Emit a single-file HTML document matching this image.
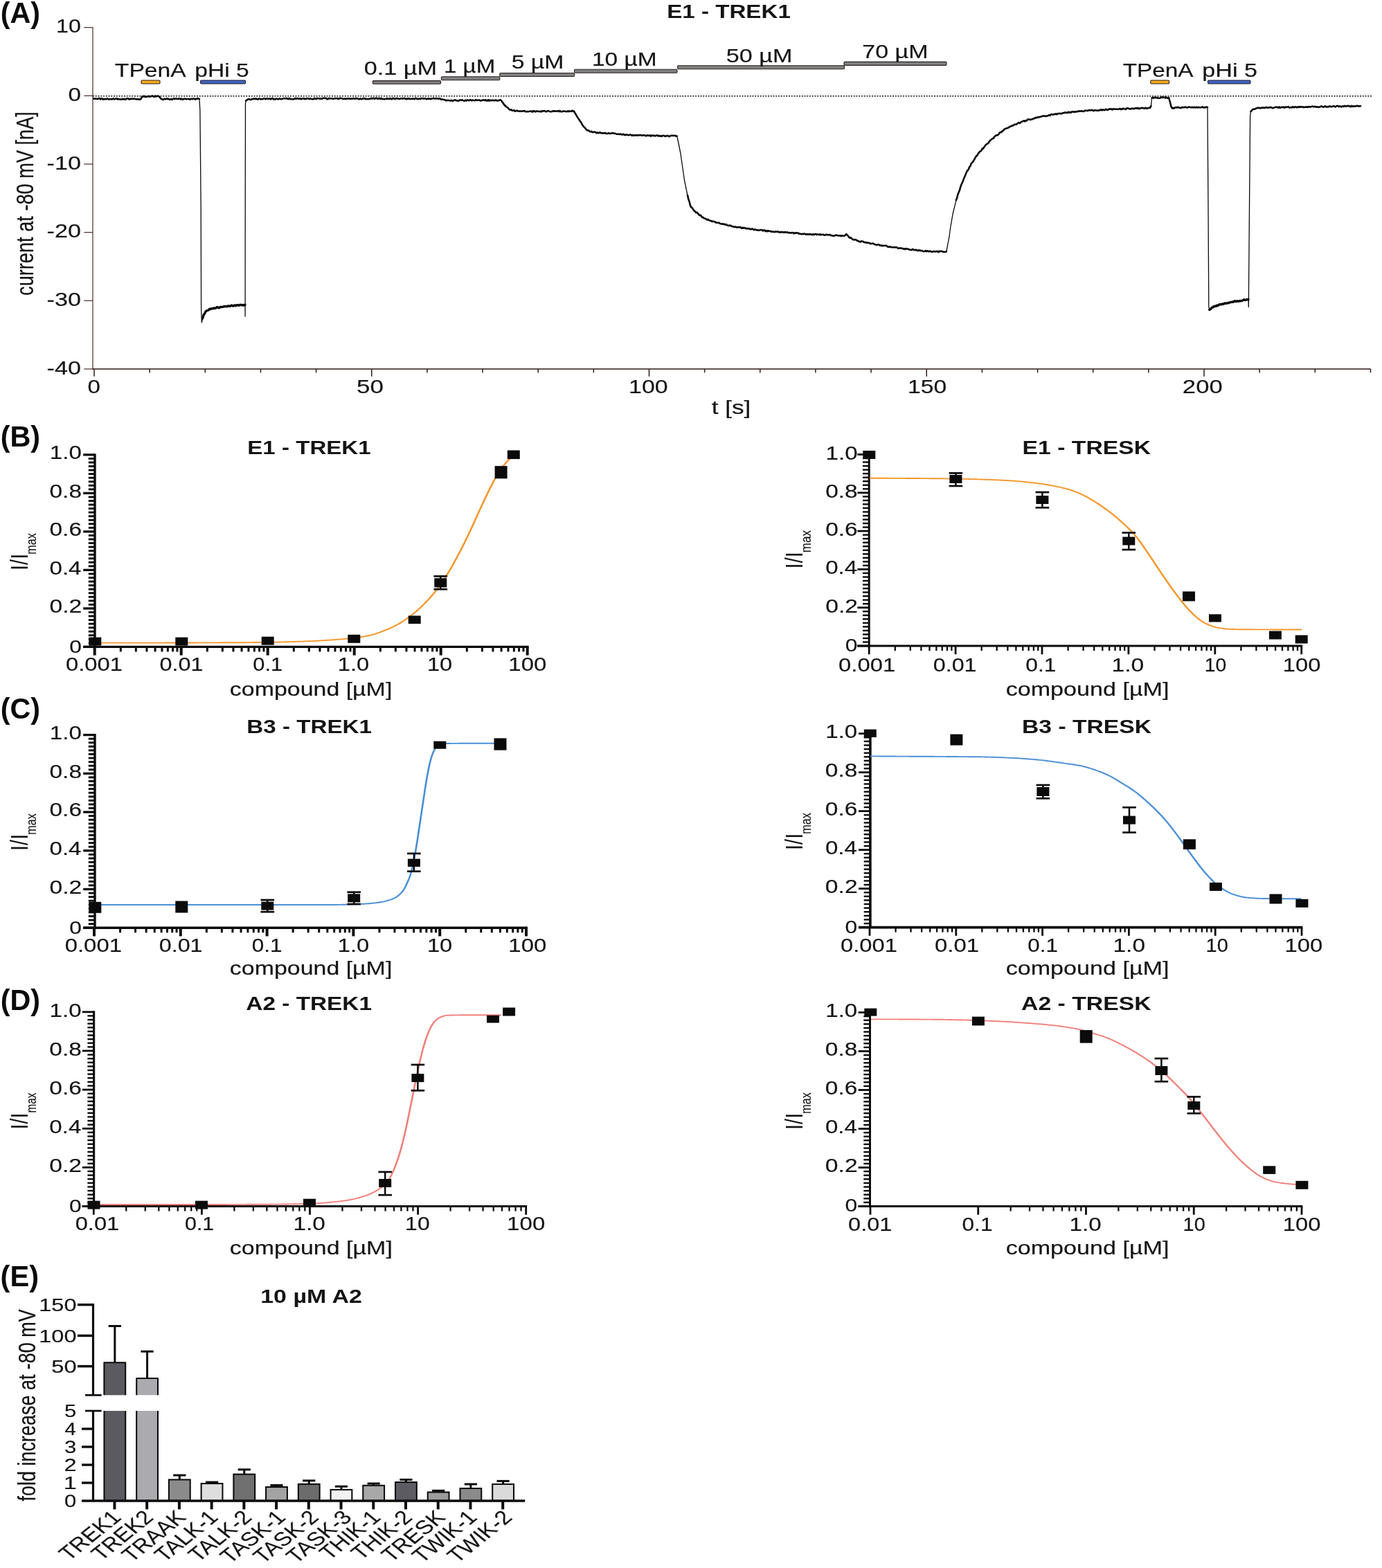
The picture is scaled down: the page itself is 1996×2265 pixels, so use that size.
<!DOCTYPE html>
<html lang="en"><head><meta charset="utf-8"><title>Figure</title>
<style>
html,body{margin:0;padding:0;background:#fff;}
body{width:1996px;height:2265px;overflow:hidden;font-family:"Liberation Sans",sans-serif;}
svg{display:block;font-family:"Liberation Sans",sans-serif;}
</style></head><body>
<svg width="1996" height="2265" viewBox="0 0 1996 2265">
<rect width="1996" height="2265" fill="#fff"/>
<line x1="134.00" y1="39.20" x2="134.00" y2="533.50" stroke="#4a2a25" stroke-width="1.2"/>
<line x1="133.50" y1="533.00" x2="1979.80" y2="533.00" stroke="#2e1a17" stroke-width="1.5"/>
<line x1="121.30" y1="39.70" x2="134.00" y2="39.70" stroke="#4a2a25" stroke-width="1.2"/>
<text transform="translate(81.08 47.30) scale(1.1689 1)" font-size="27.62" fill="#141414" stroke="#141414" stroke-width="0.18">10</text>
<line x1="121.30" y1="138.36" x2="134.00" y2="138.36" stroke="#4a2a25" stroke-width="1.2"/>
<text transform="translate(98.47 145.96) scale(1.2058 1)" font-size="27.62" fill="#141414" stroke="#141414" stroke-width="0.18">0</text>
<line x1="121.30" y1="237.02" x2="134.00" y2="237.02" stroke="#4a2a25" stroke-width="1.2"/>
<text transform="translate(67.56 244.62) scale(1.2385 1)" font-size="27.62" fill="#141414" stroke="#141414" stroke-width="0.18">-10</text>
<line x1="121.30" y1="335.68" x2="134.00" y2="335.68" stroke="#4a2a25" stroke-width="1.2"/>
<text transform="translate(67.56 343.28) scale(1.2385 1)" font-size="27.62" fill="#141414" stroke="#141414" stroke-width="0.18">-20</text>
<line x1="121.30" y1="434.34" x2="134.00" y2="434.34" stroke="#4a2a25" stroke-width="1.2"/>
<text transform="translate(67.56 441.94) scale(1.2385 1)" font-size="27.62" fill="#141414" stroke="#141414" stroke-width="0.18">-30</text>
<line x1="121.30" y1="533.00" x2="134.00" y2="533.00" stroke="#4a2a25" stroke-width="1.2"/>
<text transform="translate(67.56 540.60) scale(1.2385 1)" font-size="27.62" fill="#141414" stroke="#141414" stroke-width="0.18">-40</text>
<line x1="136.00" y1="533.00" x2="136.00" y2="543.80" stroke="#2e1a17" stroke-width="1.5"/>
<line x1="216.15" y1="533.00" x2="216.15" y2="538.40" stroke="#2e1a17" stroke-width="1.5"/>
<line x1="296.30" y1="533.00" x2="296.30" y2="538.40" stroke="#2e1a17" stroke-width="1.5"/>
<line x1="376.45" y1="533.00" x2="376.45" y2="538.40" stroke="#2e1a17" stroke-width="1.5"/>
<line x1="456.60" y1="533.00" x2="456.60" y2="538.40" stroke="#2e1a17" stroke-width="1.5"/>
<line x1="536.75" y1="533.00" x2="536.75" y2="543.80" stroke="#2e1a17" stroke-width="1.5"/>
<line x1="616.90" y1="533.00" x2="616.90" y2="538.40" stroke="#2e1a17" stroke-width="1.5"/>
<line x1="697.05" y1="533.00" x2="697.05" y2="538.40" stroke="#2e1a17" stroke-width="1.5"/>
<line x1="777.20" y1="533.00" x2="777.20" y2="538.40" stroke="#2e1a17" stroke-width="1.5"/>
<line x1="857.35" y1="533.00" x2="857.35" y2="538.40" stroke="#2e1a17" stroke-width="1.5"/>
<line x1="937.50" y1="533.00" x2="937.50" y2="543.80" stroke="#2e1a17" stroke-width="1.5"/>
<line x1="1017.65" y1="533.00" x2="1017.65" y2="538.40" stroke="#2e1a17" stroke-width="1.5"/>
<line x1="1097.80" y1="533.00" x2="1097.80" y2="538.40" stroke="#2e1a17" stroke-width="1.5"/>
<line x1="1177.95" y1="533.00" x2="1177.95" y2="538.40" stroke="#2e1a17" stroke-width="1.5"/>
<line x1="1258.10" y1="533.00" x2="1258.10" y2="538.40" stroke="#2e1a17" stroke-width="1.5"/>
<line x1="1338.25" y1="533.00" x2="1338.25" y2="543.80" stroke="#2e1a17" stroke-width="1.5"/>
<line x1="1418.40" y1="533.00" x2="1418.40" y2="538.40" stroke="#2e1a17" stroke-width="1.5"/>
<line x1="1498.55" y1="533.00" x2="1498.55" y2="538.40" stroke="#2e1a17" stroke-width="1.5"/>
<line x1="1578.70" y1="533.00" x2="1578.70" y2="538.40" stroke="#2e1a17" stroke-width="1.5"/>
<line x1="1658.85" y1="533.00" x2="1658.85" y2="538.40" stroke="#2e1a17" stroke-width="1.5"/>
<line x1="1739.00" y1="533.00" x2="1739.00" y2="543.80" stroke="#2e1a17" stroke-width="1.5"/>
<line x1="1819.15" y1="533.00" x2="1819.15" y2="538.40" stroke="#2e1a17" stroke-width="1.5"/>
<line x1="1899.30" y1="533.00" x2="1899.30" y2="538.40" stroke="#2e1a17" stroke-width="1.5"/>
<line x1="1979.45" y1="533.00" x2="1979.45" y2="538.40" stroke="#2e1a17" stroke-width="1.5"/>
<text transform="translate(126.48 568.10) scale(1.2372 1)" font-size="26.74" fill="#141414" stroke="#141414" stroke-width="0.18">0</text>
<text transform="translate(515.00 568.10) scale(1.3073 1)" font-size="26.74" fill="#141414" stroke="#141414" stroke-width="0.18">50</text>
<text transform="translate(908.05 568.10) scale(1.2696 1)" font-size="26.74" fill="#141414" stroke="#141414" stroke-width="0.18">100</text>
<text transform="translate(1311.07 568.10) scale(1.2600 1)" font-size="26.74" fill="#141414" stroke="#141414" stroke-width="0.18">150</text>
<text transform="translate(1707.87 568.10) scale(1.2969 1)" font-size="26.74" fill="#141414" stroke="#141414" stroke-width="0.18">200</text>
<text transform="translate(1027.67 597.80) scale(1.2751 1)" font-size="27.62" fill="#141414" stroke="#141414" stroke-width="0.18">t [s]</text>
<text transform="translate(47.80 426.96) rotate(-90) scale(1 1.2831)" font-size="27.19" fill="#141414" stroke="#141414" stroke-width="0.18">current at -80 mV [nA]</text>
<text transform="translate(963.16 25.90) scale(1.1641 1)" font-size="28.49" font-weight="bold" fill="#141414">E1 - TREK1</text>
<line x1="134.00" y1="138.76" x2="1982.60" y2="138.76" stroke="#1a0e0c" stroke-width="1.35" stroke-dasharray="2 1.75"/>
<rect x="204.0" y="116.0" width="27.0" height="5.0" rx="1.2" fill="#f5a81c" stroke="#2a1f1d" stroke-width="1.1"/>
<rect x="289.6" y="116.0" width="64.9" height="5.0" rx="1.2" fill="#3d63c4" stroke="#2a1f1d" stroke-width="1.1"/>
<rect x="538.3" y="116.6" width="98.3" height="4.7" rx="1.2" fill="#808080" stroke="#2a1f1d" stroke-width="1.1"/>
<rect x="637.4" y="110.8" width="84.4" height="5.0" rx="1.2" fill="#808080" stroke="#2a1f1d" stroke-width="1.1"/>
<rect x="721.8" y="105.5" width="107.7" height="5.0" rx="1.2" fill="#808080" stroke="#2a1f1d" stroke-width="1.1"/>
<rect x="829.5" y="100.2" width="148.5" height="5.0" rx="1.2" fill="#808080" stroke="#2a1f1d" stroke-width="1.1"/>
<rect x="978.6" y="94.7" width="240.9" height="5.0" rx="1.2" fill="#808080" stroke="#2a1f1d" stroke-width="1.1"/>
<rect x="1219.0" y="89.4" width="148.0" height="5.0" rx="1.2" fill="#808080" stroke="#2a1f1d" stroke-width="1.1"/>
<rect x="1661.8" y="116.0" width="26.8" height="5.0" rx="1.2" fill="#f5a81c" stroke="#2a1f1d" stroke-width="1.1"/>
<rect x="1744.5" y="116.0" width="61.5" height="5.0" rx="1.2" fill="#3d63c4" stroke="#2a1f1d" stroke-width="1.1"/>
<text transform="translate(165.84 110.50) scale(1.2256 1)" font-size="27.47" fill="#141414" stroke="#141414" stroke-width="0.18">TPenA</text>
<text transform="translate(281.21 110.50) scale(1.2240 1)" font-size="27.47" fill="#141414" stroke="#141414" stroke-width="0.18">pHi 5</text>
<text transform="translate(525.63 108.30) scale(1.2479 1)" font-size="27.47" fill="#141414" stroke="#141414" stroke-width="0.18">0.1 µM</text>
<text transform="translate(641.02 105.00) scale(1.2047 1)" font-size="27.47" fill="#141414" stroke="#141414" stroke-width="0.18">1 µM</text>
<text transform="translate(738.65 98.90) scale(1.2294 1)" font-size="27.47" fill="#141414" stroke="#141414" stroke-width="0.18">5 µM</text>
<text transform="translate(854.99 95.00) scale(1.2191 1)" font-size="27.47" fill="#141414" stroke="#141414" stroke-width="0.18">10 µM</text>
<text transform="translate(1048.63 90.20) scale(1.2454 1)" font-size="27.47" fill="#141414" stroke="#141414" stroke-width="0.18">50 µM</text>
<text transform="translate(1245.30 84.10) scale(1.2391 1)" font-size="27.47" fill="#141414" stroke="#141414" stroke-width="0.18">70 µM</text>
<text transform="translate(1621.75 110.50) scale(1.2124 1)" font-size="27.47" fill="#141414" stroke="#141414" stroke-width="0.18">TPenA</text>
<text transform="translate(1736.28 110.50) scale(1.2420 1)" font-size="27.47" fill="#141414" stroke="#141414" stroke-width="0.18">pHi 5</text>
<path d="M135.2 142.7 L136.4 142.3 L137.7 142.8 L138.9 142.5 L140.2 142.9 L141.4 143.0 L142.6 142.1 L143.9 142.0 L145.1 143.4 L146.4 142.4 L147.6 142.4 L148.8 143.7 L150.1 142.8 L151.3 143.4 L152.6 142.9 L153.8 143.1 L155.0 142.4 L156.3 143.2 L157.5 143.6 L158.8 143.0 L160.0 143.0 L161.2 143.4 L162.4 143.3 L163.6 142.3 L164.8 143.4 L166.0 143.1 L167.2 142.6 L168.5 142.2 L169.7 143.5 L170.9 142.9 L172.1 143.3 L173.3 143.5 L174.5 143.3 L175.7 143.6 L176.9 142.8 L178.1 143.4 L179.3 142.8 L180.5 143.6 L181.8 143.5 L183.0 142.3 L184.2 142.3 L185.4 142.4 L186.6 143.6 L187.8 142.8 L189.0 143.1 L190.2 142.5 L191.4 142.9 L192.6 142.7 L193.8 142.6 L195.0 143.0 L196.2 143.0 L197.5 143.5 L198.7 143.1 L199.9 143.5 L201.1 143.4 L202.3 143.6 L203.5 142.8 L205.5 139.2 L206.7 139.5 L208.0 138.6 L209.2 139.7 L210.4 139.9 L211.7 139.8 L212.9 139.2 L214.2 139.5 L215.4 138.7 L216.6 139.6 L217.9 139.2 L219.1 138.7 L220.3 138.4 L221.6 139.6 L222.8 139.8 L224.1 138.4 L225.3 139.5 L226.5 138.9 L227.8 138.5 L229.0 139.0 L230.2 139.9 L231.5 141.5 L233.1 143.0 L234.6 143.6 L235.9 144.0 L237.3 142.6 L238.7 143.3 L240.0 143.0 L241.2 142.3 L242.5 143.3 L243.7 142.7 L244.9 143.6 L246.1 143.7 L247.4 143.0 L248.6 143.8 L249.8 142.7 L251.1 142.3 L252.3 143.1 L253.5 142.2 L254.7 142.5 L256.0 142.8 L257.2 143.1 L258.4 142.4 L259.7 142.2 L260.9 143.5 L262.1 142.6 L263.3 143.6 L264.6 143.5 L265.8 142.7 L267.0 142.8 L268.2 142.9 L269.5 143.1 L270.7 143.0 L271.9 143.0 L273.2 143.1 L274.4 143.6 L275.6 142.9 L276.8 142.7 L278.1 143.2 L279.3 142.4 L280.5 142.5 L281.8 143.6 L283.0 142.9 L284.2 142.9 L285.4 142.0 L286.7 142.7 L287.9 142.8 L287.9 142.8 L288.9 160.0 L290.2 300.0 L290.6 444.4 L291.3 465.8 L292.5 460.0 L292.5 460.0 L294.3 454.5 L295.7 452.7 L297.1 449.9 L298.5 448.8 L299.9 448.4 L301.3 447.8 L302.6 446.3 L304.0 446.6 L305.4 445.8 L306.7 445.5 L307.9 445.7 L309.2 445.0 L310.5 445.3 L311.7 445.2 L313.0 443.8 L314.2 443.7 L315.5 444.5 L316.8 444.7 L318.0 443.4 L319.3 443.6 L320.6 443.4 L321.8 443.4 L323.1 442.8 L324.3 442.8 L325.6 442.5 L326.8 442.5 L328.1 442.7 L329.3 442.0 L330.6 442.0 L331.8 442.5 L333.1 441.9 L334.3 441.0 L335.6 441.8 L336.8 442.0 L338.0 441.2 L339.2 441.0 L340.5 441.8 L341.7 440.8 L342.9 440.6 L344.2 440.9 L345.4 441.3 L346.6 440.2 L347.9 440.5 L349.1 440.4 L350.3 441.1 L351.5 440.4 L352.8 441.0 L354.0 440.3 L354.0 440.3 L354.1 457.0 L354.2 300.0 L354.5 150.0 L355.2 145.3 L355.2 145.3 L357.5 143.8 L358.8 143.2 L360.1 143.3 L361.4 143.7 L362.6 144.0 L363.9 143.2 L365.2 142.7 L366.5 143.0 L367.7 142.4 L369.0 143.0 L370.2 142.5 L371.5 143.4 L372.7 143.5 L373.9 142.4 L375.2 142.5 L376.4 143.4 L377.7 143.1 L378.9 143.3 L380.1 142.6 L381.4 142.2 L382.6 142.5 L383.9 143.3 L385.1 142.4 L386.4 142.5 L387.6 142.6 L388.8 142.6 L390.1 142.6 L391.3 143.4 L392.6 142.1 L393.8 141.9 L395.0 143.4 L396.3 143.3 L397.5 143.4 L398.8 142.5 L400.0 142.6 L401.2 143.3 L402.4 143.3 L403.6 142.2 L404.8 143.0 L406.0 143.1 L407.2 142.9 L408.4 142.6 L409.6 142.3 L410.8 142.3 L412.0 142.2 L413.3 141.9 L414.5 142.7 L415.7 142.2 L416.9 143.1 L418.1 141.9 L419.3 143.2 L420.5 142.9 L421.7 143.3 L422.9 143.2 L424.1 143.2 L425.3 142.7 L426.5 141.8 L427.7 143.0 L428.9 142.0 L430.1 142.2 L431.3 142.8 L432.5 142.6 L433.7 142.4 L434.9 143.3 L436.1 142.7 L437.3 142.3 L438.6 142.2 L439.8 143.1 L441.0 142.5 L442.2 143.0 L443.4 142.3 L444.6 142.1 L445.8 142.6 L447.0 143.1 L448.2 142.0 L449.4 143.0 L450.6 143.2 L451.8 143.0 L453.0 143.1 L454.2 141.8 L455.4 142.8 L456.6 143.1 L457.8 141.8 L459.0 142.2 L460.2 142.2 L461.4 142.6 L462.7 142.4 L463.9 142.5 L465.1 143.0 L466.3 141.7 L467.5 141.8 L468.7 141.9 L469.9 141.9 L471.1 141.8 L472.3 143.3 L473.5 143.1 L474.7 141.9 L475.9 142.5 L477.1 142.2 L478.3 142.2 L479.5 142.3 L480.7 142.8 L481.9 142.7 L483.1 142.3 L484.3 142.0 L485.5 142.2 L486.7 141.9 L488.0 142.6 L489.2 142.9 L490.4 142.3 L491.6 141.8 L492.8 142.0 L494.0 142.3 L495.2 142.7 L496.4 143.0 L497.6 142.3 L498.8 143.0 L500.0 142.5 L501.2 142.7 L502.4 142.4 L503.6 142.3 L504.8 142.5 L506.0 142.8 L507.2 142.4 L508.4 142.8 L509.6 142.4 L510.8 142.1 L512.0 142.6 L513.2 142.8 L514.4 141.8 L515.6 142.4 L516.8 142.4 L518.1 143.1 L519.3 143.2 L520.5 142.3 L521.7 143.2 L522.9 143.0 L524.1 142.1 L525.3 142.5 L526.5 141.9 L527.7 143.0 L528.9 142.8 L530.1 143.1 L531.3 143.0 L532.5 142.8 L533.7 142.9 L534.9 142.6 L536.1 141.9 L537.3 142.7 L538.5 141.7 L539.7 142.0 L540.9 143.0 L542.1 141.8 L543.3 141.9 L544.5 141.9 L545.7 143.1 L546.9 142.0 L548.1 141.8 L549.3 143.1 L550.5 141.9 L551.8 143.1 L553.0 142.8 L554.2 143.1 L555.4 143.3 L556.6 142.7 L557.8 143.0 L559.0 141.8 L560.2 143.0 L561.4 142.6 L562.6 142.9 L563.8 141.9 L565.0 142.9 L566.2 143.2 L567.4 141.8 L568.6 142.3 L569.8 142.7 L571.0 143.1 L572.2 142.1 L573.4 142.0 L574.6 142.2 L575.8 142.7 L577.0 143.0 L578.2 142.4 L579.4 142.3 L580.6 142.4 L581.8 142.3 L583.0 142.4 L584.2 141.9 L585.5 142.6 L586.7 143.3 L587.9 142.4 L589.1 143.0 L590.3 142.0 L591.5 142.9 L592.7 143.0 L593.9 142.8 L595.1 142.6 L596.3 142.5 L597.5 142.8 L598.7 143.2 L599.9 142.0 L601.1 141.9 L602.3 143.0 L603.5 143.2 L604.7 142.6 L605.9 142.5 L607.1 142.9 L608.3 142.1 L609.5 142.2 L610.7 142.1 L611.9 142.7 L613.1 142.3 L614.3 142.2 L615.5 142.9 L616.7 143.3 L617.9 142.3 L619.2 142.9 L620.4 142.4 L621.6 143.2 L622.8 142.7 L624.0 142.2 L625.2 142.1 L626.4 141.8 L627.6 142.6 L628.8 142.4 L630.0 142.1 L631.2 142.4 L632.4 142.3 L633.6 143.0 L634.8 142.0 L636.0 142.6 L637.2 143.7 L638.5 143.3 L639.8 143.8 L641.0 144.0 L642.2 144.1 L643.4 144.9 L644.6 145.1 L645.8 144.9 L647.0 145.0 L648.2 145.0 L649.4 145.3 L650.6 145.6 L651.9 144.8 L653.1 145.4 L654.3 145.7 L655.5 144.9 L656.7 144.5 L657.9 144.5 L659.1 145.3 L660.4 145.2 L661.6 145.7 L662.8 145.5 L664.0 144.5 L665.2 144.5 L666.4 144.6 L667.6 144.4 L668.9 145.3 L670.1 145.5 L671.3 145.6 L672.5 144.5 L673.7 145.5 L674.9 144.6 L676.1 144.8 L677.4 145.3 L678.6 144.3 L679.8 144.3 L681.0 145.4 L682.2 144.6 L683.4 144.7 L684.6 145.0 L685.9 145.2 L687.1 144.1 L688.3 144.6 L689.5 144.8 L690.7 144.9 L691.9 144.4 L693.1 145.0 L694.4 145.6 L695.6 144.7 L696.8 144.9 L698.0 144.3 L699.2 144.5 L700.4 145.1 L701.6 144.2 L702.9 145.5 L704.1 145.5 L705.3 144.2 L706.5 145.6 L707.7 144.6 L708.9 145.3 L710.1 145.2 L711.4 144.5 L712.6 145.1 L713.8 145.1 L715.0 145.3 L716.2 144.4 L717.4 145.2 L718.6 145.6 L719.9 145.1 L721.1 144.9 L722.3 144.2 L723.5 144.8 L724.9 146.6 L726.2 148.2 L727.6 150.5 L729.0 152.0 L730.4 153.5 L731.8 154.6 L733.2 155.3 L734.6 157.3 L736.0 158.3 L737.3 158.8 L738.6 158.4 L739.9 159.8 L741.1 159.7 L742.4 159.1 L743.7 160.7 L745.0 160.3 L746.3 159.8 L747.5 160.1 L748.8 160.8 L750.1 160.6 L751.3 160.6 L752.6 160.8 L753.9 160.6 L755.1 160.4 L756.4 160.2 L757.7 160.1 L758.9 161.2 L760.2 161.3 L761.5 161.0 L762.7 161.3 L764.0 161.0 L765.2 160.8 L766.4 160.6 L767.6 160.8 L768.8 161.6 L770.0 160.2 L771.2 161.0 L772.4 160.5 L773.6 161.4 L774.8 160.7 L776.0 160.6 L777.2 160.7 L778.4 161.0 L779.6 161.3 L780.9 160.6 L782.1 161.4 L783.3 160.2 L784.5 160.5 L785.7 160.2 L786.9 160.2 L788.1 161.3 L789.3 161.2 L790.5 160.3 L791.7 160.3 L792.9 160.6 L794.1 161.2 L795.3 161.3 L796.5 161.1 L797.7 160.9 L798.9 160.2 L800.1 160.6 L801.3 160.2 L802.5 160.7 L803.7 160.8 L804.9 160.2 L806.1 160.3 L807.3 161.1 L808.5 159.9 L809.7 161.1 L810.9 161.3 L812.1 161.3 L813.4 160.4 L814.6 160.7 L815.8 160.7 L817.0 160.8 L818.2 161.3 L819.4 160.9 L820.6 160.2 L821.8 161.1 L823.0 160.5 L824.2 160.7 L825.4 160.9 L826.6 159.7 L827.8 160.9 L829.0 160.5 L830.2 162.9 L831.4 164.7 L832.6 166.8 L833.8 168.8 L835.0 171.0 L836.3 172.5 L837.7 175.0 L839.0 176.3 L840.3 179.0 L841.7 181.2 L843.0 183.0 L844.2 184.0 L845.4 185.3 L846.6 187.0 L847.8 188.0 L849.0 188.5 L850.3 188.4 L851.6 190.0 L852.9 190.2 L854.2 189.8 L855.5 191.0 L856.7 190.9 L858.0 190.7 L859.2 190.5 L860.4 191.4 L861.6 192.1 L862.9 191.2 L864.1 192.1 L865.3 191.9 L866.5 191.1 L867.8 192.3 L869.0 192.0 L870.2 192.6 L871.4 192.3 L872.6 192.4 L873.9 191.9 L875.1 192.7 L876.3 193.0 L877.5 192.9 L878.8 192.3 L880.0 192.5 L881.2 193.0 L882.4 192.7 L883.7 192.2 L884.9 192.2 L886.1 192.4 L887.3 192.7 L888.5 192.7 L889.8 193.4 L891.0 193.8 L892.2 193.7 L893.4 193.6 L894.6 194.1 L895.9 193.6 L897.1 194.0 L898.3 194.6 L899.5 194.1 L900.7 193.9 L902.0 195.1 L903.2 194.9 L904.4 194.5 L905.6 194.6 L906.8 195.0 L908.1 195.2 L909.3 194.7 L910.5 194.5 L911.7 194.9 L912.9 195.9 L914.2 195.0 L915.4 195.6 L916.6 195.8 L917.8 195.3 L919.0 195.4 L920.3 195.3 L921.5 195.7 L922.7 195.3 L923.9 195.1 L925.2 195.3 L926.4 195.4 L927.6 195.9 L928.8 195.3 L930.0 195.2 L931.3 195.9 L932.5 195.9 L933.7 196.3 L934.9 195.3 L936.2 195.9 L937.4 195.9 L938.6 195.3 L939.8 196.8 L941.0 195.7 L942.3 195.5 L943.5 196.1 L944.7 195.6 L945.9 196.4 L947.2 196.0 L948.4 195.6 L949.6 195.5 L950.8 196.6 L952.0 195.9 L953.3 196.7 L954.5 196.2 L955.7 197.0 L956.9 196.0 L958.1 195.9 L959.4 196.0 L960.6 196.9 L961.8 196.6 L963.0 196.2 L964.3 195.8 L965.5 196.7 L966.7 197.2 L967.9 196.6 L969.1 195.7 L970.4 195.8 L971.6 195.9 L972.8 196.0 L974.0 195.8 L975.3 195.9 L976.5 196.8 L977.7 196.6 L977.7 196.6 L980.0 207.0 L981.5 214.5 L983.0 222.0 L984.4 231.8 L985.8 241.5 L987.2 251.2 L988.6 261.0 L990.1 268.0 L991.5 275.0 L993.0 282.0 L993.0 282.0 L994.3 287.6 L995.7 291.5 L997.0 297.0 L998.4 299.5 L999.8 300.4 L1001.2 302.6 L1002.6 304.5 L1004.0 305.5 L1005.3 307.2 L1006.5 306.7 L1007.8 308.1 L1009.0 309.6 L1010.3 311.1 L1011.6 310.7 L1012.8 312.0 L1014.1 313.9 L1015.3 313.7 L1016.6 315.3 L1017.8 315.5 L1019.1 315.9 L1020.3 316.8 L1021.5 317.6 L1022.7 316.8 L1024.0 318.2 L1025.2 318.6 L1026.4 319.1 L1027.6 319.1 L1028.9 320.1 L1030.1 319.6 L1031.3 320.1 L1032.5 320.2 L1033.8 321.5 L1035.0 321.5 L1036.2 321.8 L1037.5 321.7 L1038.8 321.9 L1040.0 323.1 L1041.2 323.2 L1042.5 323.6 L1043.8 323.4 L1045.0 323.9 L1046.2 323.6 L1047.5 324.8 L1048.8 324.0 L1050.0 325.0 L1051.2 325.8 L1052.5 326.0 L1053.8 325.4 L1055.0 326.3 L1056.2 326.1 L1057.5 327.3 L1058.8 327.2 L1060.0 327.7 L1061.2 327.9 L1062.5 327.5 L1063.8 328.4 L1065.0 328.4 L1066.2 327.9 L1067.5 328.2 L1068.8 327.9 L1070.0 328.7 L1071.2 329.8 L1072.5 328.6 L1073.8 329.6 L1075.0 329.0 L1076.2 329.2 L1077.5 330.3 L1078.8 329.9 L1080.0 330.5 L1081.2 329.9 L1082.4 330.2 L1083.7 331.2 L1084.9 331.2 L1086.1 330.4 L1087.3 330.9 L1088.6 332.2 L1089.8 331.2 L1091.0 331.9 L1092.2 331.8 L1093.5 332.5 L1094.7 332.3 L1095.9 332.8 L1097.1 332.5 L1098.4 332.1 L1099.6 332.2 L1100.8 332.2 L1102.0 333.5 L1103.3 332.5 L1104.5 332.5 L1105.7 334.2 L1106.9 333.1 L1108.2 334.3 L1109.4 333.2 L1110.6 334.0 L1111.8 334.0 L1113.0 333.7 L1114.2 334.8 L1115.4 334.5 L1116.6 334.7 L1117.8 334.9 L1119.0 335.2 L1120.2 334.4 L1121.4 334.9 L1122.6 334.8 L1123.8 334.3 L1125.1 335.6 L1126.3 335.3 L1127.5 335.7 L1128.7 334.8 L1129.9 335.5 L1131.1 335.4 L1132.3 335.9 L1133.5 335.0 L1134.7 335.5 L1135.9 335.8 L1137.1 335.2 L1138.3 336.1 L1139.5 336.5 L1140.7 336.1 L1141.9 336.5 L1143.1 336.5 L1144.3 336.0 L1145.5 336.3 L1146.7 337.4 L1147.9 336.4 L1149.1 336.7 L1150.3 336.2 L1151.5 336.5 L1152.8 336.5 L1154.0 337.8 L1155.2 337.6 L1156.4 337.9 L1157.6 338.2 L1158.8 337.7 L1160.0 338.3 L1161.2 337.7 L1162.4 337.6 L1163.6 338.5 L1164.8 338.6 L1166.0 338.0 L1167.2 338.8 L1168.4 338.1 L1169.7 338.6 L1170.9 338.1 L1172.1 339.1 L1173.3 339.0 L1174.5 338.1 L1175.8 339.2 L1177.0 338.1 L1178.2 338.0 L1179.4 339.0 L1180.7 338.4 L1181.9 338.8 L1183.1 339.1 L1184.3 338.2 L1185.5 339.4 L1186.8 338.7 L1188.0 339.0 L1189.2 338.9 L1190.4 339.6 L1191.6 339.7 L1192.9 339.0 L1194.1 338.8 L1195.3 339.2 L1196.5 339.4 L1197.7 339.0 L1199.0 339.1 L1200.2 340.2 L1201.4 340.1 L1202.6 340.6 L1203.8 340.7 L1205.1 340.6 L1206.3 339.9 L1207.5 339.6 L1208.7 339.9 L1210.0 340.2 L1211.2 340.4 L1212.4 340.5 L1213.6 340.2 L1214.8 341.1 L1216.1 340.2 L1217.3 340.6 L1218.5 340.7 L1219.8 340.5 L1221.0 339.5 L1222.3 338.2 L1223.5 339.3 L1224.8 340.7 L1226.0 342.5 L1227.2 343.7 L1228.4 343.1 L1229.6 344.0 L1230.8 345.3 L1232.0 346.0 L1233.2 346.4 L1234.4 346.1 L1235.6 346.2 L1236.8 346.7 L1238.0 347.9 L1239.2 347.7 L1240.4 348.9 L1241.6 348.9 L1242.8 349.5 L1244.0 348.3 L1245.2 348.8 L1246.4 348.8 L1247.6 349.8 L1248.8 349.9 L1250.0 350.5 L1251.2 350.0 L1252.4 351.0 L1253.6 350.5 L1254.8 351.0 L1256.0 351.1 L1257.2 352.2 L1258.4 351.8 L1259.6 351.8 L1260.8 351.6 L1262.0 352.4 L1263.2 353.0 L1264.5 353.2 L1265.7 353.8 L1266.9 353.9 L1268.1 353.2 L1269.3 353.2 L1270.5 354.4 L1271.7 354.6 L1272.9 354.4 L1274.1 355.1 L1275.3 354.9 L1276.5 355.0 L1277.7 354.8 L1279.0 354.8 L1280.2 354.8 L1281.4 356.0 L1282.7 356.6 L1283.9 356.8 L1285.2 356.2 L1286.4 356.7 L1287.6 357.3 L1288.9 357.3 L1290.1 357.2 L1291.3 357.1 L1292.6 357.4 L1293.8 357.1 L1295.1 357.3 L1296.3 358.2 L1297.5 358.9 L1298.8 358.4 L1300.0 358.5 L1301.2 358.5 L1302.5 358.6 L1303.7 358.9 L1304.9 359.6 L1306.2 359.2 L1307.4 360.1 L1308.6 359.0 L1309.8 359.4 L1311.1 359.9 L1312.3 359.8 L1313.5 360.7 L1314.8 360.8 L1316.0 361.1 L1317.2 360.7 L1318.5 359.9 L1319.7 361.0 L1320.9 361.1 L1322.2 361.1 L1323.4 360.9 L1324.6 361.8 L1325.8 362.2 L1327.1 361.1 L1328.3 362.1 L1329.5 361.8 L1330.8 362.2 L1332.0 362.3 L1333.2 363.0 L1334.4 363.2 L1335.6 362.8 L1336.8 362.1 L1338.0 363.4 L1339.2 362.3 L1340.4 362.7 L1341.6 363.5 L1342.8 362.7 L1344.0 362.7 L1345.2 363.9 L1346.4 364.0 L1347.6 363.0 L1348.8 363.2 L1350.0 363.5 L1351.3 363.2 L1352.6 362.9 L1353.9 363.1 L1355.2 364.3 L1356.5 362.8 L1357.8 363.1 L1359.0 363.0 L1360.3 362.8 L1361.6 363.5 L1362.9 363.9 L1364.2 364.0 L1365.5 363.7 L1366.8 363.5 L1366.8 363.5 L1368.3 356.0 L1369.5 349.5 L1370.8 343.0 L1373.0 327.0 L1374.5 318.4 L1376.0 309.7 L1377.2 304.5 L1378.5 299.4 L1379.8 294.2 L1381.0 289.0 L1381.0 289.0 L1382.2 285.9 L1383.4 281.0 L1384.6 277.9 L1385.8 275.3 L1387.0 271.0 L1388.3 267.0 L1389.7 264.0 L1391.0 261.0 L1392.3 257.3 L1393.7 254.4 L1395.0 251.0 L1396.3 248.0 L1397.5 246.0 L1398.8 244.9 L1400.0 241.3 L1401.3 240.2 L1402.5 236.8 L1403.8 235.0 L1405.1 234.0 L1406.3 231.7 L1407.6 229.8 L1408.9 227.2 L1410.2 225.2 L1411.5 224.5 L1412.7 221.8 L1414.0 220.5 L1415.2 218.7 L1416.4 218.4 L1417.6 217.2 L1418.8 214.5 L1420.0 214.7 L1421.2 212.7 L1422.4 211.1 L1423.6 209.4 L1424.8 208.5 L1426.0 207.4 L1427.3 207.0 L1428.6 204.7 L1429.9 203.2 L1431.2 202.1 L1432.5 200.9 L1433.8 200.0 L1435.1 199.7 L1436.4 197.2 L1437.7 196.2 L1439.0 195.5 L1440.2 195.4 L1441.4 194.6 L1442.6 193.7 L1443.8 191.7 L1445.0 191.0 L1446.2 191.1 L1447.5 189.5 L1448.7 189.0 L1449.9 187.6 L1451.1 186.2 L1452.3 185.9 L1453.5 185.3 L1454.8 185.1 L1456.0 184.6 L1457.3 183.7 L1458.6 183.0 L1459.8 182.6 L1461.1 181.8 L1462.4 181.4 L1463.7 181.3 L1464.9 179.8 L1466.2 179.8 L1467.5 179.8 L1468.7 179.1 L1470.0 178.0 L1471.3 177.1 L1472.6 177.9 L1473.9 177.3 L1475.1 175.8 L1476.4 175.5 L1477.7 175.0 L1479.0 174.4 L1480.3 175.4 L1481.6 174.1 L1482.8 174.4 L1484.1 172.8 L1485.4 172.2 L1486.7 172.6 L1488.0 172.9 L1489.2 172.5 L1490.5 172.5 L1491.7 171.7 L1493.0 171.1 L1494.2 171.2 L1495.5 169.8 L1496.7 170.3 L1498.0 169.8 L1499.2 169.0 L1500.5 169.5 L1501.7 168.7 L1503.0 168.7 L1504.2 168.2 L1505.5 167.8 L1506.7 167.6 L1508.0 167.5 L1509.2 167.5 L1510.4 167.9 L1511.6 167.6 L1512.8 167.3 L1514.1 167.0 L1515.3 166.0 L1516.5 166.9 L1517.7 165.5 L1518.9 165.1 L1520.1 165.5 L1521.3 165.7 L1522.5 164.8 L1523.7 165.1 L1524.9 164.4 L1526.2 165.2 L1527.4 164.2 L1528.6 164.1 L1529.8 164.0 L1531.0 163.7 L1532.2 164.2 L1533.4 164.2 L1534.6 163.3 L1535.8 163.1 L1537.0 163.2 L1538.2 162.2 L1539.4 162.6 L1540.6 163.2 L1541.8 162.9 L1543.0 161.6 L1544.2 162.8 L1545.4 161.9 L1546.6 162.7 L1547.8 161.6 L1549.0 161.2 L1550.2 161.6 L1551.4 162.0 L1552.6 161.2 L1553.8 161.7 L1555.0 161.0 L1556.2 161.3 L1557.4 160.6 L1558.7 160.4 L1559.9 160.7 L1561.1 160.4 L1562.3 160.3 L1563.6 160.7 L1564.8 161.0 L1566.0 160.4 L1567.2 159.6 L1568.5 159.7 L1569.7 159.8 L1570.9 160.1 L1572.1 159.3 L1573.4 159.1 L1574.6 159.4 L1575.8 159.3 L1577.0 158.8 L1578.3 159.5 L1579.5 160.1 L1580.7 159.3 L1581.9 159.3 L1583.2 159.6 L1584.4 159.6 L1585.6 159.6 L1586.8 159.6 L1588.1 158.8 L1589.3 159.2 L1590.5 158.2 L1591.8 159.3 L1593.0 158.5 L1594.2 158.6 L1595.4 159.2 L1596.7 158.1 L1597.9 157.9 L1599.1 158.9 L1600.3 158.5 L1601.6 157.6 L1602.8 157.4 L1604.0 157.9 L1605.3 157.3 L1606.5 158.5 L1607.7 157.4 L1608.9 157.5 L1610.2 157.6 L1611.4 157.8 L1612.6 157.6 L1613.9 157.8 L1615.1 157.8 L1616.3 157.4 L1617.5 156.8 L1618.8 158.1 L1620.0 157.3 L1621.2 157.6 L1622.4 156.6 L1623.6 157.1 L1624.8 157.6 L1626.0 157.9 L1627.2 156.4 L1628.4 156.2 L1629.6 157.0 L1630.9 156.8 L1632.1 157.5 L1633.3 157.4 L1634.5 156.6 L1635.7 156.7 L1636.9 156.9 L1638.1 157.3 L1639.3 156.2 L1640.5 156.5 L1641.7 156.0 L1642.9 156.8 L1644.1 155.8 L1645.3 157.2 L1646.5 156.5 L1647.7 156.5 L1648.9 155.7 L1650.1 155.9 L1651.4 156.3 L1652.6 156.8 L1653.8 156.3 L1655.0 155.8 L1656.2 156.9 L1657.4 156.4 L1658.6 156.1 L1659.8 155.6 L1661.0 156.0 L1662.4 153.0 L1662.4 153.0 L1663.6 141.2 L1663.6 141.2 L1664.8 140.9 L1666.0 141.8 L1667.3 140.6 L1668.5 141.2 L1669.7 141.3 L1670.9 140.9 L1672.1 141.6 L1673.4 141.8 L1674.6 141.7 L1675.8 141.5 L1677.0 140.6 L1678.2 140.4 L1679.5 141.0 L1680.7 140.8 L1681.9 140.6 L1683.1 141.6 L1684.3 140.6 L1685.6 141.5 L1686.8 141.7 L1688.0 141.0 L1689.5 146.0 L1691.5 154.0 L1692.8 156.3 L1694.0 155.6 L1695.2 156.7 L1696.4 155.7 L1697.6 155.3 L1698.8 155.1 L1700.0 155.5 L1701.2 154.7 L1702.4 155.5 L1703.7 155.3 L1704.9 156.0 L1706.1 155.9 L1707.3 154.7 L1708.6 155.2 L1709.8 155.2 L1711.0 154.8 L1712.2 154.9 L1713.4 154.9 L1714.7 155.6 L1715.9 155.0 L1717.1 154.6 L1718.3 154.8 L1719.6 155.1 L1720.8 155.3 L1722.0 154.8 L1723.2 155.5 L1724.4 154.7 L1725.7 155.4 L1726.9 155.3 L1728.1 154.6 L1729.3 155.5 L1730.6 154.9 L1731.8 155.1 L1733.0 155.2 L1734.2 155.2 L1735.4 154.9 L1736.7 154.3 L1737.9 155.4 L1739.1 155.5 L1740.3 154.9 L1741.6 155.1 L1742.8 154.5 L1744.0 154.9 L1744.0 154.9 L1745.0 300.0 L1745.8 442.5 L1746.8 447.5 L1746.8 447.5 L1748.4 446.6 L1750.0 444.5 L1751.2 444.2 L1752.5 442.8 L1753.8 443.1 L1755.0 442.0 L1756.3 442.4 L1757.7 441.0 L1759.0 441.6 L1760.3 440.4 L1761.7 439.6 L1763.0 439.7 L1764.2 439.8 L1765.4 438.9 L1766.6 439.3 L1767.9 438.8 L1769.1 437.8 L1770.3 438.2 L1771.5 438.4 L1772.7 437.6 L1773.9 437.4 L1775.1 437.6 L1776.4 436.7 L1777.6 436.5 L1778.8 436.4 L1780.0 436.0 L1781.2 436.3 L1782.4 435.2 L1783.6 434.8 L1784.8 435.7 L1786.1 435.2 L1787.3 434.6 L1788.5 435.3 L1789.7 435.1 L1790.9 434.4 L1792.1 434.9 L1793.3 434.5 L1794.5 434.2 L1795.7 433.3 L1796.9 432.6 L1798.2 433.5 L1799.4 433.4 L1800.6 432.6 L1801.8 432.7 L1803.0 432.5 L1803.0 432.5 L1803.3 443.6 L1804.5 300.0 L1805.6 167.7 L1806.5 161.0 L1806.5 161.0 L1807.8 159.8 L1809.0 158.3 L1810.4 157.5 L1811.7 157.8 L1813.1 157.1 L1814.4 156.4 L1815.8 156.2 L1817.0 155.5 L1818.2 156.2 L1819.5 155.8 L1820.7 156.4 L1821.9 155.5 L1823.1 155.8 L1824.3 155.4 L1825.6 155.7 L1826.8 155.9 L1828.0 155.1 L1829.2 155.0 L1830.5 155.7 L1831.7 155.2 L1832.9 155.6 L1834.1 155.0 L1835.3 154.9 L1836.6 155.5 L1837.8 156.1 L1839.0 156.0 L1840.2 155.4 L1841.5 155.1 L1842.7 154.6 L1843.9 154.9 L1845.1 154.9 L1846.3 155.8 L1847.6 154.5 L1848.8 155.8 L1850.0 155.0 L1851.2 154.9 L1852.4 154.9 L1853.7 154.6 L1854.9 155.7 L1856.1 154.4 L1857.3 155.0 L1858.5 154.9 L1859.8 154.4 L1861.0 154.4 L1862.2 155.6 L1863.4 155.3 L1864.6 155.1 L1865.9 155.4 L1867.1 154.1 L1868.3 155.0 L1869.5 155.1 L1870.7 154.2 L1872.0 154.6 L1873.2 155.4 L1874.4 154.3 L1875.6 155.0 L1876.8 154.0 L1878.0 154.8 L1879.3 154.2 L1880.5 154.5 L1881.7 154.3 L1882.9 155.1 L1884.1 154.8 L1885.4 154.4 L1886.6 154.7 L1887.8 154.3 L1889.0 154.9 L1890.2 154.0 L1891.5 154.4 L1892.7 154.5 L1893.9 154.1 L1895.1 153.6 L1896.3 153.7 L1897.6 154.5 L1898.8 153.8 L1900.0 154.2 L1901.2 154.6 L1902.4 154.2 L1903.6 154.9 L1904.8 154.7 L1906.0 154.5 L1907.2 153.9 L1908.4 153.3 L1909.6 154.1 L1910.8 154.4 L1912.0 154.7 L1913.2 153.5 L1914.4 153.4 L1915.6 154.7 L1916.9 154.3 L1918.1 153.9 L1919.3 154.3 L1920.5 153.3 L1921.7 153.9 L1922.9 154.1 L1924.1 154.0 L1925.3 153.3 L1926.5 153.2 L1927.7 154.0 L1928.9 154.4 L1930.1 153.2 L1931.3 152.9 L1932.5 153.0 L1933.7 154.1 L1934.9 153.5 L1936.1 153.6 L1937.3 154.4 L1938.5 153.8 L1939.7 153.2 L1940.9 153.9 L1942.1 152.8 L1943.3 153.2 L1944.5 153.8 L1945.7 153.0 L1946.9 152.7 L1948.1 153.5 L1949.4 153.2 L1950.6 154.2 L1951.8 152.8 L1953.0 153.9 L1954.2 153.2 L1955.4 153.8 L1956.6 153.2 L1957.8 153.6 L1959.0 153.0 L1960.2 152.8 L1961.4 153.2 L1962.6 153.7 L1963.8 153.0 L1965.0 153.2" fill="none" stroke="#0a0a0a" stroke-width="1.3" stroke-linejoin="round"/>
<path d="M135.2 142.7 L136.4 142.3 L137.7 142.8 L138.9 142.5 L140.2 142.9 L141.4 143.0 L142.6 142.1 L143.9 142.0 L145.1 143.4 L146.4 142.4 L147.6 142.4 L148.8 143.7 L150.1 142.8 L151.3 143.4 L152.6 142.9 L153.8 143.1 L155.0 142.4 L156.3 143.2 L157.5 143.6 L158.8 143.0 L160.0 143.0 L161.2 143.4 L162.4 143.3 L163.6 142.3 L164.8 143.4 L166.0 143.1 L167.2 142.6 L168.5 142.2 L169.7 143.5 L170.9 142.9 L172.1 143.3 L173.3 143.5 L174.5 143.3 L175.7 143.6 L176.9 142.8 L178.1 143.4 L179.3 142.8 L180.5 143.6 L181.8 143.5 L183.0 142.3 L184.2 142.3 L185.4 142.4 L186.6 143.6 L187.8 142.8 L189.0 143.1 L190.2 142.5 L191.4 142.9 L192.6 142.7 L193.8 142.6 L195.0 143.0 L196.2 143.0 L197.5 143.5 L198.7 143.1 L199.9 143.5 L201.1 143.4 L202.3 143.6 L203.5 142.8 L205.5 139.2 L206.7 139.5 L208.0 138.6 L209.2 139.7 L210.4 139.9 L211.7 139.8 L212.9 139.2 L214.2 139.5 L215.4 138.7 L216.6 139.6 L217.9 139.2 L219.1 138.7 L220.3 138.4 L221.6 139.6 L222.8 139.8 L224.1 138.4 L225.3 139.5 L226.5 138.9 L227.8 138.5 L229.0 139.0 L230.2 139.9 L231.5 141.5 L233.1 143.0 L234.6 143.6 L235.9 144.0 L237.3 142.6 L238.7 143.3 L240.0 143.0 L241.2 142.3 L242.5 143.3 L243.7 142.7 L244.9 143.6 L246.1 143.7 L247.4 143.0 L248.6 143.8 L249.8 142.7 L251.1 142.3 L252.3 143.1 L253.5 142.2 L254.7 142.5 L256.0 142.8 L257.2 143.1 L258.4 142.4 L259.7 142.2 L260.9 143.5 L262.1 142.6 L263.3 143.6 L264.6 143.5 L265.8 142.7 L267.0 142.8 L268.2 142.9 L269.5 143.1 L270.7 143.0 L271.9 143.0 L273.2 143.1 L274.4 143.6 L275.6 142.9 L276.8 142.7 L278.1 143.2 L279.3 142.4 L280.5 142.5 L281.8 143.6 L283.0 142.9 L284.2 142.9 L285.4 142.0 L286.7 142.7 L287.9 142.8" fill="none" stroke="#0a0a0a" stroke-width="2.6" stroke-linejoin="round" stroke-linecap="round"/>
<path d="M292.5 460.0 L294.3 454.5 L295.7 452.7 L297.1 449.9 L298.5 448.8 L299.9 448.4 L301.3 447.8 L302.6 446.3 L304.0 446.6 L305.4 445.8 L306.7 445.5 L307.9 445.7 L309.2 445.0 L310.5 445.3 L311.7 445.2 L313.0 443.8 L314.2 443.7 L315.5 444.5 L316.8 444.7 L318.0 443.4 L319.3 443.6 L320.6 443.4 L321.8 443.4 L323.1 442.8 L324.3 442.8 L325.6 442.5 L326.8 442.5 L328.1 442.7 L329.3 442.0 L330.6 442.0 L331.8 442.5 L333.1 441.9 L334.3 441.0 L335.6 441.8 L336.8 442.0 L338.0 441.2 L339.2 441.0 L340.5 441.8 L341.7 440.8 L342.9 440.6 L344.2 440.9 L345.4 441.3 L346.6 440.2 L347.9 440.5 L349.1 440.4 L350.3 441.1 L351.5 440.4 L352.8 441.0 L354.0 440.3" fill="none" stroke="#0a0a0a" stroke-width="3.4" stroke-linejoin="round" stroke-linecap="round"/>
<path d="M355.2 145.3 L357.5 143.8 L358.8 143.2 L360.1 143.3 L361.4 143.7 L362.6 144.0 L363.9 143.2 L365.2 142.7 L366.5 143.0 L367.7 142.4 L369.0 143.0 L370.2 142.5 L371.5 143.4 L372.7 143.5 L373.9 142.4 L375.2 142.5 L376.4 143.4 L377.7 143.1 L378.9 143.3 L380.1 142.6 L381.4 142.2 L382.6 142.5 L383.9 143.3 L385.1 142.4 L386.4 142.5 L387.6 142.6 L388.8 142.6 L390.1 142.6 L391.3 143.4 L392.6 142.1 L393.8 141.9 L395.0 143.4 L396.3 143.3 L397.5 143.4 L398.8 142.5 L400.0 142.6 L401.2 143.3 L402.4 143.3 L403.6 142.2 L404.8 143.0 L406.0 143.1 L407.2 142.9 L408.4 142.6 L409.6 142.3 L410.8 142.3 L412.0 142.2 L413.3 141.9 L414.5 142.7 L415.7 142.2 L416.9 143.1 L418.1 141.9 L419.3 143.2 L420.5 142.9 L421.7 143.3 L422.9 143.2 L424.1 143.2 L425.3 142.7 L426.5 141.8 L427.7 143.0 L428.9 142.0 L430.1 142.2 L431.3 142.8 L432.5 142.6 L433.7 142.4 L434.9 143.3 L436.1 142.7 L437.3 142.3 L438.6 142.2 L439.8 143.1 L441.0 142.5 L442.2 143.0 L443.4 142.3 L444.6 142.1 L445.8 142.6 L447.0 143.1 L448.2 142.0 L449.4 143.0 L450.6 143.2 L451.8 143.0 L453.0 143.1 L454.2 141.8 L455.4 142.8 L456.6 143.1 L457.8 141.8 L459.0 142.2 L460.2 142.2 L461.4 142.6 L462.7 142.4 L463.9 142.5 L465.1 143.0 L466.3 141.7 L467.5 141.8 L468.7 141.9 L469.9 141.9 L471.1 141.8 L472.3 143.3 L473.5 143.1 L474.7 141.9 L475.9 142.5 L477.1 142.2 L478.3 142.2 L479.5 142.3 L480.7 142.8 L481.9 142.7 L483.1 142.3 L484.3 142.0 L485.5 142.2 L486.7 141.9 L488.0 142.6 L489.2 142.9 L490.4 142.3 L491.6 141.8 L492.8 142.0 L494.0 142.3 L495.2 142.7 L496.4 143.0 L497.6 142.3 L498.8 143.0 L500.0 142.5 L501.2 142.7 L502.4 142.4 L503.6 142.3 L504.8 142.5 L506.0 142.8 L507.2 142.4 L508.4 142.8 L509.6 142.4 L510.8 142.1 L512.0 142.6 L513.2 142.8 L514.4 141.8 L515.6 142.4 L516.8 142.4 L518.1 143.1 L519.3 143.2 L520.5 142.3 L521.7 143.2 L522.9 143.0 L524.1 142.1 L525.3 142.5 L526.5 141.9 L527.7 143.0 L528.9 142.8 L530.1 143.1 L531.3 143.0 L532.5 142.8 L533.7 142.9 L534.9 142.6 L536.1 141.9 L537.3 142.7 L538.5 141.7 L539.7 142.0 L540.9 143.0 L542.1 141.8 L543.3 141.9 L544.5 141.9 L545.7 143.1 L546.9 142.0 L548.1 141.8 L549.3 143.1 L550.5 141.9 L551.8 143.1 L553.0 142.8 L554.2 143.1 L555.4 143.3 L556.6 142.7 L557.8 143.0 L559.0 141.8 L560.2 143.0 L561.4 142.6 L562.6 142.9 L563.8 141.9 L565.0 142.9 L566.2 143.2 L567.4 141.8 L568.6 142.3 L569.8 142.7 L571.0 143.1 L572.2 142.1 L573.4 142.0 L574.6 142.2 L575.8 142.7 L577.0 143.0 L578.2 142.4 L579.4 142.3 L580.6 142.4 L581.8 142.3 L583.0 142.4 L584.2 141.9 L585.5 142.6 L586.7 143.3 L587.9 142.4 L589.1 143.0 L590.3 142.0 L591.5 142.9 L592.7 143.0 L593.9 142.8 L595.1 142.6 L596.3 142.5 L597.5 142.8 L598.7 143.2 L599.9 142.0 L601.1 141.9 L602.3 143.0 L603.5 143.2 L604.7 142.6 L605.9 142.5 L607.1 142.9 L608.3 142.1 L609.5 142.2 L610.7 142.1 L611.9 142.7 L613.1 142.3 L614.3 142.2 L615.5 142.9 L616.7 143.3 L617.9 142.3 L619.2 142.9 L620.4 142.4 L621.6 143.2 L622.8 142.7 L624.0 142.2 L625.2 142.1 L626.4 141.8 L627.6 142.6 L628.8 142.4 L630.0 142.1 L631.2 142.4 L632.4 142.3 L633.6 143.0 L634.8 142.0 L636.0 142.6 L637.2 143.7 L638.5 143.3 L639.8 143.8 L641.0 144.0 L642.2 144.1 L643.4 144.9 L644.6 145.1 L645.8 144.9 L647.0 145.0 L648.2 145.0 L649.4 145.3 L650.6 145.6 L651.9 144.8 L653.1 145.4 L654.3 145.7 L655.5 144.9 L656.7 144.5 L657.9 144.5 L659.1 145.3 L660.4 145.2 L661.6 145.7 L662.8 145.5 L664.0 144.5 L665.2 144.5 L666.4 144.6 L667.6 144.4 L668.9 145.3 L670.1 145.5 L671.3 145.6 L672.5 144.5 L673.7 145.5 L674.9 144.6 L676.1 144.8 L677.4 145.3 L678.6 144.3 L679.8 144.3 L681.0 145.4 L682.2 144.6 L683.4 144.7 L684.6 145.0 L685.9 145.2 L687.1 144.1 L688.3 144.6 L689.5 144.8 L690.7 144.9 L691.9 144.4 L693.1 145.0 L694.4 145.6 L695.6 144.7 L696.8 144.9 L698.0 144.3 L699.2 144.5 L700.4 145.1 L701.6 144.2 L702.9 145.5 L704.1 145.5 L705.3 144.2 L706.5 145.6 L707.7 144.6 L708.9 145.3 L710.1 145.2 L711.4 144.5 L712.6 145.1 L713.8 145.1 L715.0 145.3 L716.2 144.4 L717.4 145.2 L718.6 145.6 L719.9 145.1 L721.1 144.9 L722.3 144.2 L723.5 144.8 L724.9 146.6 L726.2 148.2 L727.6 150.5 L729.0 152.0 L730.4 153.5 L731.8 154.6 L733.2 155.3 L734.6 157.3 L736.0 158.3 L737.3 158.8 L738.6 158.4 L739.9 159.8 L741.1 159.7 L742.4 159.1 L743.7 160.7 L745.0 160.3 L746.3 159.8 L747.5 160.1 L748.8 160.8 L750.1 160.6 L751.3 160.6 L752.6 160.8 L753.9 160.6 L755.1 160.4 L756.4 160.2 L757.7 160.1 L758.9 161.2 L760.2 161.3 L761.5 161.0 L762.7 161.3 L764.0 161.0 L765.2 160.8 L766.4 160.6 L767.6 160.8 L768.8 161.6 L770.0 160.2 L771.2 161.0 L772.4 160.5 L773.6 161.4 L774.8 160.7 L776.0 160.6 L777.2 160.7 L778.4 161.0 L779.6 161.3 L780.9 160.6 L782.1 161.4 L783.3 160.2 L784.5 160.5 L785.7 160.2 L786.9 160.2 L788.1 161.3 L789.3 161.2 L790.5 160.3 L791.7 160.3 L792.9 160.6 L794.1 161.2 L795.3 161.3 L796.5 161.1 L797.7 160.9 L798.9 160.2 L800.1 160.6 L801.3 160.2 L802.5 160.7 L803.7 160.8 L804.9 160.2 L806.1 160.3 L807.3 161.1 L808.5 159.9 L809.7 161.1 L810.9 161.3 L812.1 161.3 L813.4 160.4 L814.6 160.7 L815.8 160.7 L817.0 160.8 L818.2 161.3 L819.4 160.9 L820.6 160.2 L821.8 161.1 L823.0 160.5 L824.2 160.7 L825.4 160.9 L826.6 159.7 L827.8 160.9 L829.0 160.5 L830.2 162.9 L831.4 164.7 L832.6 166.8 L833.8 168.8 L835.0 171.0 L836.3 172.5 L837.7 175.0 L839.0 176.3 L840.3 179.0 L841.7 181.2 L843.0 183.0 L844.2 184.0 L845.4 185.3 L846.6 187.0 L847.8 188.0 L849.0 188.5 L850.3 188.4 L851.6 190.0 L852.9 190.2 L854.2 189.8 L855.5 191.0 L856.7 190.9 L858.0 190.7 L859.2 190.5 L860.4 191.4 L861.6 192.1 L862.9 191.2 L864.1 192.1 L865.3 191.9 L866.5 191.1 L867.8 192.3 L869.0 192.0 L870.2 192.6 L871.4 192.3 L872.6 192.4 L873.9 191.9 L875.1 192.7 L876.3 193.0 L877.5 192.9 L878.8 192.3 L880.0 192.5 L881.2 193.0 L882.4 192.7 L883.7 192.2 L884.9 192.2 L886.1 192.4 L887.3 192.7 L888.5 192.7 L889.8 193.4 L891.0 193.8 L892.2 193.7 L893.4 193.6 L894.6 194.1 L895.9 193.6 L897.1 194.0 L898.3 194.6 L899.5 194.1 L900.7 193.9 L902.0 195.1 L903.2 194.9 L904.4 194.5 L905.6 194.6 L906.8 195.0 L908.1 195.2 L909.3 194.7 L910.5 194.5 L911.7 194.9 L912.9 195.9 L914.2 195.0 L915.4 195.6 L916.6 195.8 L917.8 195.3 L919.0 195.4 L920.3 195.3 L921.5 195.7 L922.7 195.3 L923.9 195.1 L925.2 195.3 L926.4 195.4 L927.6 195.9 L928.8 195.3 L930.0 195.2 L931.3 195.9 L932.5 195.9 L933.7 196.3 L934.9 195.3 L936.2 195.9 L937.4 195.9 L938.6 195.3 L939.8 196.8 L941.0 195.7 L942.3 195.5 L943.5 196.1 L944.7 195.6 L945.9 196.4 L947.2 196.0 L948.4 195.6 L949.6 195.5 L950.8 196.6 L952.0 195.9 L953.3 196.7 L954.5 196.2 L955.7 197.0 L956.9 196.0 L958.1 195.9 L959.4 196.0 L960.6 196.9 L961.8 196.6 L963.0 196.2 L964.3 195.8 L965.5 196.7 L966.7 197.2 L967.9 196.6 L969.1 195.7 L970.4 195.8 L971.6 195.9 L972.8 196.0 L974.0 195.8 L975.3 195.9 L976.5 196.8 L977.7 196.6" fill="none" stroke="#0a0a0a" stroke-width="2.6" stroke-linejoin="round" stroke-linecap="round"/>
<path d="M993.0 282.0 L994.3 287.6 L995.7 291.5 L997.0 297.0 L998.4 299.5 L999.8 300.4 L1001.2 302.6 L1002.6 304.5 L1004.0 305.5 L1005.3 307.2 L1006.5 306.7 L1007.8 308.1 L1009.0 309.6 L1010.3 311.1 L1011.6 310.7 L1012.8 312.0 L1014.1 313.9 L1015.3 313.7 L1016.6 315.3 L1017.8 315.5 L1019.1 315.9 L1020.3 316.8 L1021.5 317.6 L1022.7 316.8 L1024.0 318.2 L1025.2 318.6 L1026.4 319.1 L1027.6 319.1 L1028.9 320.1 L1030.1 319.6 L1031.3 320.1 L1032.5 320.2 L1033.8 321.5 L1035.0 321.5 L1036.2 321.8 L1037.5 321.7 L1038.8 321.9 L1040.0 323.1 L1041.2 323.2 L1042.5 323.6 L1043.8 323.4 L1045.0 323.9 L1046.2 323.6 L1047.5 324.8 L1048.8 324.0 L1050.0 325.0 L1051.2 325.8 L1052.5 326.0 L1053.8 325.4 L1055.0 326.3 L1056.2 326.1 L1057.5 327.3 L1058.8 327.2 L1060.0 327.7 L1061.2 327.9 L1062.5 327.5 L1063.8 328.4 L1065.0 328.4 L1066.2 327.9 L1067.5 328.2 L1068.8 327.9 L1070.0 328.7 L1071.2 329.8 L1072.5 328.6 L1073.8 329.6 L1075.0 329.0 L1076.2 329.2 L1077.5 330.3 L1078.8 329.9 L1080.0 330.5 L1081.2 329.9 L1082.4 330.2 L1083.7 331.2 L1084.9 331.2 L1086.1 330.4 L1087.3 330.9 L1088.6 332.2 L1089.8 331.2 L1091.0 331.9 L1092.2 331.8 L1093.5 332.5 L1094.7 332.3 L1095.9 332.8 L1097.1 332.5 L1098.4 332.1 L1099.6 332.2 L1100.8 332.2 L1102.0 333.5 L1103.3 332.5 L1104.5 332.5 L1105.7 334.2 L1106.9 333.1 L1108.2 334.3 L1109.4 333.2 L1110.6 334.0 L1111.8 334.0 L1113.0 333.7 L1114.2 334.8 L1115.4 334.5 L1116.6 334.7 L1117.8 334.9 L1119.0 335.2 L1120.2 334.4 L1121.4 334.9 L1122.6 334.8 L1123.8 334.3 L1125.1 335.6 L1126.3 335.3 L1127.5 335.7 L1128.7 334.8 L1129.9 335.5 L1131.1 335.4 L1132.3 335.9 L1133.5 335.0 L1134.7 335.5 L1135.9 335.8 L1137.1 335.2 L1138.3 336.1 L1139.5 336.5 L1140.7 336.1 L1141.9 336.5 L1143.1 336.5 L1144.3 336.0 L1145.5 336.3 L1146.7 337.4 L1147.9 336.4 L1149.1 336.7 L1150.3 336.2 L1151.5 336.5 L1152.8 336.5 L1154.0 337.8 L1155.2 337.6 L1156.4 337.9 L1157.6 338.2 L1158.8 337.7 L1160.0 338.3 L1161.2 337.7 L1162.4 337.6 L1163.6 338.5 L1164.8 338.6 L1166.0 338.0 L1167.2 338.8 L1168.4 338.1 L1169.7 338.6 L1170.9 338.1 L1172.1 339.1 L1173.3 339.0 L1174.5 338.1 L1175.8 339.2 L1177.0 338.1 L1178.2 338.0 L1179.4 339.0 L1180.7 338.4 L1181.9 338.8 L1183.1 339.1 L1184.3 338.2 L1185.5 339.4 L1186.8 338.7 L1188.0 339.0 L1189.2 338.9 L1190.4 339.6 L1191.6 339.7 L1192.9 339.0 L1194.1 338.8 L1195.3 339.2 L1196.5 339.4 L1197.7 339.0 L1199.0 339.1 L1200.2 340.2 L1201.4 340.1 L1202.6 340.6 L1203.8 340.7 L1205.1 340.6 L1206.3 339.9 L1207.5 339.6 L1208.7 339.9 L1210.0 340.2 L1211.2 340.4 L1212.4 340.5 L1213.6 340.2 L1214.8 341.1 L1216.1 340.2 L1217.3 340.6 L1218.5 340.7 L1219.8 340.5 L1221.0 339.5 L1222.3 338.2 L1223.5 339.3 L1224.8 340.7 L1226.0 342.5 L1227.2 343.7 L1228.4 343.1 L1229.6 344.0 L1230.8 345.3 L1232.0 346.0 L1233.2 346.4 L1234.4 346.1 L1235.6 346.2 L1236.8 346.7 L1238.0 347.9 L1239.2 347.7 L1240.4 348.9 L1241.6 348.9 L1242.8 349.5 L1244.0 348.3 L1245.2 348.8 L1246.4 348.8 L1247.6 349.8 L1248.8 349.9 L1250.0 350.5 L1251.2 350.0 L1252.4 351.0 L1253.6 350.5 L1254.8 351.0 L1256.0 351.1 L1257.2 352.2 L1258.4 351.8 L1259.6 351.8 L1260.8 351.6 L1262.0 352.4 L1263.2 353.0 L1264.5 353.2 L1265.7 353.8 L1266.9 353.9 L1268.1 353.2 L1269.3 353.2 L1270.5 354.4 L1271.7 354.6 L1272.9 354.4 L1274.1 355.1 L1275.3 354.9 L1276.5 355.0 L1277.7 354.8 L1279.0 354.8 L1280.2 354.8 L1281.4 356.0 L1282.7 356.6 L1283.9 356.8 L1285.2 356.2 L1286.4 356.7 L1287.6 357.3 L1288.9 357.3 L1290.1 357.2 L1291.3 357.1 L1292.6 357.4 L1293.8 357.1 L1295.1 357.3 L1296.3 358.2 L1297.5 358.9 L1298.8 358.4 L1300.0 358.5 L1301.2 358.5 L1302.5 358.6 L1303.7 358.9 L1304.9 359.6 L1306.2 359.2 L1307.4 360.1 L1308.6 359.0 L1309.8 359.4 L1311.1 359.9 L1312.3 359.8 L1313.5 360.7 L1314.8 360.8 L1316.0 361.1 L1317.2 360.7 L1318.5 359.9 L1319.7 361.0 L1320.9 361.1 L1322.2 361.1 L1323.4 360.9 L1324.6 361.8 L1325.8 362.2 L1327.1 361.1 L1328.3 362.1 L1329.5 361.8 L1330.8 362.2 L1332.0 362.3 L1333.2 363.0 L1334.4 363.2 L1335.6 362.8 L1336.8 362.1 L1338.0 363.4 L1339.2 362.3 L1340.4 362.7 L1341.6 363.5 L1342.8 362.7 L1344.0 362.7 L1345.2 363.9 L1346.4 364.0 L1347.6 363.0 L1348.8 363.2 L1350.0 363.5 L1351.3 363.2 L1352.6 362.9 L1353.9 363.1 L1355.2 364.3 L1356.5 362.8 L1357.8 363.1 L1359.0 363.0 L1360.3 362.8 L1361.6 363.5 L1362.9 363.9 L1364.2 364.0 L1365.5 363.7 L1366.8 363.5" fill="none" stroke="#0a0a0a" stroke-width="2.6" stroke-linejoin="round" stroke-linecap="round"/>
<path d="M1381.0 289.0 L1382.2 285.9 L1383.4 281.0 L1384.6 277.9 L1385.8 275.3 L1387.0 271.0 L1388.3 267.0 L1389.7 264.0 L1391.0 261.0 L1392.3 257.3 L1393.7 254.4 L1395.0 251.0 L1396.3 248.0 L1397.5 246.0 L1398.8 244.9 L1400.0 241.3 L1401.3 240.2 L1402.5 236.8 L1403.8 235.0 L1405.1 234.0 L1406.3 231.7 L1407.6 229.8 L1408.9 227.2 L1410.2 225.2 L1411.5 224.5 L1412.7 221.8 L1414.0 220.5 L1415.2 218.7 L1416.4 218.4 L1417.6 217.2 L1418.8 214.5 L1420.0 214.7 L1421.2 212.7 L1422.4 211.1 L1423.6 209.4 L1424.8 208.5 L1426.0 207.4 L1427.3 207.0 L1428.6 204.7 L1429.9 203.2 L1431.2 202.1 L1432.5 200.9 L1433.8 200.0 L1435.1 199.7 L1436.4 197.2 L1437.7 196.2 L1439.0 195.5 L1440.2 195.4 L1441.4 194.6 L1442.6 193.7 L1443.8 191.7 L1445.0 191.0 L1446.2 191.1 L1447.5 189.5 L1448.7 189.0 L1449.9 187.6 L1451.1 186.2 L1452.3 185.9 L1453.5 185.3 L1454.8 185.1 L1456.0 184.6 L1457.3 183.7 L1458.6 183.0 L1459.8 182.6 L1461.1 181.8 L1462.4 181.4 L1463.7 181.3 L1464.9 179.8 L1466.2 179.8 L1467.5 179.8 L1468.7 179.1 L1470.0 178.0 L1471.3 177.1 L1472.6 177.9 L1473.9 177.3 L1475.1 175.8 L1476.4 175.5 L1477.7 175.0 L1479.0 174.4 L1480.3 175.4 L1481.6 174.1 L1482.8 174.4 L1484.1 172.8 L1485.4 172.2 L1486.7 172.6 L1488.0 172.9 L1489.2 172.5 L1490.5 172.5 L1491.7 171.7 L1493.0 171.1 L1494.2 171.2 L1495.5 169.8 L1496.7 170.3 L1498.0 169.8 L1499.2 169.0 L1500.5 169.5 L1501.7 168.7 L1503.0 168.7 L1504.2 168.2 L1505.5 167.8 L1506.7 167.6 L1508.0 167.5 L1509.2 167.5 L1510.4 167.9 L1511.6 167.6 L1512.8 167.3 L1514.1 167.0 L1515.3 166.0 L1516.5 166.9 L1517.7 165.5 L1518.9 165.1 L1520.1 165.5 L1521.3 165.7 L1522.5 164.8 L1523.7 165.1 L1524.9 164.4 L1526.2 165.2 L1527.4 164.2 L1528.6 164.1 L1529.8 164.0 L1531.0 163.7 L1532.2 164.2 L1533.4 164.2 L1534.6 163.3 L1535.8 163.1 L1537.0 163.2 L1538.2 162.2 L1539.4 162.6 L1540.6 163.2 L1541.8 162.9 L1543.0 161.6 L1544.2 162.8 L1545.4 161.9 L1546.6 162.7 L1547.8 161.6 L1549.0 161.2 L1550.2 161.6 L1551.4 162.0 L1552.6 161.2 L1553.8 161.7 L1555.0 161.0 L1556.2 161.3 L1557.4 160.6 L1558.7 160.4 L1559.9 160.7 L1561.1 160.4 L1562.3 160.3 L1563.6 160.7 L1564.8 161.0 L1566.0 160.4 L1567.2 159.6 L1568.5 159.7 L1569.7 159.8 L1570.9 160.1 L1572.1 159.3 L1573.4 159.1 L1574.6 159.4 L1575.8 159.3 L1577.0 158.8 L1578.3 159.5 L1579.5 160.1 L1580.7 159.3 L1581.9 159.3 L1583.2 159.6 L1584.4 159.6 L1585.6 159.6 L1586.8 159.6 L1588.1 158.8 L1589.3 159.2 L1590.5 158.2 L1591.8 159.3 L1593.0 158.5 L1594.2 158.6 L1595.4 159.2 L1596.7 158.1 L1597.9 157.9 L1599.1 158.9 L1600.3 158.5 L1601.6 157.6 L1602.8 157.4 L1604.0 157.9 L1605.3 157.3 L1606.5 158.5 L1607.7 157.4 L1608.9 157.5 L1610.2 157.6 L1611.4 157.8 L1612.6 157.6 L1613.9 157.8 L1615.1 157.8 L1616.3 157.4 L1617.5 156.8 L1618.8 158.1 L1620.0 157.3 L1621.2 157.6 L1622.4 156.6 L1623.6 157.1 L1624.8 157.6 L1626.0 157.9 L1627.2 156.4 L1628.4 156.2 L1629.6 157.0 L1630.9 156.8 L1632.1 157.5 L1633.3 157.4 L1634.5 156.6 L1635.7 156.7 L1636.9 156.9 L1638.1 157.3 L1639.3 156.2 L1640.5 156.5 L1641.7 156.0 L1642.9 156.8 L1644.1 155.8 L1645.3 157.2 L1646.5 156.5 L1647.7 156.5 L1648.9 155.7 L1650.1 155.9 L1651.4 156.3 L1652.6 156.8 L1653.8 156.3 L1655.0 155.8 L1656.2 156.9 L1657.4 156.4 L1658.6 156.1 L1659.8 155.6 L1661.0 156.0 L1662.4 153.0" fill="none" stroke="#0a0a0a" stroke-width="2.6" stroke-linejoin="round" stroke-linecap="round"/>
<path d="M1663.6 141.2 L1664.8 140.9 L1666.0 141.8 L1667.3 140.6 L1668.5 141.2 L1669.7 141.3 L1670.9 140.9 L1672.1 141.6 L1673.4 141.8 L1674.6 141.7 L1675.8 141.5 L1677.0 140.6 L1678.2 140.4 L1679.5 141.0 L1680.7 140.8 L1681.9 140.6 L1683.1 141.6 L1684.3 140.6 L1685.6 141.5 L1686.8 141.7 L1688.0 141.0 L1689.5 146.0 L1691.5 154.0 L1692.8 156.3 L1694.0 155.6 L1695.2 156.7 L1696.4 155.7 L1697.6 155.3 L1698.8 155.1 L1700.0 155.5 L1701.2 154.7 L1702.4 155.5 L1703.7 155.3 L1704.9 156.0 L1706.1 155.9 L1707.3 154.7 L1708.6 155.2 L1709.8 155.2 L1711.0 154.8 L1712.2 154.9 L1713.4 154.9 L1714.7 155.6 L1715.9 155.0 L1717.1 154.6 L1718.3 154.8 L1719.6 155.1 L1720.8 155.3 L1722.0 154.8 L1723.2 155.5 L1724.4 154.7 L1725.7 155.4 L1726.9 155.3 L1728.1 154.6 L1729.3 155.5 L1730.6 154.9 L1731.8 155.1 L1733.0 155.2 L1734.2 155.2 L1735.4 154.9 L1736.7 154.3 L1737.9 155.4 L1739.1 155.5 L1740.3 154.9 L1741.6 155.1 L1742.8 154.5 L1744.0 154.9" fill="none" stroke="#0a0a0a" stroke-width="2.6" stroke-linejoin="round" stroke-linecap="round"/>
<path d="M1746.8 447.5 L1748.4 446.6 L1750.0 444.5 L1751.2 444.2 L1752.5 442.8 L1753.8 443.1 L1755.0 442.0 L1756.3 442.4 L1757.7 441.0 L1759.0 441.6 L1760.3 440.4 L1761.7 439.6 L1763.0 439.7 L1764.2 439.8 L1765.4 438.9 L1766.6 439.3 L1767.9 438.8 L1769.1 437.8 L1770.3 438.2 L1771.5 438.4 L1772.7 437.6 L1773.9 437.4 L1775.1 437.6 L1776.4 436.7 L1777.6 436.5 L1778.8 436.4 L1780.0 436.0 L1781.2 436.3 L1782.4 435.2 L1783.6 434.8 L1784.8 435.7 L1786.1 435.2 L1787.3 434.6 L1788.5 435.3 L1789.7 435.1 L1790.9 434.4 L1792.1 434.9 L1793.3 434.5 L1794.5 434.2 L1795.7 433.3 L1796.9 432.6 L1798.2 433.5 L1799.4 433.4 L1800.6 432.6 L1801.8 432.7 L1803.0 432.5" fill="none" stroke="#0a0a0a" stroke-width="3.4" stroke-linejoin="round" stroke-linecap="round"/>
<path d="M1806.5 161.0 L1807.8 159.8 L1809.0 158.3 L1810.4 157.5 L1811.7 157.8 L1813.1 157.1 L1814.4 156.4 L1815.8 156.2 L1817.0 155.5 L1818.2 156.2 L1819.5 155.8 L1820.7 156.4 L1821.9 155.5 L1823.1 155.8 L1824.3 155.4 L1825.6 155.7 L1826.8 155.9 L1828.0 155.1 L1829.2 155.0 L1830.5 155.7 L1831.7 155.2 L1832.9 155.6 L1834.1 155.0 L1835.3 154.9 L1836.6 155.5 L1837.8 156.1 L1839.0 156.0 L1840.2 155.4 L1841.5 155.1 L1842.7 154.6 L1843.9 154.9 L1845.1 154.9 L1846.3 155.8 L1847.6 154.5 L1848.8 155.8 L1850.0 155.0 L1851.2 154.9 L1852.4 154.9 L1853.7 154.6 L1854.9 155.7 L1856.1 154.4 L1857.3 155.0 L1858.5 154.9 L1859.8 154.4 L1861.0 154.4 L1862.2 155.6 L1863.4 155.3 L1864.6 155.1 L1865.9 155.4 L1867.1 154.1 L1868.3 155.0 L1869.5 155.1 L1870.7 154.2 L1872.0 154.6 L1873.2 155.4 L1874.4 154.3 L1875.6 155.0 L1876.8 154.0 L1878.0 154.8 L1879.3 154.2 L1880.5 154.5 L1881.7 154.3 L1882.9 155.1 L1884.1 154.8 L1885.4 154.4 L1886.6 154.7 L1887.8 154.3 L1889.0 154.9 L1890.2 154.0 L1891.5 154.4 L1892.7 154.5 L1893.9 154.1 L1895.1 153.6 L1896.3 153.7 L1897.6 154.5 L1898.8 153.8 L1900.0 154.2 L1901.2 154.6 L1902.4 154.2 L1903.6 154.9 L1904.8 154.7 L1906.0 154.5 L1907.2 153.9 L1908.4 153.3 L1909.6 154.1 L1910.8 154.4 L1912.0 154.7 L1913.2 153.5 L1914.4 153.4 L1915.6 154.7 L1916.9 154.3 L1918.1 153.9 L1919.3 154.3 L1920.5 153.3 L1921.7 153.9 L1922.9 154.1 L1924.1 154.0 L1925.3 153.3 L1926.5 153.2 L1927.7 154.0 L1928.9 154.4 L1930.1 153.2 L1931.3 152.9 L1932.5 153.0 L1933.7 154.1 L1934.9 153.5 L1936.1 153.6 L1937.3 154.4 L1938.5 153.8 L1939.7 153.2 L1940.9 153.9 L1942.1 152.8 L1943.3 153.2 L1944.5 153.8 L1945.7 153.0 L1946.9 152.7 L1948.1 153.5 L1949.4 153.2 L1950.6 154.2 L1951.8 152.8 L1953.0 153.9 L1954.2 153.2 L1955.4 153.8 L1956.6 153.2 L1957.8 153.6 L1959.0 153.0 L1960.2 152.8 L1961.4 153.2 L1962.6 153.7 L1963.8 153.0 L1965.0 153.2" fill="none" stroke="#0a0a0a" stroke-width="2.6" stroke-linejoin="round" stroke-linecap="round"/>
<line x1="137.00" y1="655.40" x2="137.00" y2="935.90" stroke="#0b0b0b" stroke-width="3.4"/>
<line x1="120.20" y1="934.40" x2="137.00" y2="934.40" stroke="#0b0b0b" stroke-width="3.3"/>
<line x1="127.80" y1="928.85" x2="137.00" y2="928.85" stroke="#0b0b0b" stroke-width="2.9"/>
<line x1="127.80" y1="923.30" x2="137.00" y2="923.30" stroke="#0b0b0b" stroke-width="2.9"/>
<line x1="127.80" y1="917.75" x2="137.00" y2="917.75" stroke="#0b0b0b" stroke-width="2.9"/>
<line x1="127.80" y1="912.20" x2="137.00" y2="912.20" stroke="#0b0b0b" stroke-width="2.9"/>
<line x1="127.80" y1="906.65" x2="137.00" y2="906.65" stroke="#0b0b0b" stroke-width="2.9"/>
<line x1="127.80" y1="901.10" x2="137.00" y2="901.10" stroke="#0b0b0b" stroke-width="2.9"/>
<line x1="127.80" y1="895.55" x2="137.00" y2="895.55" stroke="#0b0b0b" stroke-width="2.9"/>
<line x1="127.80" y1="890.00" x2="137.00" y2="890.00" stroke="#0b0b0b" stroke-width="2.9"/>
<line x1="127.80" y1="884.45" x2="137.00" y2="884.45" stroke="#0b0b0b" stroke-width="2.9"/>
<line x1="120.20" y1="878.90" x2="137.00" y2="878.90" stroke="#0b0b0b" stroke-width="3.3"/>
<line x1="127.80" y1="873.35" x2="137.00" y2="873.35" stroke="#0b0b0b" stroke-width="2.9"/>
<line x1="127.80" y1="867.80" x2="137.00" y2="867.80" stroke="#0b0b0b" stroke-width="2.9"/>
<line x1="127.80" y1="862.25" x2="137.00" y2="862.25" stroke="#0b0b0b" stroke-width="2.9"/>
<line x1="127.80" y1="856.70" x2="137.00" y2="856.70" stroke="#0b0b0b" stroke-width="2.9"/>
<line x1="127.80" y1="851.15" x2="137.00" y2="851.15" stroke="#0b0b0b" stroke-width="2.9"/>
<line x1="127.80" y1="845.60" x2="137.00" y2="845.60" stroke="#0b0b0b" stroke-width="2.9"/>
<line x1="127.80" y1="840.05" x2="137.00" y2="840.05" stroke="#0b0b0b" stroke-width="2.9"/>
<line x1="127.80" y1="834.50" x2="137.00" y2="834.50" stroke="#0b0b0b" stroke-width="2.9"/>
<line x1="127.80" y1="828.95" x2="137.00" y2="828.95" stroke="#0b0b0b" stroke-width="2.9"/>
<line x1="120.20" y1="823.40" x2="137.00" y2="823.40" stroke="#0b0b0b" stroke-width="3.3"/>
<line x1="127.80" y1="817.85" x2="137.00" y2="817.85" stroke="#0b0b0b" stroke-width="2.9"/>
<line x1="127.80" y1="812.30" x2="137.00" y2="812.30" stroke="#0b0b0b" stroke-width="2.9"/>
<line x1="127.80" y1="806.75" x2="137.00" y2="806.75" stroke="#0b0b0b" stroke-width="2.9"/>
<line x1="127.80" y1="801.20" x2="137.00" y2="801.20" stroke="#0b0b0b" stroke-width="2.9"/>
<line x1="127.80" y1="795.65" x2="137.00" y2="795.65" stroke="#0b0b0b" stroke-width="2.9"/>
<line x1="127.80" y1="790.10" x2="137.00" y2="790.10" stroke="#0b0b0b" stroke-width="2.9"/>
<line x1="127.80" y1="784.55" x2="137.00" y2="784.55" stroke="#0b0b0b" stroke-width="2.9"/>
<line x1="127.80" y1="779.00" x2="137.00" y2="779.00" stroke="#0b0b0b" stroke-width="2.9"/>
<line x1="127.80" y1="773.45" x2="137.00" y2="773.45" stroke="#0b0b0b" stroke-width="2.9"/>
<line x1="120.20" y1="767.90" x2="137.00" y2="767.90" stroke="#0b0b0b" stroke-width="3.3"/>
<line x1="127.80" y1="762.35" x2="137.00" y2="762.35" stroke="#0b0b0b" stroke-width="2.9"/>
<line x1="127.80" y1="756.80" x2="137.00" y2="756.80" stroke="#0b0b0b" stroke-width="2.9"/>
<line x1="127.80" y1="751.25" x2="137.00" y2="751.25" stroke="#0b0b0b" stroke-width="2.9"/>
<line x1="127.80" y1="745.70" x2="137.00" y2="745.70" stroke="#0b0b0b" stroke-width="2.9"/>
<line x1="127.80" y1="740.15" x2="137.00" y2="740.15" stroke="#0b0b0b" stroke-width="2.9"/>
<line x1="127.80" y1="734.60" x2="137.00" y2="734.60" stroke="#0b0b0b" stroke-width="2.9"/>
<line x1="127.80" y1="729.05" x2="137.00" y2="729.05" stroke="#0b0b0b" stroke-width="2.9"/>
<line x1="127.80" y1="723.50" x2="137.00" y2="723.50" stroke="#0b0b0b" stroke-width="2.9"/>
<line x1="127.80" y1="717.95" x2="137.00" y2="717.95" stroke="#0b0b0b" stroke-width="2.9"/>
<line x1="120.20" y1="712.40" x2="137.00" y2="712.40" stroke="#0b0b0b" stroke-width="3.3"/>
<line x1="127.80" y1="706.85" x2="137.00" y2="706.85" stroke="#0b0b0b" stroke-width="2.9"/>
<line x1="127.80" y1="701.30" x2="137.00" y2="701.30" stroke="#0b0b0b" stroke-width="2.9"/>
<line x1="127.80" y1="695.75" x2="137.00" y2="695.75" stroke="#0b0b0b" stroke-width="2.9"/>
<line x1="127.80" y1="690.20" x2="137.00" y2="690.20" stroke="#0b0b0b" stroke-width="2.9"/>
<line x1="127.80" y1="684.65" x2="137.00" y2="684.65" stroke="#0b0b0b" stroke-width="2.9"/>
<line x1="127.80" y1="679.10" x2="137.00" y2="679.10" stroke="#0b0b0b" stroke-width="2.9"/>
<line x1="127.80" y1="673.55" x2="137.00" y2="673.55" stroke="#0b0b0b" stroke-width="2.9"/>
<line x1="127.80" y1="668.00" x2="137.00" y2="668.00" stroke="#0b0b0b" stroke-width="2.9"/>
<line x1="127.80" y1="662.45" x2="137.00" y2="662.45" stroke="#0b0b0b" stroke-width="2.9"/>
<line x1="120.20" y1="656.90" x2="137.00" y2="656.90" stroke="#0b0b0b" stroke-width="3.3"/>
<line x1="120.00" y1="934.40" x2="763.70" y2="934.40" stroke="#0b0b0b" stroke-width="3.4"/>
<line x1="136.70" y1="934.40" x2="136.70" y2="946.60" stroke="#0b0b0b" stroke-width="4.0"/>
<line x1="174.33" y1="934.40" x2="174.33" y2="941.40" stroke="#0b0b0b" stroke-width="3.0"/>
<line x1="196.34" y1="934.40" x2="196.34" y2="941.40" stroke="#0b0b0b" stroke-width="3.0"/>
<line x1="211.96" y1="934.40" x2="211.96" y2="941.40" stroke="#0b0b0b" stroke-width="3.0"/>
<line x1="224.07" y1="934.40" x2="224.07" y2="941.40" stroke="#0b0b0b" stroke-width="3.0"/>
<line x1="233.97" y1="934.40" x2="233.97" y2="941.40" stroke="#0b0b0b" stroke-width="3.0"/>
<line x1="242.34" y1="934.40" x2="242.34" y2="941.40" stroke="#0b0b0b" stroke-width="3.0"/>
<line x1="249.59" y1="934.40" x2="249.59" y2="941.40" stroke="#0b0b0b" stroke-width="3.0"/>
<line x1="255.98" y1="934.40" x2="255.98" y2="941.40" stroke="#0b0b0b" stroke-width="3.0"/>
<line x1="261.70" y1="934.40" x2="261.70" y2="946.60" stroke="#0b0b0b" stroke-width="4.0"/>
<line x1="299.33" y1="934.40" x2="299.33" y2="941.40" stroke="#0b0b0b" stroke-width="3.0"/>
<line x1="321.34" y1="934.40" x2="321.34" y2="941.40" stroke="#0b0b0b" stroke-width="3.0"/>
<line x1="336.96" y1="934.40" x2="336.96" y2="941.40" stroke="#0b0b0b" stroke-width="3.0"/>
<line x1="349.07" y1="934.40" x2="349.07" y2="941.40" stroke="#0b0b0b" stroke-width="3.0"/>
<line x1="358.97" y1="934.40" x2="358.97" y2="941.40" stroke="#0b0b0b" stroke-width="3.0"/>
<line x1="367.34" y1="934.40" x2="367.34" y2="941.40" stroke="#0b0b0b" stroke-width="3.0"/>
<line x1="374.59" y1="934.40" x2="374.59" y2="941.40" stroke="#0b0b0b" stroke-width="3.0"/>
<line x1="380.98" y1="934.40" x2="380.98" y2="941.40" stroke="#0b0b0b" stroke-width="3.0"/>
<line x1="386.70" y1="934.40" x2="386.70" y2="946.60" stroke="#0b0b0b" stroke-width="4.0"/>
<line x1="424.33" y1="934.40" x2="424.33" y2="941.40" stroke="#0b0b0b" stroke-width="3.0"/>
<line x1="446.34" y1="934.40" x2="446.34" y2="941.40" stroke="#0b0b0b" stroke-width="3.0"/>
<line x1="461.96" y1="934.40" x2="461.96" y2="941.40" stroke="#0b0b0b" stroke-width="3.0"/>
<line x1="474.07" y1="934.40" x2="474.07" y2="941.40" stroke="#0b0b0b" stroke-width="3.0"/>
<line x1="483.97" y1="934.40" x2="483.97" y2="941.40" stroke="#0b0b0b" stroke-width="3.0"/>
<line x1="492.34" y1="934.40" x2="492.34" y2="941.40" stroke="#0b0b0b" stroke-width="3.0"/>
<line x1="499.59" y1="934.40" x2="499.59" y2="941.40" stroke="#0b0b0b" stroke-width="3.0"/>
<line x1="505.98" y1="934.40" x2="505.98" y2="941.40" stroke="#0b0b0b" stroke-width="3.0"/>
<line x1="511.70" y1="934.40" x2="511.70" y2="946.60" stroke="#0b0b0b" stroke-width="4.0"/>
<line x1="549.33" y1="934.40" x2="549.33" y2="941.40" stroke="#0b0b0b" stroke-width="3.0"/>
<line x1="571.34" y1="934.40" x2="571.34" y2="941.40" stroke="#0b0b0b" stroke-width="3.0"/>
<line x1="586.96" y1="934.40" x2="586.96" y2="941.40" stroke="#0b0b0b" stroke-width="3.0"/>
<line x1="599.07" y1="934.40" x2="599.07" y2="941.40" stroke="#0b0b0b" stroke-width="3.0"/>
<line x1="608.97" y1="934.40" x2="608.97" y2="941.40" stroke="#0b0b0b" stroke-width="3.0"/>
<line x1="617.34" y1="934.40" x2="617.34" y2="941.40" stroke="#0b0b0b" stroke-width="3.0"/>
<line x1="624.59" y1="934.40" x2="624.59" y2="941.40" stroke="#0b0b0b" stroke-width="3.0"/>
<line x1="630.98" y1="934.40" x2="630.98" y2="941.40" stroke="#0b0b0b" stroke-width="3.0"/>
<line x1="636.70" y1="934.40" x2="636.70" y2="946.60" stroke="#0b0b0b" stroke-width="4.0"/>
<line x1="674.33" y1="934.40" x2="674.33" y2="941.40" stroke="#0b0b0b" stroke-width="3.0"/>
<line x1="696.34" y1="934.40" x2="696.34" y2="941.40" stroke="#0b0b0b" stroke-width="3.0"/>
<line x1="711.96" y1="934.40" x2="711.96" y2="941.40" stroke="#0b0b0b" stroke-width="3.0"/>
<line x1="724.07" y1="934.40" x2="724.07" y2="941.40" stroke="#0b0b0b" stroke-width="3.0"/>
<line x1="733.97" y1="934.40" x2="733.97" y2="941.40" stroke="#0b0b0b" stroke-width="3.0"/>
<line x1="742.34" y1="934.40" x2="742.34" y2="941.40" stroke="#0b0b0b" stroke-width="3.0"/>
<line x1="749.59" y1="934.40" x2="749.59" y2="941.40" stroke="#0b0b0b" stroke-width="3.0"/>
<line x1="755.98" y1="934.40" x2="755.98" y2="941.40" stroke="#0b0b0b" stroke-width="3.0"/>
<line x1="761.70" y1="934.40" x2="761.70" y2="946.60" stroke="#0b0b0b" stroke-width="4.0"/>
<text transform="translate(100.13 943.30) scale(1.2515 1)" font-size="25.44" fill="#141414" stroke="#141414" stroke-width="0.18">0</text>
<text transform="translate(71.45 885.10) scale(1.2200 1)" font-size="27.62" fill="#141414" stroke="#141414" stroke-width="0.18">0.2</text>
<text transform="translate(71.48 829.60) scale(1.1993 1)" font-size="27.62" fill="#141414" stroke="#141414" stroke-width="0.18">0.4</text>
<text transform="translate(71.46 774.10) scale(1.2130 1)" font-size="27.62" fill="#141414" stroke="#141414" stroke-width="0.18">0.6</text>
<text transform="translate(71.46 718.60) scale(1.2130 1)" font-size="27.62" fill="#141414" stroke="#141414" stroke-width="0.18">0.8</text>
<text transform="translate(71.82 663.10) scale(1.1990 1)" font-size="27.62" fill="#141414" stroke="#141414" stroke-width="0.18">1.0</text>
<text transform="translate(94.99 969.10) scale(1.1875 1)" font-size="27.62" fill="#141414" stroke="#141414" stroke-width="0.18">0.001</text>
<text transform="translate(230.50 969.10) scale(1.1736 1)" font-size="27.62" fill="#141414" stroke="#141414" stroke-width="0.18">0.01</text>
<text transform="translate(365.27 969.10) scale(1.1176 1)" font-size="27.62" fill="#141414" stroke="#141414" stroke-width="0.18">0.1</text>
<text transform="translate(487.75 969.10) scale(1.1848 1)" font-size="27.62" fill="#141414" stroke="#141414" stroke-width="0.18">1.0</text>
<text transform="translate(616.95 969.10) scale(1.1834 1)" font-size="27.62" fill="#141414" stroke="#141414" stroke-width="0.18">10</text>
<text transform="translate(734.33 969.10) scale(1.1923 1)" font-size="27.62" fill="#141414" stroke="#141414" stroke-width="0.18">100</text>
<text transform="translate(331.86 1005.20) scale(1.2285 1)" font-size="27.62" fill="#141414" stroke="#141414" stroke-width="0.18">compound [µM]</text>
<text transform="translate(357.27 655.80) scale(1.1621 1)" font-size="28.49" font-weight="bold" fill="#141414">E1 - TREK1</text>
<text transform="translate(40.00 823.99) rotate(-90) scale(1 1.2014)" font-size="29.03" fill="#141414">I/I</text>
<text transform="translate(52.00 800.80) rotate(-90) scale(1 1.2886)" font-size="16.24" fill="#141414" stroke="#141414" stroke-width="0.1">max</text>
<path transform="scale(1.4 1)" d="M97.86 928.6 L98.93 928.6 L100.00 928.6 L101.07 928.6 L102.14 928.6 L103.21 928.6 L104.29 928.6 L105.36 928.6 L106.43 928.6 L107.50 928.6 L108.57 928.6 L109.64 928.6 L110.71 928.6 L111.79 928.6 L112.86 928.6 L113.93 928.6 L115.00 928.6 L116.07 928.6 L117.14 928.6 L118.21 928.6 L119.29 928.6 L120.36 928.6 L121.43 928.6 L122.50 928.6 L123.57 928.6 L124.64 928.6 L125.71 928.6 L126.79 928.6 L127.86 928.6 L128.93 928.6 L130.00 928.6 L131.07 928.6 L132.14 928.6 L133.21 928.6 L134.29 928.6 L135.36 928.6 L136.43 928.6 L137.50 928.6 L138.57 928.6 L139.64 928.6 L140.71 928.6 L141.79 928.6 L142.86 928.6 L143.93 928.6 L145.00 928.6 L146.07 928.6 L147.14 928.6 L148.21 928.6 L149.29 928.6 L150.36 928.6 L151.43 928.6 L152.50 928.6 L153.57 928.6 L154.64 928.6 L155.71 928.6 L156.79 928.6 L157.86 928.6 L158.93 928.6 L160.00 928.6 L161.07 928.6 L162.14 928.6 L163.21 928.6 L164.29 928.6 L165.36 928.6 L166.43 928.6 L167.50 928.6 L168.57 928.6 L169.64 928.6 L170.71 928.5 L171.79 928.5 L172.86 928.5 L173.93 928.5 L175.00 928.5 L176.07 928.5 L177.14 928.5 L178.21 928.5 L179.29 928.5 L180.36 928.5 L181.43 928.5 L182.50 928.5 L183.57 928.5 L184.64 928.5 L185.71 928.5 L186.79 928.5 L187.86 928.5 L188.93 928.5 L190.00 928.5 L191.07 928.5 L192.14 928.5 L193.21 928.5 L194.29 928.5 L195.36 928.5 L196.43 928.5 L197.50 928.5 L198.57 928.5 L199.64 928.5 L200.71 928.5 L201.79 928.5 L202.86 928.4 L203.93 928.4 L205.00 928.4 L206.07 928.4 L207.14 928.4 L208.21 928.4 L209.29 928.4 L210.36 928.4 L211.43 928.4 L212.50 928.4 L213.57 928.4 L214.64 928.4 L215.71 928.4 L216.79 928.4 L217.86 928.4 L218.93 928.4 L220.00 928.4 L221.07 928.4 L222.14 928.4 L223.21 928.4 L224.29 928.4 L225.36 928.4 L226.43 928.4 L227.50 928.3 L228.57 928.3 L229.64 928.3 L230.71 928.3 L231.79 928.3 L232.86 928.3 L233.93 928.3 L235.00 928.3 L236.07 928.3 L237.14 928.3 L238.21 928.3 L239.29 928.3 L240.36 928.3 L241.43 928.3 L242.50 928.2 L243.57 928.2 L244.64 928.2 L245.71 928.2 L246.79 928.2 L247.86 928.2 L248.93 928.2 L250.00 928.2 L251.07 928.2 L252.14 928.2 L253.21 928.1 L254.29 928.1 L255.36 928.1 L256.43 928.1 L257.50 928.1 L258.57 928.1 L259.64 928.1 L260.71 928.0 L261.79 928.0 L262.86 928.0 L263.93 928.0 L265.00 928.0 L266.07 928.0 L267.14 927.9 L268.21 927.9 L269.29 927.9 L270.36 927.9 L271.43 927.9 L272.50 927.9 L273.57 927.8 L274.64 927.8 L275.71 927.8 L276.79 927.8 L277.86 927.8 L278.93 927.7 L280.00 927.7 L281.07 927.7 L282.14 927.7 L283.21 927.6 L284.29 927.6 L285.36 927.6 L286.43 927.6 L287.50 927.5 L288.57 927.5 L289.64 927.5 L290.71 927.4 L291.79 927.4 L292.86 927.4 L293.93 927.3 L295.00 927.3 L296.07 927.3 L297.14 927.2 L298.21 927.2 L299.29 927.1 L300.36 927.1 L301.43 927.1 L302.50 927.0 L303.57 927.0 L304.64 926.9 L305.71 926.9 L306.79 926.8 L307.86 926.8 L308.93 926.7 L310.00 926.7 L311.07 926.6 L312.14 926.6 L313.21 926.5 L314.29 926.5 L315.36 926.4 L316.43 926.4 L317.50 926.3 L318.57 926.3 L319.64 926.2 L320.71 926.1 L321.79 926.1 L322.86 926.0 L323.93 925.9 L325.00 925.8 L326.07 925.8 L327.14 925.7 L328.21 925.6 L329.29 925.5 L330.36 925.4 L331.43 925.3 L332.50 925.2 L333.57 925.1 L334.64 925.1 L335.71 925.0 L336.79 924.9 L337.86 924.8 L338.93 924.7 L340.00 924.6 L341.07 924.5 L342.14 924.4 L343.21 924.3 L344.29 924.2 L345.36 924.1 L346.43 923.9 L347.50 923.8 L348.57 923.7 L349.64 923.6 L350.71 923.5 L351.79 923.4 L352.86 923.3 L353.93 923.1 L355.00 923.0 L356.07 922.9 L357.14 922.7 L358.21 922.6 L359.29 922.4 L360.36 922.3 L361.43 922.1 L362.50 922.0 L363.57 921.8 L364.64 921.6 L365.71 921.5 L366.79 921.3 L367.86 921.1 L368.93 920.9 L370.00 920.7 L371.07 920.5 L372.14 920.2 L373.21 920.0 L374.29 919.7 L375.36 919.5 L376.43 919.2 L377.50 918.9 L378.57 918.6 L379.64 918.3 L380.71 918.0 L381.79 917.7 L382.86 917.3 L383.93 917.0 L385.00 916.5 L386.07 916.1 L387.14 915.7 L388.21 915.2 L389.29 914.7 L390.36 914.2 L391.43 913.6 L392.50 913.1 L393.57 912.5 L394.64 911.9 L395.71 911.3 L396.79 910.7 L397.86 910.1 L398.93 909.5 L400.00 908.9 L401.07 908.3 L402.14 907.6 L403.21 906.9 L404.29 906.3 L405.36 905.6 L406.43 904.8 L407.50 904.1 L408.57 903.3 L409.64 902.5 L410.71 901.7 L411.79 900.8 L412.86 899.9 L413.93 899.0 L415.00 898.1 L416.07 897.1 L417.14 896.1 L418.21 895.1 L419.29 894.0 L420.36 892.9 L421.43 891.9 L422.50 890.8 L423.57 889.6 L424.64 888.5 L425.71 887.3 L426.79 886.1 L427.86 884.9 L428.93 883.6 L430.00 882.3 L431.07 881.0 L432.14 879.7 L433.21 878.3 L434.29 876.9 L435.36 875.4 L436.43 874.0 L437.50 872.5 L438.57 870.9 L439.64 869.4 L440.71 867.8 L441.79 866.2 L442.86 864.5 L443.93 862.9 L445.00 861.2 L446.07 859.4 L447.14 857.7 L448.21 855.9 L449.29 854.0 L450.36 852.1 L451.43 850.2 L452.50 848.2 L453.57 846.1 L454.64 844.1 L455.71 841.9 L456.79 839.7 L457.86 837.4 L458.93 835.1 L460.00 832.8 L461.07 830.4 L462.14 828.0 L463.21 825.5 L464.29 823.0 L465.36 820.4 L466.43 817.8 L467.50 815.1 L468.57 812.4 L469.64 809.6 L470.71 806.8 L471.79 804.0 L472.86 801.2 L473.93 798.3 L475.00 795.5 L476.07 792.6 L477.14 789.6 L478.21 786.7 L479.29 783.7 L480.36 780.6 L481.43 777.6 L482.50 774.5 L483.57 771.4 L484.64 768.2 L485.71 765.0 L486.79 761.7 L487.86 758.4 L488.93 755.1 L490.00 751.8 L491.07 748.4 L492.14 745.1 L493.21 741.8 L494.29 738.5 L495.36 735.3 L496.43 732.1 L497.50 728.8 L498.57 725.6 L499.64 722.4 L500.71 719.3 L501.79 716.1 L502.86 713.0 L503.93 710.0 L505.00 706.9 L506.07 703.9 L507.14 701.0 L508.21 698.1 L509.29 695.2 L510.36 692.5 L511.43 689.9 L512.50 687.3 L513.57 684.9 L514.64 682.5 L515.71 680.2 L516.79 678.0 L517.86 675.8 L518.93 673.8 L520.00 671.8 L521.07 670.0 L522.14 668.2 L523.21 666.5 L524.29 664.9 L525.36 663.4 L526.43 662.0 L527.50 660.7 L528.57 659.5 L529.64 658.6" fill="none" stroke="#f5962a" stroke-width="1.9" stroke-linejoin="round"/>
<rect x="128.30" y="920.60" width="18.00" height="12.00" fill="#0b0b0b"/>
<rect x="253.30" y="920.60" width="18.00" height="12.00" fill="#0b0b0b"/>
<rect x="377.70" y="919.70" width="18.00" height="12.00" fill="#0b0b0b"/>
<rect x="502.30" y="916.80" width="18.00" height="12.00" fill="#0b0b0b"/>
<rect x="589.70" y="889.40" width="18.00" height="11.60" fill="#0b0b0b"/>
<line x1="636.30" y1="832.40" x2="636.30" y2="851.20" stroke="#0b0b0b" stroke-width="2.5"/>
<line x1="626.50" y1="832.40" x2="646.10" y2="832.40" stroke="#0b0b0b" stroke-width="2.7"/>
<line x1="626.50" y1="851.20" x2="646.10" y2="851.20" stroke="#0b0b0b" stroke-width="2.7"/>
<rect x="627.30" y="835.20" width="18.00" height="13.20" fill="#0b0b0b"/>
<rect x="714.60" y="673.10" width="18.00" height="18.20" fill="#0b0b0b"/>
<rect x="732.80" y="650.50" width="18.00" height="12.60" fill="#0b0b0b"/>
<line x1="1255.20" y1="655.00" x2="1255.20" y2="934.50" stroke="#0b0b0b" stroke-width="3.0"/>
<line x1="1238.40" y1="933.00" x2="1255.20" y2="933.00" stroke="#0b0b0b" stroke-width="2.8"/>
<line x1="1246.00" y1="927.47" x2="1255.20" y2="927.47" stroke="#0b0b0b" stroke-width="2.4"/>
<line x1="1246.00" y1="921.94" x2="1255.20" y2="921.94" stroke="#0b0b0b" stroke-width="2.4"/>
<line x1="1246.00" y1="916.41" x2="1255.20" y2="916.41" stroke="#0b0b0b" stroke-width="2.4"/>
<line x1="1246.00" y1="910.88" x2="1255.20" y2="910.88" stroke="#0b0b0b" stroke-width="2.4"/>
<line x1="1246.00" y1="905.35" x2="1255.20" y2="905.35" stroke="#0b0b0b" stroke-width="2.4"/>
<line x1="1246.00" y1="899.82" x2="1255.20" y2="899.82" stroke="#0b0b0b" stroke-width="2.4"/>
<line x1="1246.00" y1="894.29" x2="1255.20" y2="894.29" stroke="#0b0b0b" stroke-width="2.4"/>
<line x1="1246.00" y1="888.76" x2="1255.20" y2="888.76" stroke="#0b0b0b" stroke-width="2.4"/>
<line x1="1246.00" y1="883.23" x2="1255.20" y2="883.23" stroke="#0b0b0b" stroke-width="2.4"/>
<line x1="1238.40" y1="877.70" x2="1255.20" y2="877.70" stroke="#0b0b0b" stroke-width="2.8"/>
<line x1="1246.00" y1="872.17" x2="1255.20" y2="872.17" stroke="#0b0b0b" stroke-width="2.4"/>
<line x1="1246.00" y1="866.64" x2="1255.20" y2="866.64" stroke="#0b0b0b" stroke-width="2.4"/>
<line x1="1246.00" y1="861.11" x2="1255.20" y2="861.11" stroke="#0b0b0b" stroke-width="2.4"/>
<line x1="1246.00" y1="855.58" x2="1255.20" y2="855.58" stroke="#0b0b0b" stroke-width="2.4"/>
<line x1="1246.00" y1="850.05" x2="1255.20" y2="850.05" stroke="#0b0b0b" stroke-width="2.4"/>
<line x1="1246.00" y1="844.52" x2="1255.20" y2="844.52" stroke="#0b0b0b" stroke-width="2.4"/>
<line x1="1246.00" y1="838.99" x2="1255.20" y2="838.99" stroke="#0b0b0b" stroke-width="2.4"/>
<line x1="1246.00" y1="833.46" x2="1255.20" y2="833.46" stroke="#0b0b0b" stroke-width="2.4"/>
<line x1="1246.00" y1="827.93" x2="1255.20" y2="827.93" stroke="#0b0b0b" stroke-width="2.4"/>
<line x1="1238.40" y1="822.40" x2="1255.20" y2="822.40" stroke="#0b0b0b" stroke-width="2.8"/>
<line x1="1246.00" y1="816.87" x2="1255.20" y2="816.87" stroke="#0b0b0b" stroke-width="2.4"/>
<line x1="1246.00" y1="811.34" x2="1255.20" y2="811.34" stroke="#0b0b0b" stroke-width="2.4"/>
<line x1="1246.00" y1="805.81" x2="1255.20" y2="805.81" stroke="#0b0b0b" stroke-width="2.4"/>
<line x1="1246.00" y1="800.28" x2="1255.20" y2="800.28" stroke="#0b0b0b" stroke-width="2.4"/>
<line x1="1246.00" y1="794.75" x2="1255.20" y2="794.75" stroke="#0b0b0b" stroke-width="2.4"/>
<line x1="1246.00" y1="789.22" x2="1255.20" y2="789.22" stroke="#0b0b0b" stroke-width="2.4"/>
<line x1="1246.00" y1="783.69" x2="1255.20" y2="783.69" stroke="#0b0b0b" stroke-width="2.4"/>
<line x1="1246.00" y1="778.16" x2="1255.20" y2="778.16" stroke="#0b0b0b" stroke-width="2.4"/>
<line x1="1246.00" y1="772.63" x2="1255.20" y2="772.63" stroke="#0b0b0b" stroke-width="2.4"/>
<line x1="1238.40" y1="767.10" x2="1255.20" y2="767.10" stroke="#0b0b0b" stroke-width="2.8"/>
<line x1="1246.00" y1="761.57" x2="1255.20" y2="761.57" stroke="#0b0b0b" stroke-width="2.4"/>
<line x1="1246.00" y1="756.04" x2="1255.20" y2="756.04" stroke="#0b0b0b" stroke-width="2.4"/>
<line x1="1246.00" y1="750.51" x2="1255.20" y2="750.51" stroke="#0b0b0b" stroke-width="2.4"/>
<line x1="1246.00" y1="744.98" x2="1255.20" y2="744.98" stroke="#0b0b0b" stroke-width="2.4"/>
<line x1="1246.00" y1="739.45" x2="1255.20" y2="739.45" stroke="#0b0b0b" stroke-width="2.4"/>
<line x1="1246.00" y1="733.92" x2="1255.20" y2="733.92" stroke="#0b0b0b" stroke-width="2.4"/>
<line x1="1246.00" y1="728.39" x2="1255.20" y2="728.39" stroke="#0b0b0b" stroke-width="2.4"/>
<line x1="1246.00" y1="722.86" x2="1255.20" y2="722.86" stroke="#0b0b0b" stroke-width="2.4"/>
<line x1="1246.00" y1="717.33" x2="1255.20" y2="717.33" stroke="#0b0b0b" stroke-width="2.4"/>
<line x1="1238.40" y1="711.80" x2="1255.20" y2="711.80" stroke="#0b0b0b" stroke-width="2.8"/>
<line x1="1246.00" y1="706.27" x2="1255.20" y2="706.27" stroke="#0b0b0b" stroke-width="2.4"/>
<line x1="1246.00" y1="700.74" x2="1255.20" y2="700.74" stroke="#0b0b0b" stroke-width="2.4"/>
<line x1="1246.00" y1="695.21" x2="1255.20" y2="695.21" stroke="#0b0b0b" stroke-width="2.4"/>
<line x1="1246.00" y1="689.68" x2="1255.20" y2="689.68" stroke="#0b0b0b" stroke-width="2.4"/>
<line x1="1246.00" y1="684.15" x2="1255.20" y2="684.15" stroke="#0b0b0b" stroke-width="2.4"/>
<line x1="1246.00" y1="678.62" x2="1255.20" y2="678.62" stroke="#0b0b0b" stroke-width="2.4"/>
<line x1="1246.00" y1="673.09" x2="1255.20" y2="673.09" stroke="#0b0b0b" stroke-width="2.4"/>
<line x1="1246.00" y1="667.56" x2="1255.20" y2="667.56" stroke="#0b0b0b" stroke-width="2.4"/>
<line x1="1246.00" y1="662.03" x2="1255.20" y2="662.03" stroke="#0b0b0b" stroke-width="2.4"/>
<line x1="1238.40" y1="656.50" x2="1255.20" y2="656.50" stroke="#0b0b0b" stroke-width="2.8"/>
<line x1="1238.20" y1="933.00" x2="1881.10" y2="933.00" stroke="#0b0b0b" stroke-width="3.0"/>
<line x1="1255.20" y1="933.00" x2="1255.20" y2="945.20" stroke="#0b0b0b" stroke-width="2.8"/>
<line x1="1292.80" y1="933.00" x2="1292.80" y2="940.00" stroke="#0b0b0b" stroke-width="2.3"/>
<line x1="1314.79" y1="933.00" x2="1314.79" y2="940.00" stroke="#0b0b0b" stroke-width="2.3"/>
<line x1="1330.40" y1="933.00" x2="1330.40" y2="940.00" stroke="#0b0b0b" stroke-width="2.3"/>
<line x1="1342.50" y1="933.00" x2="1342.50" y2="940.00" stroke="#0b0b0b" stroke-width="2.3"/>
<line x1="1352.39" y1="933.00" x2="1352.39" y2="940.00" stroke="#0b0b0b" stroke-width="2.3"/>
<line x1="1360.75" y1="933.00" x2="1360.75" y2="940.00" stroke="#0b0b0b" stroke-width="2.3"/>
<line x1="1368.00" y1="933.00" x2="1368.00" y2="940.00" stroke="#0b0b0b" stroke-width="2.3"/>
<line x1="1374.38" y1="933.00" x2="1374.38" y2="940.00" stroke="#0b0b0b" stroke-width="2.3"/>
<line x1="1380.10" y1="933.00" x2="1380.10" y2="945.20" stroke="#0b0b0b" stroke-width="2.8"/>
<line x1="1417.70" y1="933.00" x2="1417.70" y2="940.00" stroke="#0b0b0b" stroke-width="2.3"/>
<line x1="1439.69" y1="933.00" x2="1439.69" y2="940.00" stroke="#0b0b0b" stroke-width="2.3"/>
<line x1="1455.30" y1="933.00" x2="1455.30" y2="940.00" stroke="#0b0b0b" stroke-width="2.3"/>
<line x1="1467.40" y1="933.00" x2="1467.40" y2="940.00" stroke="#0b0b0b" stroke-width="2.3"/>
<line x1="1477.29" y1="933.00" x2="1477.29" y2="940.00" stroke="#0b0b0b" stroke-width="2.3"/>
<line x1="1485.65" y1="933.00" x2="1485.65" y2="940.00" stroke="#0b0b0b" stroke-width="2.3"/>
<line x1="1492.90" y1="933.00" x2="1492.90" y2="940.00" stroke="#0b0b0b" stroke-width="2.3"/>
<line x1="1499.28" y1="933.00" x2="1499.28" y2="940.00" stroke="#0b0b0b" stroke-width="2.3"/>
<line x1="1505.00" y1="933.00" x2="1505.00" y2="945.20" stroke="#0b0b0b" stroke-width="2.8"/>
<line x1="1542.60" y1="933.00" x2="1542.60" y2="940.00" stroke="#0b0b0b" stroke-width="2.3"/>
<line x1="1564.59" y1="933.00" x2="1564.59" y2="940.00" stroke="#0b0b0b" stroke-width="2.3"/>
<line x1="1580.20" y1="933.00" x2="1580.20" y2="940.00" stroke="#0b0b0b" stroke-width="2.3"/>
<line x1="1592.30" y1="933.00" x2="1592.30" y2="940.00" stroke="#0b0b0b" stroke-width="2.3"/>
<line x1="1602.19" y1="933.00" x2="1602.19" y2="940.00" stroke="#0b0b0b" stroke-width="2.3"/>
<line x1="1610.55" y1="933.00" x2="1610.55" y2="940.00" stroke="#0b0b0b" stroke-width="2.3"/>
<line x1="1617.80" y1="933.00" x2="1617.80" y2="940.00" stroke="#0b0b0b" stroke-width="2.3"/>
<line x1="1624.18" y1="933.00" x2="1624.18" y2="940.00" stroke="#0b0b0b" stroke-width="2.3"/>
<line x1="1629.90" y1="933.00" x2="1629.90" y2="945.20" stroke="#0b0b0b" stroke-width="2.8"/>
<line x1="1667.50" y1="933.00" x2="1667.50" y2="940.00" stroke="#0b0b0b" stroke-width="2.3"/>
<line x1="1689.49" y1="933.00" x2="1689.49" y2="940.00" stroke="#0b0b0b" stroke-width="2.3"/>
<line x1="1705.10" y1="933.00" x2="1705.10" y2="940.00" stroke="#0b0b0b" stroke-width="2.3"/>
<line x1="1717.20" y1="933.00" x2="1717.20" y2="940.00" stroke="#0b0b0b" stroke-width="2.3"/>
<line x1="1727.09" y1="933.00" x2="1727.09" y2="940.00" stroke="#0b0b0b" stroke-width="2.3"/>
<line x1="1735.45" y1="933.00" x2="1735.45" y2="940.00" stroke="#0b0b0b" stroke-width="2.3"/>
<line x1="1742.70" y1="933.00" x2="1742.70" y2="940.00" stroke="#0b0b0b" stroke-width="2.3"/>
<line x1="1749.08" y1="933.00" x2="1749.08" y2="940.00" stroke="#0b0b0b" stroke-width="2.3"/>
<line x1="1754.80" y1="933.00" x2="1754.80" y2="945.20" stroke="#0b0b0b" stroke-width="2.8"/>
<line x1="1792.40" y1="933.00" x2="1792.40" y2="940.00" stroke="#0b0b0b" stroke-width="2.3"/>
<line x1="1814.39" y1="933.00" x2="1814.39" y2="940.00" stroke="#0b0b0b" stroke-width="2.3"/>
<line x1="1830.00" y1="933.00" x2="1830.00" y2="940.00" stroke="#0b0b0b" stroke-width="2.3"/>
<line x1="1842.10" y1="933.00" x2="1842.10" y2="940.00" stroke="#0b0b0b" stroke-width="2.3"/>
<line x1="1851.99" y1="933.00" x2="1851.99" y2="940.00" stroke="#0b0b0b" stroke-width="2.3"/>
<line x1="1860.35" y1="933.00" x2="1860.35" y2="940.00" stroke="#0b0b0b" stroke-width="2.3"/>
<line x1="1867.60" y1="933.00" x2="1867.60" y2="940.00" stroke="#0b0b0b" stroke-width="2.3"/>
<line x1="1873.98" y1="933.00" x2="1873.98" y2="940.00" stroke="#0b0b0b" stroke-width="2.3"/>
<line x1="1879.70" y1="933.00" x2="1879.70" y2="945.20" stroke="#0b0b0b" stroke-width="2.8"/>
<text transform="translate(1220.83 940.90) scale(1.2515 1)" font-size="25.44" fill="#141414" stroke="#141414" stroke-width="0.18">0</text>
<text transform="translate(1192.15 884.70) scale(1.2200 1)" font-size="27.62" fill="#141414" stroke="#141414" stroke-width="0.18">0.2</text>
<text transform="translate(1192.18 829.40) scale(1.1993 1)" font-size="27.62" fill="#141414" stroke="#141414" stroke-width="0.18">0.4</text>
<text transform="translate(1192.16 774.10) scale(1.2130 1)" font-size="27.62" fill="#141414" stroke="#141414" stroke-width="0.18">0.6</text>
<text transform="translate(1192.16 718.80) scale(1.2130 1)" font-size="27.62" fill="#141414" stroke="#141414" stroke-width="0.18">0.8</text>
<text transform="translate(1192.52 663.50) scale(1.1990 1)" font-size="27.62" fill="#141414" stroke="#141414" stroke-width="0.18">1.0</text>
<text transform="translate(1211.09 969.70) scale(1.1875 1)" font-size="27.62" fill="#141414" stroke="#141414" stroke-width="0.18">0.001</text>
<text transform="translate(1347.71 969.70) scale(1.1697 1)" font-size="27.62" fill="#141414" stroke="#141414" stroke-width="0.18">0.01</text>
<text transform="translate(1481.33 969.70) scale(1.1510 1)" font-size="27.62" fill="#141414" stroke="#141414" stroke-width="0.18">0.1</text>
<text transform="translate(1605.48 969.70) scale(1.2188 1)" font-size="27.62" fill="#141414" stroke="#141414" stroke-width="0.18">1.0</text>
<text transform="translate(1739.68 969.70) scale(1.0237 1)" font-size="27.62" fill="#141414" stroke="#141414" stroke-width="0.18">10</text>
<text transform="translate(1852.85 969.70) scale(1.1853 1)" font-size="27.62" fill="#141414" stroke="#141414" stroke-width="0.18">100</text>
<text transform="translate(1452.65 1005.20) scale(1.2354 1)" font-size="27.62" fill="#141414" stroke="#141414" stroke-width="0.18">compound [µM]</text>
<text transform="translate(1476.62 655.80) scale(1.1834 1)" font-size="28.49" font-weight="bold" fill="#141414">E1 - TRESK</text>
<text transform="translate(1158.80 821.39) rotate(-90) scale(1 1.2014)" font-size="29.03" fill="#141414">I/I</text>
<text transform="translate(1170.80 798.25) rotate(-90) scale(1 1.2260)" font-size="17.07" fill="#141414" stroke="#141414" stroke-width="0.1">max</text>
<path transform="scale(1.4 1)" d="M897.14 690.8 L898.21 690.8 L899.29 690.8 L900.36 690.8 L901.43 690.8 L902.50 690.8 L903.57 690.8 L904.64 690.8 L905.71 690.8 L906.79 690.8 L907.86 690.8 L908.93 690.8 L910.00 690.8 L911.07 690.8 L912.14 690.8 L913.21 690.8 L914.29 690.8 L915.36 690.8 L916.43 690.8 L917.50 690.9 L918.57 690.9 L919.64 690.9 L920.71 690.9 L921.79 690.9 L922.86 690.9 L923.93 690.9 L925.00 690.9 L926.07 690.9 L927.14 690.9 L928.21 690.9 L929.29 690.9 L930.36 690.9 L931.43 690.9 L932.50 690.9 L933.57 690.9 L934.64 690.9 L935.71 691.0 L936.79 691.0 L937.86 691.0 L938.93 691.0 L940.00 691.0 L941.07 691.0 L942.14 691.0 L943.21 691.0 L944.29 691.0 L945.36 691.0 L946.43 691.0 L947.50 691.0 L948.57 691.0 L949.64 691.1 L950.71 691.1 L951.79 691.1 L952.86 691.1 L953.93 691.1 L955.00 691.1 L956.07 691.1 L957.14 691.1 L958.21 691.1 L959.29 691.2 L960.36 691.2 L961.43 691.2 L962.50 691.2 L963.57 691.2 L964.64 691.2 L965.71 691.2 L966.79 691.3 L967.86 691.3 L968.93 691.3 L970.00 691.3 L971.07 691.3 L972.14 691.3 L973.21 691.4 L974.29 691.4 L975.36 691.4 L976.43 691.4 L977.50 691.4 L978.57 691.5 L979.64 691.5 L980.71 691.5 L981.79 691.5 L982.86 691.5 L983.93 691.6 L985.00 691.6 L986.07 691.6 L987.14 691.6 L988.21 691.7 L989.29 691.7 L990.36 691.7 L991.43 691.7 L992.50 691.8 L993.57 691.8 L994.64 691.8 L995.71 691.9 L996.79 691.9 L997.86 691.9 L998.93 692.0 L1000.00 692.0 L1001.07 692.1 L1002.14 692.1 L1003.21 692.1 L1004.29 692.2 L1005.36 692.2 L1006.43 692.3 L1007.50 692.3 L1008.57 692.4 L1009.64 692.4 L1010.71 692.4 L1011.79 692.5 L1012.86 692.5 L1013.93 692.6 L1015.00 692.6 L1016.07 692.7 L1017.14 692.7 L1018.21 692.8 L1019.29 692.8 L1020.36 692.9 L1021.43 692.9 L1022.50 693.0 L1023.57 693.1 L1024.64 693.1 L1025.71 693.2 L1026.79 693.2 L1027.86 693.3 L1028.93 693.4 L1030.00 693.4 L1031.07 693.5 L1032.14 693.6 L1033.21 693.7 L1034.29 693.7 L1035.36 693.8 L1036.43 693.9 L1037.50 694.0 L1038.57 694.0 L1039.64 694.1 L1040.71 694.2 L1041.79 694.3 L1042.86 694.4 L1043.93 694.5 L1045.00 694.6 L1046.07 694.7 L1047.14 694.8 L1048.21 694.9 L1049.29 695.1 L1050.36 695.2 L1051.43 695.3 L1052.50 695.4 L1053.57 695.6 L1054.64 695.7 L1055.71 695.9 L1056.79 696.0 L1057.86 696.2 L1058.93 696.3 L1060.00 696.5 L1061.07 696.6 L1062.14 696.8 L1063.21 697.0 L1064.29 697.2 L1065.36 697.3 L1066.43 697.5 L1067.50 697.7 L1068.57 697.9 L1069.64 698.1 L1070.71 698.3 L1071.79 698.5 L1072.86 698.7 L1073.93 698.9 L1075.00 699.1 L1076.07 699.3 L1077.14 699.5 L1078.21 699.8 L1079.29 700.0 L1080.36 700.3 L1081.43 700.5 L1082.50 700.8 L1083.57 701.0 L1084.64 701.3 L1085.71 701.6 L1086.79 701.9 L1087.86 702.2 L1088.93 702.5 L1090.00 702.8 L1091.07 703.1 L1092.14 703.4 L1093.21 703.7 L1094.29 704.1 L1095.36 704.4 L1096.43 704.8 L1097.50 705.1 L1098.57 705.5 L1099.64 705.9 L1100.71 706.3 L1101.79 706.7 L1102.86 707.1 L1103.93 707.6 L1105.00 708.1 L1106.07 708.6 L1107.14 709.1 L1108.21 709.6 L1109.29 710.2 L1110.36 710.8 L1111.43 711.4 L1112.50 712.0 L1113.57 712.6 L1114.64 713.3 L1115.71 713.9 L1116.79 714.7 L1117.86 715.4 L1118.93 716.2 L1120.00 717.0 L1121.07 717.8 L1122.14 718.6 L1123.21 719.5 L1124.29 720.4 L1125.36 721.3 L1126.43 722.2 L1127.50 723.1 L1128.57 724.0 L1129.64 724.9 L1130.71 725.9 L1131.79 726.8 L1132.86 727.8 L1133.93 728.8 L1135.00 729.8 L1136.07 730.8 L1137.14 731.8 L1138.21 732.8 L1139.29 733.9 L1140.36 735.0 L1141.43 736.0 L1142.50 737.2 L1143.57 738.3 L1144.64 739.4 L1145.71 740.6 L1146.79 741.7 L1147.86 742.9 L1148.93 744.1 L1150.00 745.4 L1151.07 746.6 L1152.14 747.9 L1153.21 749.2 L1154.29 750.5 L1155.36 751.8 L1156.43 753.1 L1157.50 754.5 L1158.57 755.8 L1159.64 757.2 L1160.71 758.6 L1161.79 760.0 L1162.86 761.4 L1163.93 762.9 L1165.00 764.4 L1166.07 765.9 L1167.14 767.4 L1168.21 769.0 L1169.29 770.7 L1170.36 772.4 L1171.43 774.1 L1172.50 775.9 L1173.57 777.8 L1174.64 779.7 L1175.71 781.7 L1176.79 783.8 L1177.86 785.9 L1178.93 788.1 L1180.00 790.2 L1181.07 792.4 L1182.14 794.6 L1183.21 796.9 L1184.29 799.1 L1185.36 801.3 L1186.43 803.5 L1187.50 805.7 L1188.57 807.9 L1189.64 810.2 L1190.71 812.4 L1191.79 814.7 L1192.86 817.0 L1193.93 819.3 L1195.00 821.6 L1196.07 823.8 L1197.14 826.1 L1198.21 828.3 L1199.29 830.5 L1200.36 832.7 L1201.43 834.9 L1202.50 837.1 L1203.57 839.2 L1204.64 841.4 L1205.71 843.5 L1206.79 845.7 L1207.86 847.8 L1208.93 849.9 L1210.00 851.9 L1211.07 854.0 L1212.14 856.0 L1213.21 858.0 L1214.29 860.0 L1215.36 861.9 L1216.43 863.9 L1217.50 865.8 L1218.57 867.7 L1219.64 869.7 L1220.71 871.5 L1221.79 873.4 L1222.86 875.2 L1223.93 877.0 L1225.00 878.7 L1226.07 880.3 L1227.14 881.9 L1228.21 883.4 L1229.29 884.9 L1230.36 886.4 L1231.43 887.8 L1232.50 889.2 L1233.57 890.5 L1234.64 891.8 L1235.71 893.1 L1236.79 894.3 L1237.86 895.5 L1238.93 896.6 L1240.00 897.6 L1241.07 898.5 L1242.14 899.4 L1243.21 900.2 L1244.29 900.9 L1245.36 901.6 L1246.43 902.3 L1247.50 902.9 L1248.57 903.5 L1249.64 904.1 L1250.71 904.6 L1251.79 905.1 L1252.86 905.6 L1253.93 906.0 L1255.00 906.4 L1256.07 906.7 L1257.14 907.0 L1258.21 907.2 L1259.29 907.4 L1260.36 907.6 L1261.43 907.8 L1262.50 908.0 L1263.57 908.2 L1264.64 908.4 L1265.71 908.5 L1266.79 908.6 L1267.86 908.8 L1268.93 908.8 L1270.00 908.9 L1271.07 909.0 L1272.14 909.0 L1273.21 909.0 L1274.29 909.1 L1275.36 909.1 L1276.43 909.1 L1277.50 909.1 L1278.57 909.2 L1279.64 909.2 L1280.71 909.2 L1281.79 909.2 L1282.86 909.2 L1283.93 909.3 L1285.00 909.3 L1286.07 909.3 L1287.14 909.3 L1288.21 909.3 L1289.29 909.3 L1290.36 909.3 L1291.43 909.3 L1292.50 909.4 L1293.57 909.4 L1294.64 909.4 L1295.71 909.4 L1296.79 909.4 L1297.86 909.4 L1298.93 909.4 L1300.00 909.4 L1301.07 909.4 L1302.14 909.4 L1303.21 909.4 L1304.29 909.4 L1305.36 909.4 L1306.43 909.4 L1307.50 909.4 L1308.57 909.4 L1309.64 909.4 L1310.71 909.4 L1311.79 909.4 L1312.86 909.4 L1313.93 909.5 L1315.00 909.5 L1316.07 909.5 L1317.14 909.5 L1318.21 909.5 L1319.29 909.5 L1320.36 909.5 L1321.43 909.5 L1322.50 909.5 L1323.57 909.5 L1324.64 909.5 L1325.71 909.5 L1326.79 909.5 L1327.86 909.5 L1328.93 909.5 L1330.00 909.5 L1331.07 909.5 L1332.14 909.5 L1333.21 909.5 L1334.29 909.5 L1335.36 909.5 L1336.43 909.5 L1337.50 909.5 L1338.57 909.5 L1339.64 909.5 L1340.71 909.5 L1341.79 909.5 L1342.86 909.5" fill="none" stroke="#f5962a" stroke-width="1.9" stroke-linejoin="round"/>
<rect x="1246.30" y="651.00" width="18.00" height="12.00" fill="#0b0b0b"/>
<line x1="1380.40" y1="683.40" x2="1380.40" y2="702.00" stroke="#0b0b0b" stroke-width="2.5"/>
<line x1="1370.60" y1="683.40" x2="1390.20" y2="683.40" stroke="#0b0b0b" stroke-width="2.7"/>
<line x1="1370.60" y1="702.00" x2="1390.20" y2="702.00" stroke="#0b0b0b" stroke-width="2.7"/>
<rect x="1371.40" y="686.00" width="18.00" height="12.00" fill="#0b0b0b"/>
<line x1="1505.40" y1="711.00" x2="1505.40" y2="733.30" stroke="#0b0b0b" stroke-width="2.5"/>
<line x1="1495.60" y1="711.00" x2="1515.20" y2="711.00" stroke="#0b0b0b" stroke-width="2.7"/>
<line x1="1495.60" y1="733.30" x2="1515.20" y2="733.30" stroke="#0b0b0b" stroke-width="2.7"/>
<rect x="1496.40" y="716.00" width="18.00" height="12.00" fill="#0b0b0b"/>
<line x1="1630.30" y1="769.50" x2="1630.30" y2="794.00" stroke="#0b0b0b" stroke-width="2.5"/>
<line x1="1620.50" y1="769.50" x2="1640.10" y2="769.50" stroke="#0b0b0b" stroke-width="2.7"/>
<line x1="1620.50" y1="794.00" x2="1640.10" y2="794.00" stroke="#0b0b0b" stroke-width="2.7"/>
<rect x="1621.30" y="775.50" width="18.00" height="12.00" fill="#0b0b0b"/>
<rect x="1708.00" y="854.40" width="18.00" height="14.00" fill="#0b0b0b"/>
<rect x="1746.00" y="887.30" width="18.00" height="11.20" fill="#0b0b0b"/>
<rect x="1832.90" y="911.50" width="18.00" height="12.00" fill="#0b0b0b"/>
<rect x="1870.70" y="917.50" width="18.00" height="12.00" fill="#0b0b0b"/>
<line x1="137.00" y1="1060.10" x2="137.00" y2="1341.70" stroke="#0b0b0b" stroke-width="3.4"/>
<line x1="120.20" y1="1340.20" x2="137.00" y2="1340.20" stroke="#0b0b0b" stroke-width="3.3"/>
<line x1="127.80" y1="1334.63" x2="137.00" y2="1334.63" stroke="#0b0b0b" stroke-width="2.9"/>
<line x1="127.80" y1="1329.06" x2="137.00" y2="1329.06" stroke="#0b0b0b" stroke-width="2.9"/>
<line x1="127.80" y1="1323.48" x2="137.00" y2="1323.48" stroke="#0b0b0b" stroke-width="2.9"/>
<line x1="127.80" y1="1317.91" x2="137.00" y2="1317.91" stroke="#0b0b0b" stroke-width="2.9"/>
<line x1="127.80" y1="1312.34" x2="137.00" y2="1312.34" stroke="#0b0b0b" stroke-width="2.9"/>
<line x1="127.80" y1="1306.77" x2="137.00" y2="1306.77" stroke="#0b0b0b" stroke-width="2.9"/>
<line x1="127.80" y1="1301.20" x2="137.00" y2="1301.20" stroke="#0b0b0b" stroke-width="2.9"/>
<line x1="127.80" y1="1295.62" x2="137.00" y2="1295.62" stroke="#0b0b0b" stroke-width="2.9"/>
<line x1="127.80" y1="1290.05" x2="137.00" y2="1290.05" stroke="#0b0b0b" stroke-width="2.9"/>
<line x1="120.20" y1="1284.48" x2="137.00" y2="1284.48" stroke="#0b0b0b" stroke-width="3.3"/>
<line x1="127.80" y1="1278.91" x2="137.00" y2="1278.91" stroke="#0b0b0b" stroke-width="2.9"/>
<line x1="127.80" y1="1273.34" x2="137.00" y2="1273.34" stroke="#0b0b0b" stroke-width="2.9"/>
<line x1="127.80" y1="1267.76" x2="137.00" y2="1267.76" stroke="#0b0b0b" stroke-width="2.9"/>
<line x1="127.80" y1="1262.19" x2="137.00" y2="1262.19" stroke="#0b0b0b" stroke-width="2.9"/>
<line x1="127.80" y1="1256.62" x2="137.00" y2="1256.62" stroke="#0b0b0b" stroke-width="2.9"/>
<line x1="127.80" y1="1251.05" x2="137.00" y2="1251.05" stroke="#0b0b0b" stroke-width="2.9"/>
<line x1="127.80" y1="1245.48" x2="137.00" y2="1245.48" stroke="#0b0b0b" stroke-width="2.9"/>
<line x1="127.80" y1="1239.90" x2="137.00" y2="1239.90" stroke="#0b0b0b" stroke-width="2.9"/>
<line x1="127.80" y1="1234.33" x2="137.00" y2="1234.33" stroke="#0b0b0b" stroke-width="2.9"/>
<line x1="120.20" y1="1228.76" x2="137.00" y2="1228.76" stroke="#0b0b0b" stroke-width="3.3"/>
<line x1="127.80" y1="1223.19" x2="137.00" y2="1223.19" stroke="#0b0b0b" stroke-width="2.9"/>
<line x1="127.80" y1="1217.62" x2="137.00" y2="1217.62" stroke="#0b0b0b" stroke-width="2.9"/>
<line x1="127.80" y1="1212.04" x2="137.00" y2="1212.04" stroke="#0b0b0b" stroke-width="2.9"/>
<line x1="127.80" y1="1206.47" x2="137.00" y2="1206.47" stroke="#0b0b0b" stroke-width="2.9"/>
<line x1="127.80" y1="1200.90" x2="137.00" y2="1200.90" stroke="#0b0b0b" stroke-width="2.9"/>
<line x1="127.80" y1="1195.33" x2="137.00" y2="1195.33" stroke="#0b0b0b" stroke-width="2.9"/>
<line x1="127.80" y1="1189.76" x2="137.00" y2="1189.76" stroke="#0b0b0b" stroke-width="2.9"/>
<line x1="127.80" y1="1184.18" x2="137.00" y2="1184.18" stroke="#0b0b0b" stroke-width="2.9"/>
<line x1="127.80" y1="1178.61" x2="137.00" y2="1178.61" stroke="#0b0b0b" stroke-width="2.9"/>
<line x1="120.20" y1="1173.04" x2="137.00" y2="1173.04" stroke="#0b0b0b" stroke-width="3.3"/>
<line x1="127.80" y1="1167.47" x2="137.00" y2="1167.47" stroke="#0b0b0b" stroke-width="2.9"/>
<line x1="127.80" y1="1161.90" x2="137.00" y2="1161.90" stroke="#0b0b0b" stroke-width="2.9"/>
<line x1="127.80" y1="1156.32" x2="137.00" y2="1156.32" stroke="#0b0b0b" stroke-width="2.9"/>
<line x1="127.80" y1="1150.75" x2="137.00" y2="1150.75" stroke="#0b0b0b" stroke-width="2.9"/>
<line x1="127.80" y1="1145.18" x2="137.00" y2="1145.18" stroke="#0b0b0b" stroke-width="2.9"/>
<line x1="127.80" y1="1139.61" x2="137.00" y2="1139.61" stroke="#0b0b0b" stroke-width="2.9"/>
<line x1="127.80" y1="1134.04" x2="137.00" y2="1134.04" stroke="#0b0b0b" stroke-width="2.9"/>
<line x1="127.80" y1="1128.46" x2="137.00" y2="1128.46" stroke="#0b0b0b" stroke-width="2.9"/>
<line x1="127.80" y1="1122.89" x2="137.00" y2="1122.89" stroke="#0b0b0b" stroke-width="2.9"/>
<line x1="120.20" y1="1117.32" x2="137.00" y2="1117.32" stroke="#0b0b0b" stroke-width="3.3"/>
<line x1="127.80" y1="1111.75" x2="137.00" y2="1111.75" stroke="#0b0b0b" stroke-width="2.9"/>
<line x1="127.80" y1="1106.18" x2="137.00" y2="1106.18" stroke="#0b0b0b" stroke-width="2.9"/>
<line x1="127.80" y1="1100.60" x2="137.00" y2="1100.60" stroke="#0b0b0b" stroke-width="2.9"/>
<line x1="127.80" y1="1095.03" x2="137.00" y2="1095.03" stroke="#0b0b0b" stroke-width="2.9"/>
<line x1="127.80" y1="1089.46" x2="137.00" y2="1089.46" stroke="#0b0b0b" stroke-width="2.9"/>
<line x1="127.80" y1="1083.89" x2="137.00" y2="1083.89" stroke="#0b0b0b" stroke-width="2.9"/>
<line x1="127.80" y1="1078.32" x2="137.00" y2="1078.32" stroke="#0b0b0b" stroke-width="2.9"/>
<line x1="127.80" y1="1072.74" x2="137.00" y2="1072.74" stroke="#0b0b0b" stroke-width="2.9"/>
<line x1="127.80" y1="1067.17" x2="137.00" y2="1067.17" stroke="#0b0b0b" stroke-width="2.9"/>
<line x1="120.20" y1="1061.60" x2="137.00" y2="1061.60" stroke="#0b0b0b" stroke-width="3.3"/>
<line x1="120.00" y1="1340.20" x2="762.00" y2="1340.20" stroke="#0b0b0b" stroke-width="3.4"/>
<line x1="136.00" y1="1340.20" x2="136.00" y2="1352.40" stroke="#0b0b0b" stroke-width="4.0"/>
<line x1="173.57" y1="1340.20" x2="173.57" y2="1347.20" stroke="#0b0b0b" stroke-width="3.0"/>
<line x1="195.54" y1="1340.20" x2="195.54" y2="1347.20" stroke="#0b0b0b" stroke-width="3.0"/>
<line x1="211.14" y1="1340.20" x2="211.14" y2="1347.20" stroke="#0b0b0b" stroke-width="3.0"/>
<line x1="223.23" y1="1340.20" x2="223.23" y2="1347.20" stroke="#0b0b0b" stroke-width="3.0"/>
<line x1="233.11" y1="1340.20" x2="233.11" y2="1347.20" stroke="#0b0b0b" stroke-width="3.0"/>
<line x1="241.47" y1="1340.20" x2="241.47" y2="1347.20" stroke="#0b0b0b" stroke-width="3.0"/>
<line x1="248.71" y1="1340.20" x2="248.71" y2="1347.20" stroke="#0b0b0b" stroke-width="3.0"/>
<line x1="255.09" y1="1340.20" x2="255.09" y2="1347.20" stroke="#0b0b0b" stroke-width="3.0"/>
<line x1="260.80" y1="1340.20" x2="260.80" y2="1352.40" stroke="#0b0b0b" stroke-width="4.0"/>
<line x1="298.37" y1="1340.20" x2="298.37" y2="1347.20" stroke="#0b0b0b" stroke-width="3.0"/>
<line x1="320.34" y1="1340.20" x2="320.34" y2="1347.20" stroke="#0b0b0b" stroke-width="3.0"/>
<line x1="335.94" y1="1340.20" x2="335.94" y2="1347.20" stroke="#0b0b0b" stroke-width="3.0"/>
<line x1="348.03" y1="1340.20" x2="348.03" y2="1347.20" stroke="#0b0b0b" stroke-width="3.0"/>
<line x1="357.91" y1="1340.20" x2="357.91" y2="1347.20" stroke="#0b0b0b" stroke-width="3.0"/>
<line x1="366.27" y1="1340.20" x2="366.27" y2="1347.20" stroke="#0b0b0b" stroke-width="3.0"/>
<line x1="373.51" y1="1340.20" x2="373.51" y2="1347.20" stroke="#0b0b0b" stroke-width="3.0"/>
<line x1="379.89" y1="1340.20" x2="379.89" y2="1347.20" stroke="#0b0b0b" stroke-width="3.0"/>
<line x1="385.60" y1="1340.20" x2="385.60" y2="1352.40" stroke="#0b0b0b" stroke-width="4.0"/>
<line x1="423.17" y1="1340.20" x2="423.17" y2="1347.20" stroke="#0b0b0b" stroke-width="3.0"/>
<line x1="445.14" y1="1340.20" x2="445.14" y2="1347.20" stroke="#0b0b0b" stroke-width="3.0"/>
<line x1="460.74" y1="1340.20" x2="460.74" y2="1347.20" stroke="#0b0b0b" stroke-width="3.0"/>
<line x1="472.83" y1="1340.20" x2="472.83" y2="1347.20" stroke="#0b0b0b" stroke-width="3.0"/>
<line x1="482.71" y1="1340.20" x2="482.71" y2="1347.20" stroke="#0b0b0b" stroke-width="3.0"/>
<line x1="491.07" y1="1340.20" x2="491.07" y2="1347.20" stroke="#0b0b0b" stroke-width="3.0"/>
<line x1="498.31" y1="1340.20" x2="498.31" y2="1347.20" stroke="#0b0b0b" stroke-width="3.0"/>
<line x1="504.69" y1="1340.20" x2="504.69" y2="1347.20" stroke="#0b0b0b" stroke-width="3.0"/>
<line x1="510.40" y1="1340.20" x2="510.40" y2="1352.40" stroke="#0b0b0b" stroke-width="4.0"/>
<line x1="547.97" y1="1340.20" x2="547.97" y2="1347.20" stroke="#0b0b0b" stroke-width="3.0"/>
<line x1="569.94" y1="1340.20" x2="569.94" y2="1347.20" stroke="#0b0b0b" stroke-width="3.0"/>
<line x1="585.54" y1="1340.20" x2="585.54" y2="1347.20" stroke="#0b0b0b" stroke-width="3.0"/>
<line x1="597.63" y1="1340.20" x2="597.63" y2="1347.20" stroke="#0b0b0b" stroke-width="3.0"/>
<line x1="607.51" y1="1340.20" x2="607.51" y2="1347.20" stroke="#0b0b0b" stroke-width="3.0"/>
<line x1="615.87" y1="1340.20" x2="615.87" y2="1347.20" stroke="#0b0b0b" stroke-width="3.0"/>
<line x1="623.11" y1="1340.20" x2="623.11" y2="1347.20" stroke="#0b0b0b" stroke-width="3.0"/>
<line x1="629.49" y1="1340.20" x2="629.49" y2="1347.20" stroke="#0b0b0b" stroke-width="3.0"/>
<line x1="635.20" y1="1340.20" x2="635.20" y2="1352.40" stroke="#0b0b0b" stroke-width="4.0"/>
<line x1="672.77" y1="1340.20" x2="672.77" y2="1347.20" stroke="#0b0b0b" stroke-width="3.0"/>
<line x1="694.74" y1="1340.20" x2="694.74" y2="1347.20" stroke="#0b0b0b" stroke-width="3.0"/>
<line x1="710.34" y1="1340.20" x2="710.34" y2="1347.20" stroke="#0b0b0b" stroke-width="3.0"/>
<line x1="722.43" y1="1340.20" x2="722.43" y2="1347.20" stroke="#0b0b0b" stroke-width="3.0"/>
<line x1="732.31" y1="1340.20" x2="732.31" y2="1347.20" stroke="#0b0b0b" stroke-width="3.0"/>
<line x1="740.67" y1="1340.20" x2="740.67" y2="1347.20" stroke="#0b0b0b" stroke-width="3.0"/>
<line x1="747.91" y1="1340.20" x2="747.91" y2="1347.20" stroke="#0b0b0b" stroke-width="3.0"/>
<line x1="754.29" y1="1340.20" x2="754.29" y2="1347.20" stroke="#0b0b0b" stroke-width="3.0"/>
<line x1="760.00" y1="1340.20" x2="760.00" y2="1352.40" stroke="#0b0b0b" stroke-width="4.0"/>
<text transform="translate(100.13 1349.10) scale(1.2515 1)" font-size="25.44" fill="#141414" stroke="#141414" stroke-width="0.18">0</text>
<text transform="translate(71.45 1290.68) scale(1.2200 1)" font-size="27.62" fill="#141414" stroke="#141414" stroke-width="0.18">0.2</text>
<text transform="translate(71.48 1234.96) scale(1.1993 1)" font-size="27.62" fill="#141414" stroke="#141414" stroke-width="0.18">0.4</text>
<text transform="translate(71.46 1179.24) scale(1.2130 1)" font-size="27.62" fill="#141414" stroke="#141414" stroke-width="0.18">0.6</text>
<text transform="translate(71.46 1123.52) scale(1.2130 1)" font-size="27.62" fill="#141414" stroke="#141414" stroke-width="0.18">0.8</text>
<text transform="translate(71.82 1067.80) scale(1.1990 1)" font-size="27.62" fill="#141414" stroke="#141414" stroke-width="0.18">1.0</text>
<text transform="translate(93.68 1374.70) scale(1.1905 1)" font-size="27.62" fill="#141414" stroke="#141414" stroke-width="0.18">0.001</text>
<text transform="translate(229.71 1374.70) scale(1.1697 1)" font-size="27.62" fill="#141414" stroke="#141414" stroke-width="0.18">0.01</text>
<text transform="translate(363.74 1374.70) scale(1.1398 1)" font-size="27.62" fill="#141414" stroke="#141414" stroke-width="0.18">0.1</text>
<text transform="translate(487.75 1374.70) scale(1.1848 1)" font-size="27.62" fill="#141414" stroke="#141414" stroke-width="0.18">1.0</text>
<text transform="translate(616.95 1374.70) scale(1.1834 1)" font-size="27.62" fill="#141414" stroke="#141414" stroke-width="0.18">10</text>
<text transform="translate(734.33 1374.70) scale(1.1923 1)" font-size="27.62" fill="#141414" stroke="#141414" stroke-width="0.18">100</text>
<text transform="translate(331.86 1408.00) scale(1.2285 1)" font-size="27.62" fill="#141414" stroke="#141414" stroke-width="0.18">compound [µM]</text>
<text transform="translate(356.36 1058.80) scale(1.1646 1)" font-size="28.49" font-weight="bold" fill="#141414">B3 - TREK1</text>
<text transform="translate(40.00 1228.99) rotate(-90) scale(1 1.2014)" font-size="29.03" fill="#141414">I/I</text>
<text transform="translate(52.00 1205.80) rotate(-90) scale(1 1.2886)" font-size="16.24" fill="#141414" stroke="#141414" stroke-width="0.1">max</text>
<path transform="scale(1.4 1)" d="M97.86 1307.0 L98.93 1307.0 L100.00 1307.0 L101.07 1307.0 L102.14 1307.0 L103.21 1307.0 L104.29 1307.0 L105.36 1307.0 L106.43 1307.0 L107.50 1307.0 L108.57 1307.0 L109.64 1307.0 L110.71 1307.0 L111.79 1307.0 L112.86 1307.0 L113.93 1307.0 L115.00 1307.0 L116.07 1307.0 L117.14 1307.0 L118.21 1307.0 L119.29 1307.0 L120.36 1307.0 L121.43 1307.0 L122.50 1307.0 L123.57 1307.0 L124.64 1307.0 L125.71 1307.0 L126.79 1307.0 L127.86 1307.0 L128.93 1307.0 L130.00 1307.0 L131.07 1307.0 L132.14 1307.0 L133.21 1307.0 L134.29 1307.0 L135.36 1307.0 L136.43 1307.0 L137.50 1307.0 L138.57 1307.0 L139.64 1307.0 L140.71 1307.0 L141.79 1307.0 L142.86 1307.0 L143.93 1307.0 L145.00 1307.0 L146.07 1307.0 L147.14 1307.0 L148.21 1307.0 L149.29 1307.0 L150.36 1307.0 L151.43 1307.0 L152.50 1307.0 L153.57 1307.0 L154.64 1307.0 L155.71 1307.0 L156.79 1307.0 L157.86 1307.0 L158.93 1307.0 L160.00 1307.0 L161.07 1307.0 L162.14 1307.0 L163.21 1307.0 L164.29 1307.0 L165.36 1307.0 L166.43 1307.0 L167.50 1307.0 L168.57 1307.0 L169.64 1307.0 L170.71 1307.0 L171.79 1307.0 L172.86 1307.0 L173.93 1307.0 L175.00 1307.0 L176.07 1307.0 L177.14 1307.0 L178.21 1307.0 L179.29 1307.0 L180.36 1307.0 L181.43 1307.0 L182.50 1307.0 L183.57 1307.0 L184.64 1307.0 L185.71 1307.0 L186.79 1307.0 L187.86 1307.0 L188.93 1307.0 L190.00 1307.0 L191.07 1307.0 L192.14 1307.0 L193.21 1307.0 L194.29 1307.0 L195.36 1307.0 L196.43 1307.0 L197.50 1307.0 L198.57 1307.0 L199.64 1307.0 L200.71 1307.0 L201.79 1307.0 L202.86 1307.0 L203.93 1307.0 L205.00 1307.0 L206.07 1307.0 L207.14 1307.0 L208.21 1307.0 L209.29 1307.0 L210.36 1307.0 L211.43 1307.0 L212.50 1307.0 L213.57 1307.0 L214.64 1307.0 L215.71 1307.0 L216.79 1307.0 L217.86 1307.0 L218.93 1307.0 L220.00 1307.0 L221.07 1307.0 L222.14 1307.0 L223.21 1307.0 L224.29 1307.0 L225.36 1307.0 L226.43 1307.0 L227.50 1307.0 L228.57 1307.0 L229.64 1307.0 L230.71 1307.0 L231.79 1307.0 L232.86 1307.0 L233.93 1307.0 L235.00 1307.0 L236.07 1307.0 L237.14 1307.0 L238.21 1307.0 L239.29 1307.0 L240.36 1307.0 L241.43 1307.0 L242.50 1307.0 L243.57 1307.0 L244.64 1307.0 L245.71 1307.0 L246.79 1307.0 L247.86 1307.0 L248.93 1307.0 L250.00 1307.0 L251.07 1307.0 L252.14 1307.0 L253.21 1307.0 L254.29 1307.0 L255.36 1307.0 L256.43 1307.0 L257.50 1307.0 L258.57 1307.0 L259.64 1307.0 L260.71 1307.0 L261.79 1307.0 L262.86 1307.0 L263.93 1307.0 L265.00 1307.0 L266.07 1307.0 L267.14 1307.0 L268.21 1307.0 L269.29 1307.0 L270.36 1307.0 L271.43 1307.0 L272.50 1307.0 L273.57 1307.0 L274.64 1307.0 L275.71 1307.0 L276.79 1307.0 L277.86 1307.0 L278.93 1307.0 L280.00 1307.0 L281.07 1307.0 L282.14 1307.0 L283.21 1307.0 L284.29 1307.0 L285.36 1307.0 L286.43 1307.0 L287.50 1307.0 L288.57 1307.0 L289.64 1307.0 L290.71 1307.0 L291.79 1307.0 L292.86 1307.0 L293.93 1307.0 L295.00 1307.0 L296.07 1307.0 L297.14 1307.0 L298.21 1307.0 L299.29 1307.0 L300.36 1307.0 L301.43 1307.0 L302.50 1307.0 L303.57 1307.0 L304.64 1307.0 L305.71 1307.0 L306.79 1307.0 L307.86 1307.0 L308.93 1307.0 L310.00 1307.0 L311.07 1307.0 L312.14 1307.0 L313.21 1307.0 L314.29 1307.0 L315.36 1307.0 L316.43 1307.0 L317.50 1307.0 L318.57 1307.0 L319.64 1307.0 L320.71 1307.0 L321.79 1307.0 L322.86 1307.0 L323.93 1307.0 L325.00 1307.0 L326.07 1307.0 L327.14 1307.0 L328.21 1307.0 L329.29 1307.0 L330.36 1307.0 L331.43 1307.0 L332.50 1307.0 L333.57 1307.0 L334.64 1307.0 L335.71 1307.0 L336.79 1307.0 L337.86 1307.0 L338.93 1307.0 L340.00 1307.0 L341.07 1307.0 L342.14 1307.0 L343.21 1307.0 L344.29 1307.0 L345.36 1307.0 L346.43 1307.0 L347.50 1307.0 L348.57 1306.9 L349.64 1306.9 L350.71 1306.9 L351.79 1306.9 L352.86 1306.8 L353.93 1306.8 L355.00 1306.8 L356.07 1306.7 L357.14 1306.7 L358.21 1306.6 L359.29 1306.6 L360.36 1306.6 L361.43 1306.5 L362.50 1306.5 L363.57 1306.4 L364.64 1306.3 L365.71 1306.3 L366.79 1306.2 L367.86 1306.2 L368.93 1306.1 L370.00 1306.1 L371.07 1306.0 L372.14 1305.9 L373.21 1305.9 L374.29 1305.8 L375.36 1305.7 L376.43 1305.6 L377.50 1305.5 L378.57 1305.4 L379.64 1305.3 L380.71 1305.2 L381.79 1305.0 L382.86 1304.9 L383.93 1304.7 L385.00 1304.6 L386.07 1304.4 L387.14 1304.3 L388.21 1304.1 L389.29 1303.9 L390.36 1303.7 L391.43 1303.5 L392.50 1303.3 L393.57 1303.0 L394.64 1302.7 L395.71 1302.4 L396.79 1302.1 L397.86 1301.7 L398.93 1301.3 L400.00 1300.9 L401.07 1300.4 L402.14 1300.0 L403.21 1299.5 L404.29 1298.9 L405.36 1298.3 L406.43 1297.5 L407.50 1296.8 L408.57 1295.9 L409.64 1295.0 L410.71 1293.9 L411.79 1292.7 L412.86 1291.3 L413.93 1289.7 L415.00 1287.9 L416.07 1285.9 L417.14 1283.6 L418.21 1280.9 L419.29 1277.8 L420.36 1274.5 L421.43 1271.0 L422.50 1267.2 L423.57 1262.9 L424.64 1257.6 L425.71 1251.2 L426.79 1243.9 L427.86 1236.0 L428.93 1227.7 L430.00 1218.7 L431.07 1209.1 L432.14 1199.1 L433.21 1188.9 L434.29 1178.8 L435.36 1168.7 L436.43 1158.8 L437.50 1149.0 L438.57 1139.2 L439.64 1129.8 L440.71 1120.9 L441.79 1112.8 L442.86 1105.5 L443.93 1099.3 L445.00 1094.1 L446.07 1089.7 L447.14 1086.1 L448.21 1083.1 L449.29 1080.7 L450.36 1078.8 L451.43 1077.4 L452.50 1076.3 L453.57 1075.6 L454.64 1075.0 L455.71 1074.7 L456.79 1074.5 L457.86 1074.3 L458.93 1074.2 L460.00 1074.1 L461.07 1074.0 L462.14 1074.0 L463.21 1074.0 L464.29 1074.0 L465.36 1073.9 L466.43 1073.9 L467.50 1073.9 L468.57 1073.9 L469.64 1073.9 L470.71 1073.9 L471.79 1073.9 L472.86 1073.9 L473.93 1073.8 L475.00 1073.8 L476.07 1073.8 L477.14 1073.8 L478.21 1073.8 L479.29 1073.8 L480.36 1073.8 L481.43 1073.8 L482.50 1073.8 L483.57 1073.8 L484.64 1073.8 L485.71 1073.8 L486.79 1073.8 L487.86 1073.8 L488.93 1073.8 L490.00 1073.8 L491.07 1073.8 L492.14 1073.8 L493.21 1073.8 L494.29 1073.8 L495.36 1073.8 L496.43 1073.8 L497.50 1073.8 L498.57 1073.8 L499.64 1073.8 L500.71 1073.8 L501.79 1073.8 L502.86 1073.8 L503.93 1073.8 L505.00 1073.8 L506.07 1073.8 L507.14 1073.8 L508.21 1073.8 L509.29 1073.8 L510.36 1073.8 L511.43 1073.8 L512.50 1073.8 L513.57 1073.8 L514.64 1073.8" fill="none" stroke="#4a8fd6" stroke-width="1.9" stroke-linejoin="round"/>
<rect x="128.30" y="1302.80" width="18.00" height="16.00" fill="#0b0b0b"/>
<rect x="253.30" y="1301.50" width="18.00" height="17.00" fill="#0b0b0b"/>
<line x1="386.30" y1="1300.00" x2="386.30" y2="1317.20" stroke="#0b0b0b" stroke-width="2.5"/>
<line x1="376.50" y1="1300.00" x2="396.10" y2="1300.00" stroke="#0b0b0b" stroke-width="2.7"/>
<line x1="376.50" y1="1317.20" x2="396.10" y2="1317.20" stroke="#0b0b0b" stroke-width="2.7"/>
<rect x="377.30" y="1302.60" width="18.00" height="12.00" fill="#0b0b0b"/>
<line x1="511.20" y1="1288.70" x2="511.20" y2="1306.00" stroke="#0b0b0b" stroke-width="2.5"/>
<line x1="501.40" y1="1288.70" x2="521.00" y2="1288.70" stroke="#0b0b0b" stroke-width="2.7"/>
<line x1="501.40" y1="1306.00" x2="521.00" y2="1306.00" stroke="#0b0b0b" stroke-width="2.7"/>
<rect x="502.20" y="1291.30" width="18.00" height="12.00" fill="#0b0b0b"/>
<line x1="597.90" y1="1232.90" x2="597.90" y2="1258.70" stroke="#0b0b0b" stroke-width="2.5"/>
<line x1="588.10" y1="1232.90" x2="607.70" y2="1232.90" stroke="#0b0b0b" stroke-width="2.7"/>
<line x1="588.10" y1="1258.70" x2="607.70" y2="1258.70" stroke="#0b0b0b" stroke-width="2.7"/>
<rect x="588.90" y="1240.60" width="18.00" height="11.40" fill="#0b0b0b"/>
<rect x="626.30" y="1070.70" width="18.00" height="11.00" fill="#0b0b0b"/>
<rect x="713.50" y="1066.35" width="18.00" height="17.30" fill="#0b0b0b"/>
<line x1="1256.90" y1="1058.20" x2="1256.90" y2="1341.10" stroke="#0b0b0b" stroke-width="3.6"/>
<line x1="1240.10" y1="1339.60" x2="1256.90" y2="1339.60" stroke="#0b0b0b" stroke-width="2.8"/>
<line x1="1247.70" y1="1334.00" x2="1256.90" y2="1334.00" stroke="#0b0b0b" stroke-width="2.4"/>
<line x1="1247.70" y1="1328.40" x2="1256.90" y2="1328.40" stroke="#0b0b0b" stroke-width="2.4"/>
<line x1="1247.70" y1="1322.81" x2="1256.90" y2="1322.81" stroke="#0b0b0b" stroke-width="2.4"/>
<line x1="1247.70" y1="1317.21" x2="1256.90" y2="1317.21" stroke="#0b0b0b" stroke-width="2.4"/>
<line x1="1247.70" y1="1311.61" x2="1256.90" y2="1311.61" stroke="#0b0b0b" stroke-width="2.4"/>
<line x1="1247.70" y1="1306.01" x2="1256.90" y2="1306.01" stroke="#0b0b0b" stroke-width="2.4"/>
<line x1="1247.70" y1="1300.41" x2="1256.90" y2="1300.41" stroke="#0b0b0b" stroke-width="2.4"/>
<line x1="1247.70" y1="1294.82" x2="1256.90" y2="1294.82" stroke="#0b0b0b" stroke-width="2.4"/>
<line x1="1247.70" y1="1289.22" x2="1256.90" y2="1289.22" stroke="#0b0b0b" stroke-width="2.4"/>
<line x1="1240.10" y1="1283.62" x2="1256.90" y2="1283.62" stroke="#0b0b0b" stroke-width="2.8"/>
<line x1="1247.70" y1="1278.02" x2="1256.90" y2="1278.02" stroke="#0b0b0b" stroke-width="2.4"/>
<line x1="1247.70" y1="1272.42" x2="1256.90" y2="1272.42" stroke="#0b0b0b" stroke-width="2.4"/>
<line x1="1247.70" y1="1266.83" x2="1256.90" y2="1266.83" stroke="#0b0b0b" stroke-width="2.4"/>
<line x1="1247.70" y1="1261.23" x2="1256.90" y2="1261.23" stroke="#0b0b0b" stroke-width="2.4"/>
<line x1="1247.70" y1="1255.63" x2="1256.90" y2="1255.63" stroke="#0b0b0b" stroke-width="2.4"/>
<line x1="1247.70" y1="1250.03" x2="1256.90" y2="1250.03" stroke="#0b0b0b" stroke-width="2.4"/>
<line x1="1247.70" y1="1244.43" x2="1256.90" y2="1244.43" stroke="#0b0b0b" stroke-width="2.4"/>
<line x1="1247.70" y1="1238.84" x2="1256.90" y2="1238.84" stroke="#0b0b0b" stroke-width="2.4"/>
<line x1="1247.70" y1="1233.24" x2="1256.90" y2="1233.24" stroke="#0b0b0b" stroke-width="2.4"/>
<line x1="1240.10" y1="1227.64" x2="1256.90" y2="1227.64" stroke="#0b0b0b" stroke-width="2.8"/>
<line x1="1247.70" y1="1222.04" x2="1256.90" y2="1222.04" stroke="#0b0b0b" stroke-width="2.4"/>
<line x1="1247.70" y1="1216.44" x2="1256.90" y2="1216.44" stroke="#0b0b0b" stroke-width="2.4"/>
<line x1="1247.70" y1="1210.85" x2="1256.90" y2="1210.85" stroke="#0b0b0b" stroke-width="2.4"/>
<line x1="1247.70" y1="1205.25" x2="1256.90" y2="1205.25" stroke="#0b0b0b" stroke-width="2.4"/>
<line x1="1247.70" y1="1199.65" x2="1256.90" y2="1199.65" stroke="#0b0b0b" stroke-width="2.4"/>
<line x1="1247.70" y1="1194.05" x2="1256.90" y2="1194.05" stroke="#0b0b0b" stroke-width="2.4"/>
<line x1="1247.70" y1="1188.45" x2="1256.90" y2="1188.45" stroke="#0b0b0b" stroke-width="2.4"/>
<line x1="1247.70" y1="1182.86" x2="1256.90" y2="1182.86" stroke="#0b0b0b" stroke-width="2.4"/>
<line x1="1247.70" y1="1177.26" x2="1256.90" y2="1177.26" stroke="#0b0b0b" stroke-width="2.4"/>
<line x1="1240.10" y1="1171.66" x2="1256.90" y2="1171.66" stroke="#0b0b0b" stroke-width="2.8"/>
<line x1="1247.70" y1="1166.06" x2="1256.90" y2="1166.06" stroke="#0b0b0b" stroke-width="2.4"/>
<line x1="1247.70" y1="1160.46" x2="1256.90" y2="1160.46" stroke="#0b0b0b" stroke-width="2.4"/>
<line x1="1247.70" y1="1154.87" x2="1256.90" y2="1154.87" stroke="#0b0b0b" stroke-width="2.4"/>
<line x1="1247.70" y1="1149.27" x2="1256.90" y2="1149.27" stroke="#0b0b0b" stroke-width="2.4"/>
<line x1="1247.70" y1="1143.67" x2="1256.90" y2="1143.67" stroke="#0b0b0b" stroke-width="2.4"/>
<line x1="1247.70" y1="1138.07" x2="1256.90" y2="1138.07" stroke="#0b0b0b" stroke-width="2.4"/>
<line x1="1247.70" y1="1132.47" x2="1256.90" y2="1132.47" stroke="#0b0b0b" stroke-width="2.4"/>
<line x1="1247.70" y1="1126.88" x2="1256.90" y2="1126.88" stroke="#0b0b0b" stroke-width="2.4"/>
<line x1="1247.70" y1="1121.28" x2="1256.90" y2="1121.28" stroke="#0b0b0b" stroke-width="2.4"/>
<line x1="1240.10" y1="1115.68" x2="1256.90" y2="1115.68" stroke="#0b0b0b" stroke-width="2.8"/>
<line x1="1247.70" y1="1110.08" x2="1256.90" y2="1110.08" stroke="#0b0b0b" stroke-width="2.4"/>
<line x1="1247.70" y1="1104.48" x2="1256.90" y2="1104.48" stroke="#0b0b0b" stroke-width="2.4"/>
<line x1="1247.70" y1="1098.89" x2="1256.90" y2="1098.89" stroke="#0b0b0b" stroke-width="2.4"/>
<line x1="1247.70" y1="1093.29" x2="1256.90" y2="1093.29" stroke="#0b0b0b" stroke-width="2.4"/>
<line x1="1247.70" y1="1087.69" x2="1256.90" y2="1087.69" stroke="#0b0b0b" stroke-width="2.4"/>
<line x1="1247.70" y1="1082.09" x2="1256.90" y2="1082.09" stroke="#0b0b0b" stroke-width="2.4"/>
<line x1="1247.70" y1="1076.49" x2="1256.90" y2="1076.49" stroke="#0b0b0b" stroke-width="2.4"/>
<line x1="1247.70" y1="1070.90" x2="1256.90" y2="1070.90" stroke="#0b0b0b" stroke-width="2.4"/>
<line x1="1247.70" y1="1065.30" x2="1256.90" y2="1065.30" stroke="#0b0b0b" stroke-width="2.4"/>
<line x1="1240.10" y1="1059.70" x2="1256.90" y2="1059.70" stroke="#0b0b0b" stroke-width="2.8"/>
<line x1="1239.90" y1="1339.60" x2="1881.40" y2="1339.60" stroke="#0b0b0b" stroke-width="3.6"/>
<line x1="1256.00" y1="1339.60" x2="1256.00" y2="1351.80" stroke="#0b0b0b" stroke-width="2.8"/>
<line x1="1293.57" y1="1339.60" x2="1293.57" y2="1346.60" stroke="#0b0b0b" stroke-width="2.3"/>
<line x1="1315.54" y1="1339.60" x2="1315.54" y2="1346.60" stroke="#0b0b0b" stroke-width="2.3"/>
<line x1="1331.14" y1="1339.60" x2="1331.14" y2="1346.60" stroke="#0b0b0b" stroke-width="2.3"/>
<line x1="1343.23" y1="1339.60" x2="1343.23" y2="1346.60" stroke="#0b0b0b" stroke-width="2.3"/>
<line x1="1353.11" y1="1339.60" x2="1353.11" y2="1346.60" stroke="#0b0b0b" stroke-width="2.3"/>
<line x1="1361.47" y1="1339.60" x2="1361.47" y2="1346.60" stroke="#0b0b0b" stroke-width="2.3"/>
<line x1="1368.71" y1="1339.60" x2="1368.71" y2="1346.60" stroke="#0b0b0b" stroke-width="2.3"/>
<line x1="1375.09" y1="1339.60" x2="1375.09" y2="1346.60" stroke="#0b0b0b" stroke-width="2.3"/>
<line x1="1380.80" y1="1339.60" x2="1380.80" y2="1351.80" stroke="#0b0b0b" stroke-width="2.8"/>
<line x1="1418.37" y1="1339.60" x2="1418.37" y2="1346.60" stroke="#0b0b0b" stroke-width="2.3"/>
<line x1="1440.34" y1="1339.60" x2="1440.34" y2="1346.60" stroke="#0b0b0b" stroke-width="2.3"/>
<line x1="1455.94" y1="1339.60" x2="1455.94" y2="1346.60" stroke="#0b0b0b" stroke-width="2.3"/>
<line x1="1468.03" y1="1339.60" x2="1468.03" y2="1346.60" stroke="#0b0b0b" stroke-width="2.3"/>
<line x1="1477.91" y1="1339.60" x2="1477.91" y2="1346.60" stroke="#0b0b0b" stroke-width="2.3"/>
<line x1="1486.27" y1="1339.60" x2="1486.27" y2="1346.60" stroke="#0b0b0b" stroke-width="2.3"/>
<line x1="1493.51" y1="1339.60" x2="1493.51" y2="1346.60" stroke="#0b0b0b" stroke-width="2.3"/>
<line x1="1499.89" y1="1339.60" x2="1499.89" y2="1346.60" stroke="#0b0b0b" stroke-width="2.3"/>
<line x1="1505.60" y1="1339.60" x2="1505.60" y2="1351.80" stroke="#0b0b0b" stroke-width="2.8"/>
<line x1="1543.17" y1="1339.60" x2="1543.17" y2="1346.60" stroke="#0b0b0b" stroke-width="2.3"/>
<line x1="1565.14" y1="1339.60" x2="1565.14" y2="1346.60" stroke="#0b0b0b" stroke-width="2.3"/>
<line x1="1580.74" y1="1339.60" x2="1580.74" y2="1346.60" stroke="#0b0b0b" stroke-width="2.3"/>
<line x1="1592.83" y1="1339.60" x2="1592.83" y2="1346.60" stroke="#0b0b0b" stroke-width="2.3"/>
<line x1="1602.71" y1="1339.60" x2="1602.71" y2="1346.60" stroke="#0b0b0b" stroke-width="2.3"/>
<line x1="1611.07" y1="1339.60" x2="1611.07" y2="1346.60" stroke="#0b0b0b" stroke-width="2.3"/>
<line x1="1618.31" y1="1339.60" x2="1618.31" y2="1346.60" stroke="#0b0b0b" stroke-width="2.3"/>
<line x1="1624.69" y1="1339.60" x2="1624.69" y2="1346.60" stroke="#0b0b0b" stroke-width="2.3"/>
<line x1="1630.40" y1="1339.60" x2="1630.40" y2="1351.80" stroke="#0b0b0b" stroke-width="2.8"/>
<line x1="1667.97" y1="1339.60" x2="1667.97" y2="1346.60" stroke="#0b0b0b" stroke-width="2.3"/>
<line x1="1689.94" y1="1339.60" x2="1689.94" y2="1346.60" stroke="#0b0b0b" stroke-width="2.3"/>
<line x1="1705.54" y1="1339.60" x2="1705.54" y2="1346.60" stroke="#0b0b0b" stroke-width="2.3"/>
<line x1="1717.63" y1="1339.60" x2="1717.63" y2="1346.60" stroke="#0b0b0b" stroke-width="2.3"/>
<line x1="1727.51" y1="1339.60" x2="1727.51" y2="1346.60" stroke="#0b0b0b" stroke-width="2.3"/>
<line x1="1735.87" y1="1339.60" x2="1735.87" y2="1346.60" stroke="#0b0b0b" stroke-width="2.3"/>
<line x1="1743.11" y1="1339.60" x2="1743.11" y2="1346.60" stroke="#0b0b0b" stroke-width="2.3"/>
<line x1="1749.49" y1="1339.60" x2="1749.49" y2="1346.60" stroke="#0b0b0b" stroke-width="2.3"/>
<line x1="1755.20" y1="1339.60" x2="1755.20" y2="1351.80" stroke="#0b0b0b" stroke-width="2.8"/>
<line x1="1792.77" y1="1339.60" x2="1792.77" y2="1346.60" stroke="#0b0b0b" stroke-width="2.3"/>
<line x1="1814.74" y1="1339.60" x2="1814.74" y2="1346.60" stroke="#0b0b0b" stroke-width="2.3"/>
<line x1="1830.34" y1="1339.60" x2="1830.34" y2="1346.60" stroke="#0b0b0b" stroke-width="2.3"/>
<line x1="1842.43" y1="1339.60" x2="1842.43" y2="1346.60" stroke="#0b0b0b" stroke-width="2.3"/>
<line x1="1852.31" y1="1339.60" x2="1852.31" y2="1346.60" stroke="#0b0b0b" stroke-width="2.3"/>
<line x1="1860.67" y1="1339.60" x2="1860.67" y2="1346.60" stroke="#0b0b0b" stroke-width="2.3"/>
<line x1="1867.91" y1="1339.60" x2="1867.91" y2="1346.60" stroke="#0b0b0b" stroke-width="2.3"/>
<line x1="1874.29" y1="1339.60" x2="1874.29" y2="1346.60" stroke="#0b0b0b" stroke-width="2.3"/>
<line x1="1880.00" y1="1339.60" x2="1880.00" y2="1351.80" stroke="#0b0b0b" stroke-width="2.8"/>
<text transform="translate(1220.53 1347.50) scale(1.2515 1)" font-size="25.44" fill="#141414" stroke="#141414" stroke-width="0.18">0</text>
<text transform="translate(1191.85 1289.82) scale(1.2200 1)" font-size="27.62" fill="#141414" stroke="#141414" stroke-width="0.18">0.2</text>
<text transform="translate(1191.88 1233.84) scale(1.1993 1)" font-size="27.62" fill="#141414" stroke="#141414" stroke-width="0.18">0.4</text>
<text transform="translate(1191.86 1177.86) scale(1.2130 1)" font-size="27.62" fill="#141414" stroke="#141414" stroke-width="0.18">0.6</text>
<text transform="translate(1191.86 1121.88) scale(1.2130 1)" font-size="27.62" fill="#141414" stroke="#141414" stroke-width="0.18">0.8</text>
<text transform="translate(1192.22 1065.90) scale(1.1990 1)" font-size="27.62" fill="#141414" stroke="#141414" stroke-width="0.18">1.0</text>
<text transform="translate(1213.99 1375.30) scale(1.1860 1)" font-size="27.62" fill="#141414" stroke="#141414" stroke-width="0.18">0.001</text>
<text transform="translate(1350.08 1375.30) scale(1.1911 1)" font-size="27.62" fill="#141414" stroke="#141414" stroke-width="0.18">0.01</text>
<text transform="translate(1484.24 1375.30) scale(1.1371 1)" font-size="27.62" fill="#141414" stroke="#141414" stroke-width="0.18">0.1</text>
<text transform="translate(1607.49 1375.30) scale(1.2132 1)" font-size="27.62" fill="#141414" stroke="#141414" stroke-width="0.18">1.0</text>
<text transform="translate(1741.53 1375.30) scale(1.0491 1)" font-size="27.62" fill="#141414" stroke="#141414" stroke-width="0.18">10</text>
<text transform="translate(1855.54 1375.30) scale(1.1876 1)" font-size="27.62" fill="#141414" stroke="#141414" stroke-width="0.18">100</text>
<text transform="translate(1452.65 1408.00) scale(1.2354 1)" font-size="27.62" fill="#141414" stroke="#141414" stroke-width="0.18">compound [µM]</text>
<text transform="translate(1476.03 1058.80) scale(1.1818 1)" font-size="28.49" font-weight="bold" fill="#141414">B3 - TRESK</text>
<text transform="translate(1158.80 1227.99) rotate(-90) scale(1 1.2014)" font-size="29.03" fill="#141414">I/I</text>
<text transform="translate(1170.80 1204.80) rotate(-90) scale(1 1.2886)" font-size="16.24" fill="#141414" stroke="#141414" stroke-width="0.1">max</text>
<path transform="scale(1.4 1)" d="M897.86 1092.4 L898.93 1092.4 L900.00 1092.4 L901.07 1092.4 L902.14 1092.4 L903.21 1092.4 L904.29 1092.4 L905.36 1092.4 L906.43 1092.4 L907.50 1092.5 L908.57 1092.5 L909.64 1092.5 L910.71 1092.5 L911.79 1092.5 L912.86 1092.5 L913.93 1092.5 L915.00 1092.5 L916.07 1092.5 L917.14 1092.5 L918.21 1092.5 L919.29 1092.5 L920.36 1092.5 L921.43 1092.5 L922.50 1092.5 L923.57 1092.5 L924.64 1092.6 L925.71 1092.6 L926.79 1092.6 L927.86 1092.6 L928.93 1092.6 L930.00 1092.6 L931.07 1092.6 L932.14 1092.6 L933.21 1092.6 L934.29 1092.6 L935.36 1092.6 L936.43 1092.6 L937.50 1092.6 L938.57 1092.7 L939.64 1092.7 L940.71 1092.7 L941.79 1092.7 L942.86 1092.7 L943.93 1092.7 L945.00 1092.7 L946.07 1092.7 L947.14 1092.7 L948.21 1092.7 L949.29 1092.7 L950.36 1092.7 L951.43 1092.8 L952.50 1092.8 L953.57 1092.8 L954.64 1092.8 L955.71 1092.8 L956.79 1092.8 L957.86 1092.8 L958.93 1092.8 L960.00 1092.8 L961.07 1092.8 L962.14 1092.8 L963.21 1092.8 L964.29 1092.9 L965.36 1092.9 L966.43 1092.9 L967.50 1092.9 L968.57 1092.9 L969.64 1092.9 L970.71 1092.9 L971.79 1092.9 L972.86 1092.9 L973.93 1092.9 L975.00 1092.9 L976.07 1092.9 L977.14 1093.0 L978.21 1093.0 L979.29 1093.0 L980.36 1093.0 L981.43 1093.0 L982.50 1093.0 L983.57 1093.0 L984.64 1093.0 L985.71 1093.0 L986.79 1093.0 L987.86 1093.0 L988.93 1093.1 L990.00 1093.1 L991.07 1093.1 L992.14 1093.1 L993.21 1093.1 L994.29 1093.1 L995.36 1093.1 L996.43 1093.1 L997.50 1093.1 L998.57 1093.2 L999.64 1093.2 L1000.71 1093.2 L1001.79 1093.2 L1002.86 1093.2 L1003.93 1093.2 L1005.00 1093.2 L1006.07 1093.3 L1007.14 1093.3 L1008.21 1093.3 L1009.29 1093.3 L1010.36 1093.3 L1011.43 1093.3 L1012.50 1093.4 L1013.57 1093.4 L1014.64 1093.4 L1015.71 1093.4 L1016.79 1093.5 L1017.86 1093.5 L1018.93 1093.5 L1020.00 1093.6 L1021.07 1093.6 L1022.14 1093.6 L1023.21 1093.7 L1024.29 1093.7 L1025.36 1093.8 L1026.43 1093.8 L1027.50 1093.9 L1028.57 1093.9 L1029.64 1094.0 L1030.71 1094.1 L1031.79 1094.1 L1032.86 1094.2 L1033.93 1094.2 L1035.00 1094.3 L1036.07 1094.4 L1037.14 1094.4 L1038.21 1094.5 L1039.29 1094.6 L1040.36 1094.6 L1041.43 1094.7 L1042.50 1094.8 L1043.57 1094.9 L1044.64 1094.9 L1045.71 1095.0 L1046.79 1095.1 L1047.86 1095.2 L1048.93 1095.2 L1050.00 1095.3 L1051.07 1095.4 L1052.14 1095.5 L1053.21 1095.6 L1054.29 1095.7 L1055.36 1095.8 L1056.43 1095.9 L1057.50 1096.0 L1058.57 1096.1 L1059.64 1096.2 L1060.71 1096.3 L1061.79 1096.5 L1062.86 1096.6 L1063.93 1096.7 L1065.00 1096.8 L1066.07 1096.9 L1067.14 1097.1 L1068.21 1097.2 L1069.29 1097.3 L1070.36 1097.5 L1071.43 1097.6 L1072.50 1097.8 L1073.57 1097.9 L1074.64 1098.1 L1075.71 1098.2 L1076.79 1098.4 L1077.86 1098.6 L1078.93 1098.8 L1080.00 1099.0 L1081.07 1099.2 L1082.14 1099.4 L1083.21 1099.6 L1084.29 1099.8 L1085.36 1100.0 L1086.43 1100.2 L1087.50 1100.4 L1088.57 1100.6 L1089.64 1100.9 L1090.71 1101.1 L1091.79 1101.3 L1092.86 1101.5 L1093.93 1101.7 L1095.00 1102.0 L1096.07 1102.2 L1097.14 1102.4 L1098.21 1102.6 L1099.29 1102.9 L1100.36 1103.1 L1101.43 1103.3 L1102.50 1103.5 L1103.57 1103.7 L1104.64 1103.9 L1105.71 1104.1 L1106.79 1104.3 L1107.86 1104.5 L1108.93 1104.7 L1110.00 1105.0 L1111.07 1105.2 L1112.14 1105.5 L1113.21 1105.7 L1114.29 1106.0 L1115.36 1106.3 L1116.43 1106.7 L1117.50 1107.0 L1118.57 1107.4 L1119.64 1107.8 L1120.71 1108.2 L1121.79 1108.6 L1122.86 1109.1 L1123.93 1109.5 L1125.00 1110.0 L1126.07 1110.5 L1127.14 1111.0 L1128.21 1111.4 L1129.29 1111.9 L1130.36 1112.5 L1131.43 1113.0 L1132.50 1113.5 L1133.57 1114.1 L1134.64 1114.6 L1135.71 1115.2 L1136.79 1115.8 L1137.86 1116.4 L1138.93 1117.1 L1140.00 1117.7 L1141.07 1118.4 L1142.14 1119.1 L1143.21 1119.8 L1144.29 1120.5 L1145.36 1121.3 L1146.43 1122.1 L1147.50 1122.9 L1148.57 1123.8 L1149.64 1124.6 L1150.71 1125.5 L1151.79 1126.4 L1152.86 1127.3 L1153.93 1128.2 L1155.00 1129.2 L1156.07 1130.1 L1157.14 1131.0 L1158.21 1131.9 L1159.29 1132.8 L1160.36 1133.8 L1161.43 1134.7 L1162.50 1135.6 L1163.57 1136.6 L1164.64 1137.5 L1165.71 1138.5 L1166.79 1139.5 L1167.86 1140.5 L1168.93 1141.5 L1170.00 1142.6 L1171.07 1143.7 L1172.14 1144.8 L1173.21 1145.9 L1174.29 1147.1 L1175.36 1148.3 L1176.43 1149.5 L1177.50 1150.8 L1178.57 1152.1 L1179.64 1153.4 L1180.71 1154.7 L1181.79 1156.0 L1182.86 1157.4 L1183.93 1158.7 L1185.00 1160.1 L1186.07 1161.5 L1187.14 1162.9 L1188.21 1164.3 L1189.29 1165.7 L1190.36 1167.1 L1191.43 1168.6 L1192.50 1170.1 L1193.57 1171.5 L1194.64 1173.1 L1195.71 1174.6 L1196.79 1176.2 L1197.86 1177.8 L1198.93 1179.4 L1200.00 1181.1 L1201.07 1182.7 L1202.14 1184.5 L1203.21 1186.2 L1204.29 1188.0 L1205.36 1189.9 L1206.43 1191.8 L1207.50 1193.6 L1208.57 1195.6 L1209.64 1197.5 L1210.71 1199.4 L1211.79 1201.4 L1212.86 1203.4 L1213.93 1205.4 L1215.00 1207.4 L1216.07 1209.4 L1217.14 1211.5 L1218.21 1213.6 L1219.29 1215.7 L1220.36 1217.8 L1221.43 1219.9 L1222.50 1222.1 L1223.57 1224.2 L1224.64 1226.3 L1225.71 1228.5 L1226.79 1230.5 L1227.86 1232.6 L1228.93 1234.7 L1230.00 1236.7 L1231.07 1238.8 L1232.14 1240.8 L1233.21 1242.8 L1234.29 1244.8 L1235.36 1246.8 L1236.43 1248.8 L1237.50 1250.8 L1238.57 1252.7 L1239.64 1254.6 L1240.71 1256.4 L1241.79 1258.2 L1242.86 1260.0 L1243.93 1261.7 L1245.00 1263.4 L1246.07 1265.0 L1247.14 1266.7 L1248.21 1268.3 L1249.29 1269.9 L1250.36 1271.4 L1251.43 1273.0 L1252.50 1274.4 L1253.57 1275.8 L1254.64 1277.1 L1255.71 1278.4 L1256.79 1279.5 L1257.86 1280.7 L1258.93 1281.8 L1260.00 1282.8 L1261.07 1283.8 L1262.14 1284.8 L1263.21 1285.7 L1264.29 1286.6 L1265.36 1287.5 L1266.43 1288.3 L1267.50 1289.1 L1268.57 1289.8 L1269.64 1290.5 L1270.71 1291.1 L1271.79 1291.6 L1272.86 1292.2 L1273.93 1292.7 L1275.00 1293.1 L1276.07 1293.6 L1277.14 1294.0 L1278.21 1294.4 L1279.29 1294.8 L1280.36 1295.2 L1281.43 1295.5 L1282.50 1295.8 L1283.57 1296.0 L1284.64 1296.3 L1285.71 1296.5 L1286.79 1296.6 L1287.86 1296.8 L1288.93 1297.0 L1290.00 1297.1 L1291.07 1297.2 L1292.14 1297.3 L1293.21 1297.4 L1294.29 1297.5 L1295.36 1297.6 L1296.43 1297.7 L1297.50 1297.8 L1298.57 1297.8 L1299.64 1297.9 L1300.71 1297.9 L1301.79 1297.9 L1302.86 1298.0 L1303.93 1298.0 L1305.00 1298.0 L1306.07 1298.0 L1307.14 1298.0 L1308.21 1298.1 L1309.29 1298.1 L1310.36 1298.1 L1311.43 1298.1 L1312.50 1298.1 L1313.57 1298.1 L1314.64 1298.1 L1315.71 1298.2 L1316.79 1298.2 L1317.86 1298.2 L1318.93 1298.2 L1320.00 1298.2 L1321.07 1298.2 L1322.14 1298.2 L1323.21 1298.2 L1324.29 1298.2 L1325.36 1298.2 L1326.43 1298.2 L1327.50 1298.2 L1328.57 1298.2 L1329.64 1298.3 L1330.71 1298.3 L1331.79 1298.3 L1332.86 1298.3 L1333.93 1298.3 L1335.00 1298.3 L1336.07 1298.3 L1337.14 1298.3 L1338.21 1298.3 L1339.29 1298.3 L1340.36 1298.3 L1341.43 1298.3 L1342.50 1298.3" fill="none" stroke="#4a8fd6" stroke-width="1.9" stroke-linejoin="round"/>
<rect x="1247.80" y="1053.60" width="18.00" height="11.40" fill="#0b0b0b"/>
<rect x="1372.40" y="1060.60" width="18.00" height="16.00" fill="#0b0b0b"/>
<line x1="1506.40" y1="1134.00" x2="1506.40" y2="1153.30" stroke="#0b0b0b" stroke-width="2.5"/>
<line x1="1496.60" y1="1134.00" x2="1516.20" y2="1134.00" stroke="#0b0b0b" stroke-width="2.7"/>
<line x1="1496.60" y1="1153.30" x2="1516.20" y2="1153.30" stroke="#0b0b0b" stroke-width="2.7"/>
<rect x="1497.40" y="1137.00" width="18.00" height="13.00" fill="#0b0b0b"/>
<line x1="1631.00" y1="1166.30" x2="1631.00" y2="1202.50" stroke="#0b0b0b" stroke-width="2.5"/>
<line x1="1621.20" y1="1166.30" x2="1640.80" y2="1166.30" stroke="#0b0b0b" stroke-width="2.7"/>
<line x1="1621.20" y1="1202.50" x2="1640.80" y2="1202.50" stroke="#0b0b0b" stroke-width="2.7"/>
<rect x="1622.00" y="1178.60" width="18.00" height="12.00" fill="#0b0b0b"/>
<rect x="1708.90" y="1212.30" width="18.00" height="14.60" fill="#0b0b0b"/>
<rect x="1746.90" y="1274.90" width="18.00" height="12.00" fill="#0b0b0b"/>
<rect x="1833.50" y="1291.50" width="18.00" height="14.00" fill="#0b0b0b"/>
<rect x="1871.40" y="1298.80" width="18.00" height="12.00" fill="#0b0b0b"/>
<line x1="135.60" y1="1460.30" x2="135.60" y2="1744.00" stroke="#0b0b0b" stroke-width="3.2"/>
<line x1="118.80" y1="1742.50" x2="135.60" y2="1742.50" stroke="#0b0b0b" stroke-width="2.8"/>
<line x1="126.40" y1="1736.89" x2="135.60" y2="1736.89" stroke="#0b0b0b" stroke-width="2.4"/>
<line x1="126.40" y1="1731.27" x2="135.60" y2="1731.27" stroke="#0b0b0b" stroke-width="2.4"/>
<line x1="126.40" y1="1725.66" x2="135.60" y2="1725.66" stroke="#0b0b0b" stroke-width="2.4"/>
<line x1="126.40" y1="1720.04" x2="135.60" y2="1720.04" stroke="#0b0b0b" stroke-width="2.4"/>
<line x1="126.40" y1="1714.43" x2="135.60" y2="1714.43" stroke="#0b0b0b" stroke-width="2.4"/>
<line x1="126.40" y1="1708.82" x2="135.60" y2="1708.82" stroke="#0b0b0b" stroke-width="2.4"/>
<line x1="126.40" y1="1703.20" x2="135.60" y2="1703.20" stroke="#0b0b0b" stroke-width="2.4"/>
<line x1="126.40" y1="1697.59" x2="135.60" y2="1697.59" stroke="#0b0b0b" stroke-width="2.4"/>
<line x1="126.40" y1="1691.97" x2="135.60" y2="1691.97" stroke="#0b0b0b" stroke-width="2.4"/>
<line x1="118.80" y1="1686.36" x2="135.60" y2="1686.36" stroke="#0b0b0b" stroke-width="2.8"/>
<line x1="126.40" y1="1680.75" x2="135.60" y2="1680.75" stroke="#0b0b0b" stroke-width="2.4"/>
<line x1="126.40" y1="1675.13" x2="135.60" y2="1675.13" stroke="#0b0b0b" stroke-width="2.4"/>
<line x1="126.40" y1="1669.52" x2="135.60" y2="1669.52" stroke="#0b0b0b" stroke-width="2.4"/>
<line x1="126.40" y1="1663.90" x2="135.60" y2="1663.90" stroke="#0b0b0b" stroke-width="2.4"/>
<line x1="126.40" y1="1658.29" x2="135.60" y2="1658.29" stroke="#0b0b0b" stroke-width="2.4"/>
<line x1="126.40" y1="1652.68" x2="135.60" y2="1652.68" stroke="#0b0b0b" stroke-width="2.4"/>
<line x1="126.40" y1="1647.06" x2="135.60" y2="1647.06" stroke="#0b0b0b" stroke-width="2.4"/>
<line x1="126.40" y1="1641.45" x2="135.60" y2="1641.45" stroke="#0b0b0b" stroke-width="2.4"/>
<line x1="126.40" y1="1635.83" x2="135.60" y2="1635.83" stroke="#0b0b0b" stroke-width="2.4"/>
<line x1="118.80" y1="1630.22" x2="135.60" y2="1630.22" stroke="#0b0b0b" stroke-width="2.8"/>
<line x1="126.40" y1="1624.61" x2="135.60" y2="1624.61" stroke="#0b0b0b" stroke-width="2.4"/>
<line x1="126.40" y1="1618.99" x2="135.60" y2="1618.99" stroke="#0b0b0b" stroke-width="2.4"/>
<line x1="126.40" y1="1613.38" x2="135.60" y2="1613.38" stroke="#0b0b0b" stroke-width="2.4"/>
<line x1="126.40" y1="1607.76" x2="135.60" y2="1607.76" stroke="#0b0b0b" stroke-width="2.4"/>
<line x1="126.40" y1="1602.15" x2="135.60" y2="1602.15" stroke="#0b0b0b" stroke-width="2.4"/>
<line x1="126.40" y1="1596.54" x2="135.60" y2="1596.54" stroke="#0b0b0b" stroke-width="2.4"/>
<line x1="126.40" y1="1590.92" x2="135.60" y2="1590.92" stroke="#0b0b0b" stroke-width="2.4"/>
<line x1="126.40" y1="1585.31" x2="135.60" y2="1585.31" stroke="#0b0b0b" stroke-width="2.4"/>
<line x1="126.40" y1="1579.69" x2="135.60" y2="1579.69" stroke="#0b0b0b" stroke-width="2.4"/>
<line x1="118.80" y1="1574.08" x2="135.60" y2="1574.08" stroke="#0b0b0b" stroke-width="2.8"/>
<line x1="126.40" y1="1568.47" x2="135.60" y2="1568.47" stroke="#0b0b0b" stroke-width="2.4"/>
<line x1="126.40" y1="1562.85" x2="135.60" y2="1562.85" stroke="#0b0b0b" stroke-width="2.4"/>
<line x1="126.40" y1="1557.24" x2="135.60" y2="1557.24" stroke="#0b0b0b" stroke-width="2.4"/>
<line x1="126.40" y1="1551.62" x2="135.60" y2="1551.62" stroke="#0b0b0b" stroke-width="2.4"/>
<line x1="126.40" y1="1546.01" x2="135.60" y2="1546.01" stroke="#0b0b0b" stroke-width="2.4"/>
<line x1="126.40" y1="1540.40" x2="135.60" y2="1540.40" stroke="#0b0b0b" stroke-width="2.4"/>
<line x1="126.40" y1="1534.78" x2="135.60" y2="1534.78" stroke="#0b0b0b" stroke-width="2.4"/>
<line x1="126.40" y1="1529.17" x2="135.60" y2="1529.17" stroke="#0b0b0b" stroke-width="2.4"/>
<line x1="126.40" y1="1523.55" x2="135.60" y2="1523.55" stroke="#0b0b0b" stroke-width="2.4"/>
<line x1="118.80" y1="1517.94" x2="135.60" y2="1517.94" stroke="#0b0b0b" stroke-width="2.8"/>
<line x1="126.40" y1="1512.33" x2="135.60" y2="1512.33" stroke="#0b0b0b" stroke-width="2.4"/>
<line x1="126.40" y1="1506.71" x2="135.60" y2="1506.71" stroke="#0b0b0b" stroke-width="2.4"/>
<line x1="126.40" y1="1501.10" x2="135.60" y2="1501.10" stroke="#0b0b0b" stroke-width="2.4"/>
<line x1="126.40" y1="1495.48" x2="135.60" y2="1495.48" stroke="#0b0b0b" stroke-width="2.4"/>
<line x1="126.40" y1="1489.87" x2="135.60" y2="1489.87" stroke="#0b0b0b" stroke-width="2.4"/>
<line x1="126.40" y1="1484.26" x2="135.60" y2="1484.26" stroke="#0b0b0b" stroke-width="2.4"/>
<line x1="126.40" y1="1478.64" x2="135.60" y2="1478.64" stroke="#0b0b0b" stroke-width="2.4"/>
<line x1="126.40" y1="1473.03" x2="135.60" y2="1473.03" stroke="#0b0b0b" stroke-width="2.4"/>
<line x1="126.40" y1="1467.41" x2="135.60" y2="1467.41" stroke="#0b0b0b" stroke-width="2.4"/>
<line x1="118.80" y1="1461.80" x2="135.60" y2="1461.80" stroke="#0b0b0b" stroke-width="2.8"/>
<line x1="118.60" y1="1742.50" x2="761.10" y2="1742.50" stroke="#0b0b0b" stroke-width="3.2"/>
<line x1="135.30" y1="1742.50" x2="135.30" y2="1754.70" stroke="#0b0b0b" stroke-width="2.8"/>
<line x1="182.29" y1="1742.50" x2="182.29" y2="1749.50" stroke="#0b0b0b" stroke-width="2.3"/>
<line x1="209.78" y1="1742.50" x2="209.78" y2="1749.50" stroke="#0b0b0b" stroke-width="2.3"/>
<line x1="229.28" y1="1742.50" x2="229.28" y2="1749.50" stroke="#0b0b0b" stroke-width="2.3"/>
<line x1="244.41" y1="1742.50" x2="244.41" y2="1749.50" stroke="#0b0b0b" stroke-width="2.3"/>
<line x1="256.77" y1="1742.50" x2="256.77" y2="1749.50" stroke="#0b0b0b" stroke-width="2.3"/>
<line x1="267.22" y1="1742.50" x2="267.22" y2="1749.50" stroke="#0b0b0b" stroke-width="2.3"/>
<line x1="276.27" y1="1742.50" x2="276.27" y2="1749.50" stroke="#0b0b0b" stroke-width="2.3"/>
<line x1="284.26" y1="1742.50" x2="284.26" y2="1749.50" stroke="#0b0b0b" stroke-width="2.3"/>
<line x1="291.40" y1="1742.50" x2="291.40" y2="1754.70" stroke="#0b0b0b" stroke-width="2.8"/>
<line x1="338.39" y1="1742.50" x2="338.39" y2="1749.50" stroke="#0b0b0b" stroke-width="2.3"/>
<line x1="365.88" y1="1742.50" x2="365.88" y2="1749.50" stroke="#0b0b0b" stroke-width="2.3"/>
<line x1="385.38" y1="1742.50" x2="385.38" y2="1749.50" stroke="#0b0b0b" stroke-width="2.3"/>
<line x1="400.51" y1="1742.50" x2="400.51" y2="1749.50" stroke="#0b0b0b" stroke-width="2.3"/>
<line x1="412.87" y1="1742.50" x2="412.87" y2="1749.50" stroke="#0b0b0b" stroke-width="2.3"/>
<line x1="423.32" y1="1742.50" x2="423.32" y2="1749.50" stroke="#0b0b0b" stroke-width="2.3"/>
<line x1="432.37" y1="1742.50" x2="432.37" y2="1749.50" stroke="#0b0b0b" stroke-width="2.3"/>
<line x1="440.36" y1="1742.50" x2="440.36" y2="1749.50" stroke="#0b0b0b" stroke-width="2.3"/>
<line x1="447.50" y1="1742.50" x2="447.50" y2="1754.70" stroke="#0b0b0b" stroke-width="2.8"/>
<line x1="494.49" y1="1742.50" x2="494.49" y2="1749.50" stroke="#0b0b0b" stroke-width="2.3"/>
<line x1="521.98" y1="1742.50" x2="521.98" y2="1749.50" stroke="#0b0b0b" stroke-width="2.3"/>
<line x1="541.48" y1="1742.50" x2="541.48" y2="1749.50" stroke="#0b0b0b" stroke-width="2.3"/>
<line x1="556.61" y1="1742.50" x2="556.61" y2="1749.50" stroke="#0b0b0b" stroke-width="2.3"/>
<line x1="568.97" y1="1742.50" x2="568.97" y2="1749.50" stroke="#0b0b0b" stroke-width="2.3"/>
<line x1="579.42" y1="1742.50" x2="579.42" y2="1749.50" stroke="#0b0b0b" stroke-width="2.3"/>
<line x1="588.47" y1="1742.50" x2="588.47" y2="1749.50" stroke="#0b0b0b" stroke-width="2.3"/>
<line x1="596.46" y1="1742.50" x2="596.46" y2="1749.50" stroke="#0b0b0b" stroke-width="2.3"/>
<line x1="603.60" y1="1742.50" x2="603.60" y2="1754.70" stroke="#0b0b0b" stroke-width="2.8"/>
<line x1="650.59" y1="1742.50" x2="650.59" y2="1749.50" stroke="#0b0b0b" stroke-width="2.3"/>
<line x1="678.08" y1="1742.50" x2="678.08" y2="1749.50" stroke="#0b0b0b" stroke-width="2.3"/>
<line x1="697.58" y1="1742.50" x2="697.58" y2="1749.50" stroke="#0b0b0b" stroke-width="2.3"/>
<line x1="712.71" y1="1742.50" x2="712.71" y2="1749.50" stroke="#0b0b0b" stroke-width="2.3"/>
<line x1="725.07" y1="1742.50" x2="725.07" y2="1749.50" stroke="#0b0b0b" stroke-width="2.3"/>
<line x1="735.52" y1="1742.50" x2="735.52" y2="1749.50" stroke="#0b0b0b" stroke-width="2.3"/>
<line x1="744.57" y1="1742.50" x2="744.57" y2="1749.50" stroke="#0b0b0b" stroke-width="2.3"/>
<line x1="752.56" y1="1742.50" x2="752.56" y2="1749.50" stroke="#0b0b0b" stroke-width="2.3"/>
<line x1="759.70" y1="1742.50" x2="759.70" y2="1754.70" stroke="#0b0b0b" stroke-width="2.8"/>
<text transform="translate(99.93 1751.40) scale(1.2515 1)" font-size="25.44" fill="#141414" stroke="#141414" stroke-width="0.18">0</text>
<text transform="translate(71.25 1693.36) scale(1.2200 1)" font-size="27.62" fill="#141414" stroke="#141414" stroke-width="0.18">0.2</text>
<text transform="translate(71.28 1637.22) scale(1.1993 1)" font-size="27.62" fill="#141414" stroke="#141414" stroke-width="0.18">0.4</text>
<text transform="translate(71.26 1581.08) scale(1.2130 1)" font-size="27.62" fill="#141414" stroke="#141414" stroke-width="0.18">0.6</text>
<text transform="translate(71.26 1524.94) scale(1.2130 1)" font-size="27.62" fill="#141414" stroke="#141414" stroke-width="0.18">0.8</text>
<text transform="translate(71.62 1468.80) scale(1.1990 1)" font-size="27.62" fill="#141414" stroke="#141414" stroke-width="0.18">1.0</text>
<text transform="translate(108.69 1777.30) scale(1.1833 1)" font-size="27.62" fill="#141414" stroke="#141414" stroke-width="0.18">0.01</text>
<text transform="translate(266.98 1777.30) scale(1.1009 1)" font-size="27.62" fill="#141414" stroke="#141414" stroke-width="0.18">0.1</text>
<text transform="translate(423.49 1777.30) scale(1.2103 1)" font-size="27.62" fill="#141414" stroke="#141414" stroke-width="0.18">1.0</text>
<text transform="translate(585.10 1777.30) scale(1.1580 1)" font-size="27.62" fill="#141414" stroke="#141414" stroke-width="0.18">10</text>
<text transform="translate(732.12 1777.30) scale(1.1969 1)" font-size="27.62" fill="#141414" stroke="#141414" stroke-width="0.18">100</text>
<text transform="translate(331.85 1811.60) scale(1.2317 1)" font-size="27.62" fill="#141414" stroke="#141414" stroke-width="0.18">compound [µM]</text>
<text transform="translate(355.37 1458.80) scale(1.1710 1)" font-size="28.49" font-weight="bold" fill="#141414">A2 - TREK1</text>
<text transform="translate(40.00 1631.59) rotate(-90) scale(1 1.2014)" font-size="29.03" fill="#141414">I/I</text>
<text transform="translate(52.00 1607.54) rotate(-90) scale(1 1.3627)" font-size="15.36" fill="#141414" stroke="#141414" stroke-width="0.1">max</text>
<path transform="scale(1.4 1)" d="M97.14 1740.0 L98.21 1740.0 L99.29 1740.0 L100.36 1740.0 L101.43 1740.0 L102.50 1740.0 L103.57 1740.0 L104.64 1740.0 L105.71 1740.0 L106.79 1740.0 L107.86 1740.0 L108.93 1740.0 L110.00 1740.0 L111.07 1740.0 L112.14 1740.0 L113.21 1740.0 L114.29 1740.0 L115.36 1740.0 L116.43 1740.0 L117.50 1740.0 L118.57 1740.0 L119.64 1740.0 L120.71 1740.0 L121.79 1740.0 L122.86 1740.0 L123.93 1740.0 L125.00 1740.0 L126.07 1740.0 L127.14 1740.0 L128.21 1740.0 L129.29 1740.0 L130.36 1740.0 L131.43 1740.0 L132.50 1740.0 L133.57 1740.0 L134.64 1740.0 L135.71 1740.0 L136.79 1740.0 L137.86 1740.0 L138.93 1740.0 L140.00 1740.0 L141.07 1740.0 L142.14 1740.0 L143.21 1740.0 L144.29 1740.0 L145.36 1740.0 L146.43 1740.0 L147.50 1740.0 L148.57 1740.0 L149.64 1740.0 L150.71 1740.0 L151.79 1740.0 L152.86 1740.0 L153.93 1740.0 L155.00 1740.0 L156.07 1740.0 L157.14 1740.0 L158.21 1740.0 L159.29 1740.0 L160.36 1740.0 L161.43 1740.0 L162.50 1740.0 L163.57 1740.0 L164.64 1740.0 L165.71 1740.0 L166.79 1740.0 L167.86 1740.0 L168.93 1740.0 L170.00 1740.0 L171.07 1740.0 L172.14 1740.0 L173.21 1740.0 L174.29 1740.0 L175.36 1740.0 L176.43 1740.0 L177.50 1740.0 L178.57 1740.0 L179.64 1740.0 L180.71 1740.0 L181.79 1740.0 L182.86 1740.0 L183.93 1740.0 L185.00 1740.0 L186.07 1740.0 L187.14 1740.0 L188.21 1740.0 L189.29 1740.0 L190.36 1740.0 L191.43 1740.0 L192.50 1740.0 L193.57 1740.0 L194.64 1740.0 L195.71 1740.0 L196.79 1740.0 L197.86 1740.0 L198.93 1740.0 L200.00 1740.0 L201.07 1740.0 L202.14 1740.0 L203.21 1740.0 L204.29 1740.0 L205.36 1740.0 L206.43 1740.0 L207.50 1740.0 L208.57 1740.0 L209.64 1740.0 L210.71 1740.0 L211.79 1740.0 L212.86 1740.0 L213.93 1740.0 L215.00 1740.0 L216.07 1740.0 L217.14 1740.0 L218.21 1740.0 L219.29 1740.0 L220.36 1740.0 L221.43 1740.0 L222.50 1740.0 L223.57 1740.0 L224.64 1740.0 L225.71 1740.0 L226.79 1740.0 L227.86 1740.0 L228.93 1740.0 L230.00 1740.0 L231.07 1740.0 L232.14 1740.0 L233.21 1740.0 L234.29 1739.9 L235.36 1739.9 L236.43 1739.9 L237.50 1739.9 L238.57 1739.9 L239.64 1739.9 L240.71 1739.9 L241.79 1739.9 L242.86 1739.9 L243.93 1739.9 L245.00 1739.9 L246.07 1739.9 L247.14 1739.9 L248.21 1739.9 L249.29 1739.9 L250.36 1739.9 L251.43 1739.9 L252.50 1739.9 L253.57 1739.9 L254.64 1739.8 L255.71 1739.8 L256.79 1739.8 L257.86 1739.8 L258.93 1739.8 L260.00 1739.8 L261.07 1739.8 L262.14 1739.8 L263.21 1739.8 L264.29 1739.8 L265.36 1739.8 L266.43 1739.8 L267.50 1739.8 L268.57 1739.7 L269.64 1739.7 L270.71 1739.7 L271.79 1739.7 L272.86 1739.7 L273.93 1739.7 L275.00 1739.7 L276.07 1739.7 L277.14 1739.7 L278.21 1739.7 L279.29 1739.7 L280.36 1739.6 L281.43 1739.6 L282.50 1739.6 L283.57 1739.6 L284.64 1739.6 L285.71 1739.6 L286.79 1739.6 L287.86 1739.6 L288.93 1739.6 L290.00 1739.6 L291.07 1739.5 L292.14 1739.5 L293.21 1739.5 L294.29 1739.5 L295.36 1739.5 L296.43 1739.5 L297.50 1739.4 L298.57 1739.4 L299.64 1739.4 L300.71 1739.4 L301.79 1739.3 L302.86 1739.3 L303.93 1739.3 L305.00 1739.3 L306.07 1739.2 L307.14 1739.2 L308.21 1739.2 L309.29 1739.1 L310.36 1739.1 L311.43 1739.1 L312.50 1739.0 L313.57 1739.0 L314.64 1739.0 L315.71 1738.9 L316.79 1738.9 L317.86 1738.9 L318.93 1738.8 L320.00 1738.8 L321.07 1738.7 L322.14 1738.7 L323.21 1738.6 L324.29 1738.5 L325.36 1738.4 L326.43 1738.3 L327.50 1738.3 L328.57 1738.2 L329.64 1738.1 L330.71 1737.9 L331.79 1737.8 L332.86 1737.7 L333.93 1737.6 L335.00 1737.5 L336.07 1737.4 L337.14 1737.2 L338.21 1737.1 L339.29 1737.0 L340.36 1736.8 L341.43 1736.7 L342.50 1736.5 L343.57 1736.4 L344.64 1736.3 L345.71 1736.1 L346.79 1735.9 L347.86 1735.8 L348.93 1735.6 L350.00 1735.4 L351.07 1735.2 L352.14 1735.0 L353.21 1734.8 L354.29 1734.6 L355.36 1734.4 L356.43 1734.2 L357.50 1733.9 L358.57 1733.7 L359.64 1733.5 L360.71 1733.2 L361.79 1732.9 L362.86 1732.6 L363.93 1732.3 L365.00 1732.0 L366.07 1731.7 L367.14 1731.3 L368.21 1730.9 L369.29 1730.5 L370.36 1730.1 L371.43 1729.7 L372.50 1729.3 L373.57 1728.8 L374.64 1728.3 L375.71 1727.9 L376.79 1727.4 L377.86 1726.8 L378.93 1726.3 L380.00 1725.7 L381.07 1725.1 L382.14 1724.5 L383.21 1723.8 L384.29 1723.1 L385.36 1722.3 L386.43 1721.5 L387.50 1720.7 L388.57 1719.8 L389.64 1718.9 L390.71 1717.9 L391.79 1716.9 L392.86 1715.8 L393.93 1714.7 L395.00 1713.5 L396.07 1712.2 L397.14 1710.8 L398.21 1709.2 L399.29 1707.5 L400.36 1705.6 L401.43 1703.4 L402.50 1700.8 L403.57 1698.0 L404.64 1695.0 L405.71 1691.7 L406.79 1688.1 L407.86 1684.3 L408.93 1680.3 L410.00 1676.0 L411.07 1671.5 L412.14 1666.7 L413.21 1661.7 L414.29 1656.3 L415.36 1650.6 L416.43 1644.5 L417.50 1638.2 L418.57 1631.5 L419.64 1624.6 L420.71 1617.5 L421.79 1610.2 L422.86 1602.8 L423.93 1595.3 L425.00 1587.8 L426.07 1580.3 L427.14 1572.8 L428.21 1565.4 L429.29 1558.2 L430.36 1551.1 L431.43 1544.2 L432.50 1537.3 L433.57 1530.7 L434.64 1524.3 L435.71 1518.3 L436.79 1512.8 L437.86 1507.7 L438.93 1503.0 L440.00 1498.6 L441.07 1494.4 L442.14 1490.7 L443.21 1487.3 L444.29 1484.2 L445.36 1481.5 L446.43 1479.2 L447.50 1477.1 L448.57 1475.3 L449.64 1473.8 L450.71 1472.5 L451.79 1471.4 L452.86 1470.4 L453.93 1469.6 L455.00 1468.9 L456.07 1468.3 L457.14 1467.9 L458.21 1467.5 L459.29 1467.2 L460.36 1466.9 L461.43 1466.8 L462.50 1466.7 L463.57 1466.6 L464.64 1466.6 L465.71 1466.5 L466.79 1466.5 L467.86 1466.5 L468.93 1466.4 L470.00 1466.4 L471.07 1466.4 L472.14 1466.4 L473.21 1466.4 L474.29 1466.3 L475.36 1466.3 L476.43 1466.3 L477.50 1466.3 L478.57 1466.3 L479.64 1466.3 L480.71 1466.3 L481.79 1466.3 L482.86 1466.3 L483.93 1466.3 L485.00 1466.2 L486.07 1466.2 L487.14 1466.2 L488.21 1466.2 L489.29 1466.2 L490.36 1466.2 L491.43 1466.2 L492.50 1466.2 L493.57 1466.2 L494.64 1466.2 L495.71 1466.2 L496.79 1466.2 L497.86 1466.2 L498.93 1466.2 L500.00 1466.2 L501.07 1466.2 L502.14 1466.2 L503.21 1466.2 L504.29 1466.2 L505.36 1466.2 L506.43 1466.2 L507.50 1466.2 L508.57 1466.2 L509.64 1466.2 L510.71 1466.2 L511.79 1466.2 L512.86 1466.2 L513.93 1466.2 L515.00 1466.2 L516.07 1466.2 L517.14 1466.2" fill="none" stroke="#f2807a" stroke-width="1.9" stroke-linejoin="round"/>
<rect x="126.50" y="1734.60" width="18.00" height="12.00" fill="#0b0b0b"/>
<rect x="282.00" y="1734.60" width="18.00" height="12.00" fill="#0b0b0b"/>
<rect x="438.00" y="1731.70" width="18.00" height="12.00" fill="#0b0b0b"/>
<line x1="556.20" y1="1692.90" x2="556.20" y2="1726.20" stroke="#0b0b0b" stroke-width="2.5"/>
<line x1="546.40" y1="1692.90" x2="566.00" y2="1692.90" stroke="#0b0b0b" stroke-width="2.7"/>
<line x1="546.40" y1="1726.20" x2="566.00" y2="1726.20" stroke="#0b0b0b" stroke-width="2.7"/>
<rect x="547.20" y="1703.00" width="18.00" height="12.00" fill="#0b0b0b"/>
<line x1="603.40" y1="1538.00" x2="603.40" y2="1575.30" stroke="#0b0b0b" stroke-width="2.5"/>
<line x1="593.60" y1="1538.00" x2="613.20" y2="1538.00" stroke="#0b0b0b" stroke-width="2.7"/>
<line x1="593.60" y1="1575.30" x2="613.20" y2="1575.30" stroke="#0b0b0b" stroke-width="2.7"/>
<rect x="594.40" y="1551.10" width="18.00" height="12.00" fill="#0b0b0b"/>
<rect x="703.00" y="1466.70" width="18.00" height="10.80" fill="#0b0b0b"/>
<rect x="726.10" y="1455.50" width="18.00" height="12.00" fill="#0b0b0b"/>
<line x1="1256.50" y1="1461.00" x2="1256.50" y2="1744.00" stroke="#0b0b0b" stroke-width="3.0"/>
<line x1="1239.70" y1="1742.50" x2="1256.50" y2="1742.50" stroke="#0b0b0b" stroke-width="2.8"/>
<line x1="1247.30" y1="1736.90" x2="1256.50" y2="1736.90" stroke="#0b0b0b" stroke-width="2.4"/>
<line x1="1247.30" y1="1731.30" x2="1256.50" y2="1731.30" stroke="#0b0b0b" stroke-width="2.4"/>
<line x1="1247.30" y1="1725.70" x2="1256.50" y2="1725.70" stroke="#0b0b0b" stroke-width="2.4"/>
<line x1="1247.30" y1="1720.10" x2="1256.50" y2="1720.10" stroke="#0b0b0b" stroke-width="2.4"/>
<line x1="1247.30" y1="1714.50" x2="1256.50" y2="1714.50" stroke="#0b0b0b" stroke-width="2.4"/>
<line x1="1247.30" y1="1708.90" x2="1256.50" y2="1708.90" stroke="#0b0b0b" stroke-width="2.4"/>
<line x1="1247.30" y1="1703.30" x2="1256.50" y2="1703.30" stroke="#0b0b0b" stroke-width="2.4"/>
<line x1="1247.30" y1="1697.70" x2="1256.50" y2="1697.70" stroke="#0b0b0b" stroke-width="2.4"/>
<line x1="1247.30" y1="1692.10" x2="1256.50" y2="1692.10" stroke="#0b0b0b" stroke-width="2.4"/>
<line x1="1239.70" y1="1686.50" x2="1256.50" y2="1686.50" stroke="#0b0b0b" stroke-width="2.8"/>
<line x1="1247.30" y1="1680.90" x2="1256.50" y2="1680.90" stroke="#0b0b0b" stroke-width="2.4"/>
<line x1="1247.30" y1="1675.30" x2="1256.50" y2="1675.30" stroke="#0b0b0b" stroke-width="2.4"/>
<line x1="1247.30" y1="1669.70" x2="1256.50" y2="1669.70" stroke="#0b0b0b" stroke-width="2.4"/>
<line x1="1247.30" y1="1664.10" x2="1256.50" y2="1664.10" stroke="#0b0b0b" stroke-width="2.4"/>
<line x1="1247.30" y1="1658.50" x2="1256.50" y2="1658.50" stroke="#0b0b0b" stroke-width="2.4"/>
<line x1="1247.30" y1="1652.90" x2="1256.50" y2="1652.90" stroke="#0b0b0b" stroke-width="2.4"/>
<line x1="1247.30" y1="1647.30" x2="1256.50" y2="1647.30" stroke="#0b0b0b" stroke-width="2.4"/>
<line x1="1247.30" y1="1641.70" x2="1256.50" y2="1641.70" stroke="#0b0b0b" stroke-width="2.4"/>
<line x1="1247.30" y1="1636.10" x2="1256.50" y2="1636.10" stroke="#0b0b0b" stroke-width="2.4"/>
<line x1="1239.70" y1="1630.50" x2="1256.50" y2="1630.50" stroke="#0b0b0b" stroke-width="2.8"/>
<line x1="1247.30" y1="1624.90" x2="1256.50" y2="1624.90" stroke="#0b0b0b" stroke-width="2.4"/>
<line x1="1247.30" y1="1619.30" x2="1256.50" y2="1619.30" stroke="#0b0b0b" stroke-width="2.4"/>
<line x1="1247.30" y1="1613.70" x2="1256.50" y2="1613.70" stroke="#0b0b0b" stroke-width="2.4"/>
<line x1="1247.30" y1="1608.10" x2="1256.50" y2="1608.10" stroke="#0b0b0b" stroke-width="2.4"/>
<line x1="1247.30" y1="1602.50" x2="1256.50" y2="1602.50" stroke="#0b0b0b" stroke-width="2.4"/>
<line x1="1247.30" y1="1596.90" x2="1256.50" y2="1596.90" stroke="#0b0b0b" stroke-width="2.4"/>
<line x1="1247.30" y1="1591.30" x2="1256.50" y2="1591.30" stroke="#0b0b0b" stroke-width="2.4"/>
<line x1="1247.30" y1="1585.70" x2="1256.50" y2="1585.70" stroke="#0b0b0b" stroke-width="2.4"/>
<line x1="1247.30" y1="1580.10" x2="1256.50" y2="1580.10" stroke="#0b0b0b" stroke-width="2.4"/>
<line x1="1239.70" y1="1574.50" x2="1256.50" y2="1574.50" stroke="#0b0b0b" stroke-width="2.8"/>
<line x1="1247.30" y1="1568.90" x2="1256.50" y2="1568.90" stroke="#0b0b0b" stroke-width="2.4"/>
<line x1="1247.30" y1="1563.30" x2="1256.50" y2="1563.30" stroke="#0b0b0b" stroke-width="2.4"/>
<line x1="1247.30" y1="1557.70" x2="1256.50" y2="1557.70" stroke="#0b0b0b" stroke-width="2.4"/>
<line x1="1247.30" y1="1552.10" x2="1256.50" y2="1552.10" stroke="#0b0b0b" stroke-width="2.4"/>
<line x1="1247.30" y1="1546.50" x2="1256.50" y2="1546.50" stroke="#0b0b0b" stroke-width="2.4"/>
<line x1="1247.30" y1="1540.90" x2="1256.50" y2="1540.90" stroke="#0b0b0b" stroke-width="2.4"/>
<line x1="1247.30" y1="1535.30" x2="1256.50" y2="1535.30" stroke="#0b0b0b" stroke-width="2.4"/>
<line x1="1247.30" y1="1529.70" x2="1256.50" y2="1529.70" stroke="#0b0b0b" stroke-width="2.4"/>
<line x1="1247.30" y1="1524.10" x2="1256.50" y2="1524.10" stroke="#0b0b0b" stroke-width="2.4"/>
<line x1="1239.70" y1="1518.50" x2="1256.50" y2="1518.50" stroke="#0b0b0b" stroke-width="2.8"/>
<line x1="1247.30" y1="1512.90" x2="1256.50" y2="1512.90" stroke="#0b0b0b" stroke-width="2.4"/>
<line x1="1247.30" y1="1507.30" x2="1256.50" y2="1507.30" stroke="#0b0b0b" stroke-width="2.4"/>
<line x1="1247.30" y1="1501.70" x2="1256.50" y2="1501.70" stroke="#0b0b0b" stroke-width="2.4"/>
<line x1="1247.30" y1="1496.10" x2="1256.50" y2="1496.10" stroke="#0b0b0b" stroke-width="2.4"/>
<line x1="1247.30" y1="1490.50" x2="1256.50" y2="1490.50" stroke="#0b0b0b" stroke-width="2.4"/>
<line x1="1247.30" y1="1484.90" x2="1256.50" y2="1484.90" stroke="#0b0b0b" stroke-width="2.4"/>
<line x1="1247.30" y1="1479.30" x2="1256.50" y2="1479.30" stroke="#0b0b0b" stroke-width="2.4"/>
<line x1="1247.30" y1="1473.70" x2="1256.50" y2="1473.70" stroke="#0b0b0b" stroke-width="2.4"/>
<line x1="1247.30" y1="1468.10" x2="1256.50" y2="1468.10" stroke="#0b0b0b" stroke-width="2.4"/>
<line x1="1239.70" y1="1462.50" x2="1256.50" y2="1462.50" stroke="#0b0b0b" stroke-width="2.8"/>
<line x1="1239.50" y1="1742.50" x2="1881.40" y2="1742.50" stroke="#0b0b0b" stroke-width="3.0"/>
<line x1="1257.00" y1="1742.50" x2="1257.00" y2="1754.70" stroke="#0b0b0b" stroke-width="2.8"/>
<line x1="1412.75" y1="1742.50" x2="1412.75" y2="1754.70" stroke="#0b0b0b" stroke-width="2.8"/>
<line x1="1459.64" y1="1742.50" x2="1459.64" y2="1749.50" stroke="#0b0b0b" stroke-width="2.3"/>
<line x1="1487.06" y1="1742.50" x2="1487.06" y2="1749.50" stroke="#0b0b0b" stroke-width="2.3"/>
<line x1="1506.52" y1="1742.50" x2="1506.52" y2="1749.50" stroke="#0b0b0b" stroke-width="2.3"/>
<line x1="1521.61" y1="1742.50" x2="1521.61" y2="1749.50" stroke="#0b0b0b" stroke-width="2.3"/>
<line x1="1533.95" y1="1742.50" x2="1533.95" y2="1749.50" stroke="#0b0b0b" stroke-width="2.3"/>
<line x1="1544.37" y1="1742.50" x2="1544.37" y2="1749.50" stroke="#0b0b0b" stroke-width="2.3"/>
<line x1="1553.41" y1="1742.50" x2="1553.41" y2="1749.50" stroke="#0b0b0b" stroke-width="2.3"/>
<line x1="1561.37" y1="1742.50" x2="1561.37" y2="1749.50" stroke="#0b0b0b" stroke-width="2.3"/>
<line x1="1568.50" y1="1742.50" x2="1568.50" y2="1754.70" stroke="#0b0b0b" stroke-width="2.8"/>
<line x1="1615.39" y1="1742.50" x2="1615.39" y2="1749.50" stroke="#0b0b0b" stroke-width="2.3"/>
<line x1="1642.81" y1="1742.50" x2="1642.81" y2="1749.50" stroke="#0b0b0b" stroke-width="2.3"/>
<line x1="1662.27" y1="1742.50" x2="1662.27" y2="1749.50" stroke="#0b0b0b" stroke-width="2.3"/>
<line x1="1677.36" y1="1742.50" x2="1677.36" y2="1749.50" stroke="#0b0b0b" stroke-width="2.3"/>
<line x1="1689.70" y1="1742.50" x2="1689.70" y2="1749.50" stroke="#0b0b0b" stroke-width="2.3"/>
<line x1="1700.12" y1="1742.50" x2="1700.12" y2="1749.50" stroke="#0b0b0b" stroke-width="2.3"/>
<line x1="1709.16" y1="1742.50" x2="1709.16" y2="1749.50" stroke="#0b0b0b" stroke-width="2.3"/>
<line x1="1717.12" y1="1742.50" x2="1717.12" y2="1749.50" stroke="#0b0b0b" stroke-width="2.3"/>
<line x1="1724.25" y1="1742.50" x2="1724.25" y2="1754.70" stroke="#0b0b0b" stroke-width="2.8"/>
<line x1="1771.14" y1="1742.50" x2="1771.14" y2="1749.50" stroke="#0b0b0b" stroke-width="2.3"/>
<line x1="1798.56" y1="1742.50" x2="1798.56" y2="1749.50" stroke="#0b0b0b" stroke-width="2.3"/>
<line x1="1818.02" y1="1742.50" x2="1818.02" y2="1749.50" stroke="#0b0b0b" stroke-width="2.3"/>
<line x1="1833.11" y1="1742.50" x2="1833.11" y2="1749.50" stroke="#0b0b0b" stroke-width="2.3"/>
<line x1="1845.45" y1="1742.50" x2="1845.45" y2="1749.50" stroke="#0b0b0b" stroke-width="2.3"/>
<line x1="1855.87" y1="1742.50" x2="1855.87" y2="1749.50" stroke="#0b0b0b" stroke-width="2.3"/>
<line x1="1864.91" y1="1742.50" x2="1864.91" y2="1749.50" stroke="#0b0b0b" stroke-width="2.3"/>
<line x1="1872.87" y1="1742.50" x2="1872.87" y2="1749.50" stroke="#0b0b0b" stroke-width="2.3"/>
<line x1="1880.00" y1="1742.50" x2="1880.00" y2="1754.70" stroke="#0b0b0b" stroke-width="2.8"/>
<text transform="translate(1220.53 1750.40) scale(1.2515 1)" font-size="25.44" fill="#141414" stroke="#141414" stroke-width="0.18">0</text>
<text transform="translate(1191.85 1692.70) scale(1.2200 1)" font-size="27.62" fill="#141414" stroke="#141414" stroke-width="0.18">0.2</text>
<text transform="translate(1191.88 1636.70) scale(1.1993 1)" font-size="27.62" fill="#141414" stroke="#141414" stroke-width="0.18">0.4</text>
<text transform="translate(1191.86 1580.70) scale(1.2130 1)" font-size="27.62" fill="#141414" stroke="#141414" stroke-width="0.18">0.6</text>
<text transform="translate(1191.86 1524.70) scale(1.2130 1)" font-size="27.62" fill="#141414" stroke="#141414" stroke-width="0.18">0.8</text>
<text transform="translate(1192.22 1468.70) scale(1.1990 1)" font-size="27.62" fill="#141414" stroke="#141414" stroke-width="0.18">1.0</text>
<text transform="translate(1225.10 1778.10) scale(1.1755 1)" font-size="27.62" fill="#141414" stroke="#141414" stroke-width="0.18">0.01</text>
<text transform="translate(1389.53 1778.10) scale(1.1454 1)" font-size="27.62" fill="#141414" stroke="#141414" stroke-width="0.18">0.1</text>
<text transform="translate(1544.51 1778.10) scale(1.2018 1)" font-size="27.62" fill="#141414" stroke="#141414" stroke-width="0.18">1.0</text>
<text transform="translate(1708.53 1778.10) scale(1.0491 1)" font-size="27.62" fill="#141414" stroke="#141414" stroke-width="0.18">10</text>
<text transform="translate(1852.85 1778.10) scale(1.1853 1)" font-size="27.62" fill="#141414" stroke="#141414" stroke-width="0.18">100</text>
<text transform="translate(1452.65 1811.60) scale(1.2354 1)" font-size="27.62" fill="#141414" stroke="#141414" stroke-width="0.18">compound [µM]</text>
<text transform="translate(1475.06 1458.80) scale(1.1854 1)" font-size="28.49" font-weight="bold" fill="#141414">A2 - TRESK</text>
<text transform="translate(1158.80 1631.99) rotate(-90) scale(1 1.2014)" font-size="29.03" fill="#141414">I/I</text>
<text transform="translate(1170.80 1608.80) rotate(-90) scale(1 1.2886)" font-size="16.24" fill="#141414" stroke="#141414" stroke-width="0.1">max</text>
<path transform="scale(1.4 1)" d="M898.57 1472.4 L899.64 1472.4 L900.71 1472.4 L901.79 1472.4 L902.86 1472.4 L903.93 1472.4 L905.00 1472.4 L906.07 1472.4 L907.14 1472.4 L908.21 1472.4 L909.29 1472.4 L910.36 1472.4 L911.43 1472.4 L912.50 1472.4 L913.57 1472.4 L914.64 1472.4 L915.71 1472.4 L916.79 1472.4 L917.86 1472.4 L918.93 1472.4 L920.00 1472.4 L921.07 1472.4 L922.14 1472.4 L923.21 1472.4 L924.29 1472.4 L925.36 1472.4 L926.43 1472.4 L927.50 1472.5 L928.57 1472.5 L929.64 1472.5 L930.71 1472.5 L931.79 1472.5 L932.86 1472.5 L933.93 1472.5 L935.00 1472.5 L936.07 1472.5 L937.14 1472.5 L938.21 1472.5 L939.29 1472.5 L940.36 1472.5 L941.43 1472.5 L942.50 1472.5 L943.57 1472.5 L944.64 1472.5 L945.71 1472.5 L946.79 1472.5 L947.86 1472.5 L948.93 1472.6 L950.00 1472.6 L951.07 1472.6 L952.14 1472.6 L953.21 1472.6 L954.29 1472.6 L955.36 1472.6 L956.43 1472.6 L957.50 1472.6 L958.57 1472.6 L959.64 1472.6 L960.71 1472.6 L961.79 1472.6 L962.86 1472.7 L963.93 1472.7 L965.00 1472.7 L966.07 1472.7 L967.14 1472.7 L968.21 1472.7 L969.29 1472.8 L970.36 1472.8 L971.43 1472.8 L972.50 1472.8 L973.57 1472.8 L974.64 1472.9 L975.71 1472.9 L976.79 1472.9 L977.86 1472.9 L978.93 1473.0 L980.00 1473.0 L981.07 1473.0 L982.14 1473.0 L983.21 1473.1 L984.29 1473.1 L985.36 1473.1 L986.43 1473.2 L987.50 1473.2 L988.57 1473.2 L989.64 1473.3 L990.71 1473.3 L991.79 1473.3 L992.86 1473.4 L993.93 1473.4 L995.00 1473.4 L996.07 1473.5 L997.14 1473.5 L998.21 1473.5 L999.29 1473.6 L1000.36 1473.6 L1001.43 1473.7 L1002.50 1473.7 L1003.57 1473.7 L1004.64 1473.8 L1005.71 1473.8 L1006.79 1473.9 L1007.86 1473.9 L1008.93 1474.0 L1010.00 1474.0 L1011.07 1474.1 L1012.14 1474.2 L1013.21 1474.2 L1014.29 1474.3 L1015.36 1474.3 L1016.43 1474.4 L1017.50 1474.5 L1018.57 1474.5 L1019.64 1474.6 L1020.71 1474.7 L1021.79 1474.7 L1022.86 1474.8 L1023.93 1474.9 L1025.00 1475.0 L1026.07 1475.0 L1027.14 1475.1 L1028.21 1475.2 L1029.29 1475.2 L1030.36 1475.3 L1031.43 1475.4 L1032.50 1475.5 L1033.57 1475.6 L1034.64 1475.6 L1035.71 1475.7 L1036.79 1475.8 L1037.86 1475.9 L1038.93 1476.0 L1040.00 1476.1 L1041.07 1476.1 L1042.14 1476.2 L1043.21 1476.3 L1044.29 1476.4 L1045.36 1476.5 L1046.43 1476.6 L1047.50 1476.7 L1048.57 1476.8 L1049.64 1476.9 L1050.71 1477.0 L1051.79 1477.1 L1052.86 1477.2 L1053.93 1477.3 L1055.00 1477.4 L1056.07 1477.5 L1057.14 1477.6 L1058.21 1477.7 L1059.29 1477.8 L1060.36 1477.9 L1061.43 1478.0 L1062.50 1478.1 L1063.57 1478.2 L1064.64 1478.4 L1065.71 1478.5 L1066.79 1478.6 L1067.86 1478.7 L1068.93 1478.8 L1070.00 1478.9 L1071.07 1479.1 L1072.14 1479.2 L1073.21 1479.3 L1074.29 1479.4 L1075.36 1479.6 L1076.43 1479.7 L1077.50 1479.8 L1078.57 1480.0 L1079.64 1480.1 L1080.71 1480.3 L1081.79 1480.4 L1082.86 1480.6 L1083.93 1480.7 L1085.00 1480.9 L1086.07 1481.1 L1087.14 1481.2 L1088.21 1481.4 L1089.29 1481.6 L1090.36 1481.8 L1091.43 1481.9 L1092.50 1482.1 L1093.57 1482.3 L1094.64 1482.5 L1095.71 1482.7 L1096.79 1482.9 L1097.86 1483.2 L1098.93 1483.4 L1100.00 1483.6 L1101.07 1483.8 L1102.14 1484.1 L1103.21 1484.3 L1104.29 1484.6 L1105.36 1484.8 L1106.43 1485.1 L1107.50 1485.4 L1108.57 1485.6 L1109.64 1485.9 L1110.71 1486.2 L1111.79 1486.5 L1112.86 1486.8 L1113.93 1487.1 L1115.00 1487.4 L1116.07 1487.8 L1117.14 1488.2 L1118.21 1488.6 L1119.29 1489.0 L1120.36 1489.4 L1121.43 1489.9 L1122.50 1490.3 L1123.57 1490.8 L1124.64 1491.3 L1125.71 1491.7 L1126.79 1492.2 L1127.86 1492.7 L1128.93 1493.1 L1130.00 1493.6 L1131.07 1494.1 L1132.14 1494.5 L1133.21 1495.0 L1134.29 1495.5 L1135.36 1496.0 L1136.43 1496.4 L1137.50 1496.9 L1138.57 1497.4 L1139.64 1498.0 L1140.71 1498.5 L1141.79 1499.1 L1142.86 1499.6 L1143.93 1500.2 L1145.00 1500.9 L1146.07 1501.5 L1147.14 1502.2 L1148.21 1502.8 L1149.29 1503.5 L1150.36 1504.3 L1151.43 1505.0 L1152.50 1505.7 L1153.57 1506.5 L1154.64 1507.2 L1155.71 1508.0 L1156.79 1508.8 L1157.86 1509.5 L1158.93 1510.3 L1160.00 1511.1 L1161.07 1511.9 L1162.14 1512.7 L1163.21 1513.5 L1164.29 1514.3 L1165.36 1515.1 L1166.43 1516.0 L1167.50 1516.8 L1168.57 1517.7 L1169.64 1518.5 L1170.71 1519.4 L1171.79 1520.3 L1172.86 1521.2 L1173.93 1522.1 L1175.00 1523.1 L1176.07 1524.0 L1177.14 1524.9 L1178.21 1525.9 L1179.29 1526.9 L1180.36 1527.9 L1181.43 1528.9 L1182.50 1529.9 L1183.57 1530.9 L1184.64 1532.0 L1185.71 1533.0 L1186.79 1534.1 L1187.86 1535.2 L1188.93 1536.3 L1190.00 1537.5 L1191.07 1538.7 L1192.14 1539.8 L1193.21 1541.0 L1194.29 1542.3 L1195.36 1543.5 L1196.43 1544.7 L1197.50 1546.0 L1198.57 1547.3 L1199.64 1548.6 L1200.71 1549.9 L1201.79 1551.2 L1202.86 1552.6 L1203.93 1554.0 L1205.00 1555.4 L1206.07 1556.8 L1207.14 1558.2 L1208.21 1559.6 L1209.29 1561.1 L1210.36 1562.6 L1211.43 1564.0 L1212.50 1565.5 L1213.57 1567.0 L1214.64 1568.5 L1215.71 1570.0 L1216.79 1571.5 L1217.86 1573.0 L1218.93 1574.6 L1220.00 1576.1 L1221.07 1577.6 L1222.14 1579.2 L1223.21 1580.8 L1224.29 1582.4 L1225.36 1584.0 L1226.43 1585.7 L1227.50 1587.3 L1228.57 1589.0 L1229.64 1590.8 L1230.71 1592.6 L1231.79 1594.4 L1232.86 1596.2 L1233.93 1598.0 L1235.00 1599.9 L1236.07 1601.8 L1237.14 1603.7 L1238.21 1605.7 L1239.29 1607.6 L1240.36 1609.5 L1241.43 1611.4 L1242.50 1613.4 L1243.57 1615.3 L1244.64 1617.2 L1245.71 1619.2 L1246.79 1621.1 L1247.86 1623.1 L1248.93 1625.1 L1250.00 1627.1 L1251.07 1629.0 L1252.14 1631.0 L1253.21 1633.0 L1254.29 1634.9 L1255.36 1636.8 L1256.43 1638.7 L1257.50 1640.6 L1258.57 1642.5 L1259.64 1644.4 L1260.71 1646.2 L1261.79 1648.1 L1262.86 1649.9 L1263.93 1651.8 L1265.00 1653.6 L1266.07 1655.4 L1267.14 1657.1 L1268.21 1658.9 L1269.29 1660.6 L1270.36 1662.3 L1271.43 1664.0 L1272.50 1665.6 L1273.57 1667.2 L1274.64 1668.8 L1275.71 1670.4 L1276.79 1672.0 L1277.86 1673.5 L1278.93 1675.1 L1280.00 1676.5 L1281.07 1678.0 L1282.14 1679.4 L1283.21 1680.8 L1284.29 1682.2 L1285.36 1683.5 L1286.43 1684.8 L1287.50 1686.1 L1288.57 1687.4 L1289.64 1688.7 L1290.71 1689.9 L1291.79 1691.1 L1292.86 1692.3 L1293.93 1693.4 L1295.00 1694.5 L1296.07 1695.6 L1297.14 1696.6 L1298.21 1697.5 L1299.29 1698.4 L1300.36 1699.2 L1301.43 1700.0 L1302.50 1700.8 L1303.57 1701.5 L1304.64 1702.2 L1305.71 1702.9 L1306.79 1703.5 L1307.86 1704.1 L1308.93 1704.7 L1310.00 1705.2 L1311.07 1705.7 L1312.14 1706.2 L1313.21 1706.6 L1314.29 1707.0 L1315.36 1707.3 L1316.43 1707.6 L1317.50 1707.9 L1318.57 1708.1 L1319.64 1708.4 L1320.71 1708.6 L1321.79 1708.8 L1322.86 1709.0 L1323.93 1709.2 L1325.00 1709.4 L1326.07 1709.6 L1327.14 1709.8 L1328.21 1709.9 L1329.29 1710.1 L1330.36 1710.2 L1331.43 1710.4 L1332.50 1710.5 L1333.57 1710.6 L1334.64 1710.7 L1335.71 1710.8 L1336.79 1710.9" fill="none" stroke="#f2807a" stroke-width="1.9" stroke-linejoin="round"/>
<rect x="1248.30" y="1456.60" width="18.00" height="11.00" fill="#0b0b0b"/>
<rect x="1403.90" y="1468.60" width="18.00" height="12.80" fill="#0b0b0b"/>
<rect x="1559.70" y="1488.00" width="18.00" height="18.60" fill="#0b0b0b"/>
<line x1="1677.40" y1="1529.00" x2="1677.40" y2="1562.30" stroke="#0b0b0b" stroke-width="2.5"/>
<line x1="1667.60" y1="1529.00" x2="1687.20" y2="1529.00" stroke="#0b0b0b" stroke-width="2.7"/>
<line x1="1667.60" y1="1562.30" x2="1687.20" y2="1562.30" stroke="#0b0b0b" stroke-width="2.7"/>
<rect x="1668.40" y="1540.00" width="18.00" height="13.00" fill="#0b0b0b"/>
<line x1="1724.30" y1="1584.30" x2="1724.30" y2="1608.30" stroke="#0b0b0b" stroke-width="2.5"/>
<line x1="1714.50" y1="1584.30" x2="1734.10" y2="1584.30" stroke="#0b0b0b" stroke-width="2.7"/>
<line x1="1714.50" y1="1608.30" x2="1734.10" y2="1608.30" stroke="#0b0b0b" stroke-width="2.7"/>
<rect x="1715.30" y="1591.00" width="18.00" height="12.00" fill="#0b0b0b"/>
<rect x="1824.20" y="1684.30" width="18.00" height="11.60" fill="#0b0b0b"/>
<rect x="1871.40" y="1705.80" width="18.00" height="12.00" fill="#0b0b0b"/>
<line x1="134.50" y1="1883.00" x2="134.50" y2="2015.30" stroke="#0b0b0b" stroke-width="3.2"/>
<line x1="111.90" y1="1884.70" x2="134.50" y2="1884.70" stroke="#0b0b0b" stroke-width="3.5"/>
<line x1="111.90" y1="1929.40" x2="134.50" y2="1929.40" stroke="#0b0b0b" stroke-width="3.5"/>
<line x1="111.90" y1="1973.60" x2="134.50" y2="1973.60" stroke="#0b0b0b" stroke-width="3.5"/>
<line x1="123.00" y1="2015.30" x2="146.60" y2="2015.30" stroke="#0b0b0b" stroke-width="2.7"/>
<line x1="134.50" y1="2038.00" x2="134.50" y2="2168.00" stroke="#0b0b0b" stroke-width="3.2"/>
<line x1="123.00" y1="2038.00" x2="146.60" y2="2038.00" stroke="#0b0b0b" stroke-width="2.7"/>
<line x1="118.00" y1="2142.00" x2="134.50" y2="2142.00" stroke="#0b0b0b" stroke-width="3.4"/>
<line x1="118.00" y1="2116.00" x2="134.50" y2="2116.00" stroke="#0b0b0b" stroke-width="3.4"/>
<line x1="118.00" y1="2090.00" x2="134.50" y2="2090.00" stroke="#0b0b0b" stroke-width="3.4"/>
<line x1="118.00" y1="2064.00" x2="134.50" y2="2064.00" stroke="#0b0b0b" stroke-width="3.4"/>
<line x1="165.85" y1="1915.50" x2="165.85" y2="1968.30" stroke="#0b0b0b" stroke-width="3.0"/>
<line x1="156.75" y1="1915.50" x2="174.95" y2="1915.50" stroke="#0b0b0b" stroke-width="3.0"/>
<rect x="150.45" y="1968.30" width="30.80" height="47.00" fill="#5b5a60"/>
<rect x="150.45" y="2038.00" width="30.80" height="130.00" fill="#5b5a60"/>
<path d="M150.4 2015.3 L150.4 1968.3 L181.2 1968.3 L181.2 2015.3" fill="none" stroke="#0b0b0b" stroke-width="2.05" stroke-linejoin="round" stroke-linejoin="miter"/>
<line x1="150.45" y1="2038.00" x2="150.45" y2="2168.00" stroke="#0b0b0b" stroke-width="2.05"/>
<line x1="181.25" y1="2038.00" x2="181.25" y2="2168.00" stroke="#0b0b0b" stroke-width="2.05"/>
<line x1="165.45" y1="2168.00" x2="165.45" y2="2180.30" stroke="#0b0b0b" stroke-width="4.0"/>
<text transform="translate(176.65 2193.50) scale(1.24 1) rotate(-45) scale(1 1.04)" font-size="27.2" text-anchor="end" fill="#141414" stroke="#141414" stroke-width="0.15">TREK1</text>
<line x1="212.58" y1="1952.20" x2="212.58" y2="1991.00" stroke="#0b0b0b" stroke-width="3.0"/>
<line x1="203.48" y1="1952.20" x2="221.68" y2="1952.20" stroke="#0b0b0b" stroke-width="3.0"/>
<rect x="197.18" y="1991.00" width="30.80" height="24.30" fill="#abaaae"/>
<rect x="197.18" y="2038.00" width="30.80" height="130.00" fill="#abaaae"/>
<path d="M197.2 2015.3 L197.2 1991.0 L228.0 1991.0 L228.0 2015.3" fill="none" stroke="#0b0b0b" stroke-width="2.05" stroke-linejoin="round" stroke-linejoin="miter"/>
<line x1="197.18" y1="2038.00" x2="197.18" y2="2168.00" stroke="#0b0b0b" stroke-width="2.05"/>
<line x1="227.98" y1="2038.00" x2="227.98" y2="2168.00" stroke="#0b0b0b" stroke-width="2.05"/>
<line x1="212.18" y1="2168.00" x2="212.18" y2="2180.30" stroke="#0b0b0b" stroke-width="4.0"/>
<text transform="translate(223.38 2193.50) scale(1.24 1) rotate(-45) scale(1 1.04)" font-size="27.2" text-anchor="end" fill="#141414" stroke="#141414" stroke-width="0.15">TREK2</text>
<line x1="259.31" y1="2131.00" x2="259.31" y2="2137.40" stroke="#0b0b0b" stroke-width="3.0"/>
<line x1="250.21" y1="2131.00" x2="268.41" y2="2131.00" stroke="#0b0b0b" stroke-width="3.0"/>
<rect x="243.91" y="2137.40" width="30.80" height="30.60" fill="#8b8b8b" stroke="#0b0b0b" stroke-width="2.05"/>
<line x1="258.91" y1="2168.00" x2="258.91" y2="2180.30" stroke="#0b0b0b" stroke-width="4.0"/>
<text transform="translate(270.11 2193.50) scale(1.24 1) rotate(-45) scale(1 1.04)" font-size="27.2" text-anchor="end" fill="#141414" stroke="#141414" stroke-width="0.15">TRAAK</text>
<line x1="306.04" y1="2141.00" x2="306.04" y2="2143.00" stroke="#0b0b0b" stroke-width="3.0"/>
<line x1="296.94" y1="2141.00" x2="315.14" y2="2141.00" stroke="#0b0b0b" stroke-width="3.0"/>
<rect x="290.64" y="2143.00" width="30.80" height="25.00" fill="#dedede" stroke="#0b0b0b" stroke-width="2.05"/>
<line x1="305.64" y1="2168.00" x2="305.64" y2="2180.30" stroke="#0b0b0b" stroke-width="4.0"/>
<text transform="translate(316.84 2193.50) scale(1.24 1) rotate(-45) scale(1 1.04)" font-size="27.2" text-anchor="end" fill="#141414" stroke="#141414" stroke-width="0.15">TALK-1</text>
<line x1="352.77" y1="2122.80" x2="352.77" y2="2129.60" stroke="#0b0b0b" stroke-width="3.0"/>
<line x1="343.67" y1="2122.80" x2="361.87" y2="2122.80" stroke="#0b0b0b" stroke-width="3.0"/>
<rect x="337.37" y="2129.60" width="30.80" height="38.40" fill="#707070" stroke="#0b0b0b" stroke-width="2.05"/>
<line x1="352.37" y1="2168.00" x2="352.37" y2="2180.30" stroke="#0b0b0b" stroke-width="4.0"/>
<text transform="translate(365.57 2193.50) scale(1.24 1) rotate(-45) scale(1 1.04)" font-size="27.2" text-anchor="end" fill="#141414" stroke="#141414" stroke-width="0.15">TALK-2</text>
<line x1="399.50" y1="2145.40" x2="399.50" y2="2148.00" stroke="#0b0b0b" stroke-width="3.0"/>
<line x1="390.40" y1="2145.40" x2="408.60" y2="2145.40" stroke="#0b0b0b" stroke-width="3.0"/>
<rect x="384.10" y="2148.00" width="30.80" height="20.00" fill="#a3a3a3" stroke="#0b0b0b" stroke-width="2.05"/>
<line x1="399.10" y1="2168.00" x2="399.10" y2="2180.30" stroke="#0b0b0b" stroke-width="4.0"/>
<text transform="translate(414.30 2193.50) scale(1.24 1) rotate(-45) scale(1 1.04)" font-size="27.2" text-anchor="end" fill="#141414" stroke="#141414" stroke-width="0.15">TASK-1</text>
<line x1="446.23" y1="2138.80" x2="446.23" y2="2143.80" stroke="#0b0b0b" stroke-width="3.0"/>
<line x1="437.13" y1="2138.80" x2="455.33" y2="2138.80" stroke="#0b0b0b" stroke-width="3.0"/>
<rect x="430.83" y="2143.80" width="30.80" height="24.20" fill="#6c6c6c" stroke="#0b0b0b" stroke-width="2.05"/>
<line x1="445.83" y1="2168.00" x2="445.83" y2="2180.30" stroke="#0b0b0b" stroke-width="4.0"/>
<text transform="translate(462.03 2193.50) scale(1.24 1) rotate(-45) scale(1 1.04)" font-size="27.2" text-anchor="end" fill="#141414" stroke="#141414" stroke-width="0.15">TASK-2</text>
<line x1="492.96" y1="2147.20" x2="492.96" y2="2151.90" stroke="#0b0b0b" stroke-width="3.0"/>
<line x1="483.86" y1="2147.20" x2="502.06" y2="2147.20" stroke="#0b0b0b" stroke-width="3.0"/>
<rect x="477.56" y="2151.90" width="30.80" height="16.10" fill="#f2f2f2" stroke="#0b0b0b" stroke-width="2.05"/>
<line x1="492.56" y1="2168.00" x2="492.56" y2="2180.30" stroke="#0b0b0b" stroke-width="4.0"/>
<text transform="translate(509.76 2193.50) scale(1.24 1) rotate(-45) scale(1 1.04)" font-size="27.2" text-anchor="end" fill="#141414" stroke="#141414" stroke-width="0.15">TASK-3</text>
<line x1="539.69" y1="2143.00" x2="539.69" y2="2145.80" stroke="#0b0b0b" stroke-width="3.0"/>
<line x1="530.59" y1="2143.00" x2="548.79" y2="2143.00" stroke="#0b0b0b" stroke-width="3.0"/>
<rect x="524.29" y="2145.80" width="30.80" height="22.20" fill="#a8a8a8" stroke="#0b0b0b" stroke-width="2.05"/>
<line x1="539.29" y1="2168.00" x2="539.29" y2="2180.30" stroke="#0b0b0b" stroke-width="4.0"/>
<text transform="translate(551.49 2193.50) scale(1.24 1) rotate(-45) scale(1 1.04)" font-size="27.2" text-anchor="end" fill="#141414" stroke="#141414" stroke-width="0.15">THIK-1</text>
<line x1="586.42" y1="2137.40" x2="586.42" y2="2141.00" stroke="#0b0b0b" stroke-width="3.0"/>
<line x1="577.32" y1="2137.40" x2="595.52" y2="2137.40" stroke="#0b0b0b" stroke-width="3.0"/>
<rect x="571.02" y="2141.00" width="30.80" height="27.00" fill="#5c5b61" stroke="#0b0b0b" stroke-width="2.05"/>
<line x1="586.02" y1="2168.00" x2="586.02" y2="2180.30" stroke="#0b0b0b" stroke-width="4.0"/>
<text transform="translate(597.22 2193.50) scale(1.24 1) rotate(-45) scale(1 1.04)" font-size="27.2" text-anchor="end" fill="#141414" stroke="#141414" stroke-width="0.15">THIK-2</text>
<line x1="633.15" y1="2153.30" x2="633.15" y2="2155.50" stroke="#0b0b0b" stroke-width="3.0"/>
<line x1="624.05" y1="2153.30" x2="642.25" y2="2153.30" stroke="#0b0b0b" stroke-width="3.0"/>
<rect x="617.75" y="2155.50" width="30.80" height="12.50" fill="#9c9c9c" stroke="#0b0b0b" stroke-width="2.05"/>
<line x1="632.75" y1="2168.00" x2="632.75" y2="2180.30" stroke="#0b0b0b" stroke-width="4.0"/>
<text transform="translate(644.95 2193.50) scale(1.24 1) rotate(-45) scale(1 1.04)" font-size="27.2" text-anchor="end" fill="#141414" stroke="#141414" stroke-width="0.15">TRESK</text>
<line x1="679.88" y1="2143.90" x2="679.88" y2="2150.00" stroke="#0b0b0b" stroke-width="3.0"/>
<line x1="670.78" y1="2143.90" x2="688.98" y2="2143.90" stroke="#0b0b0b" stroke-width="3.0"/>
<rect x="664.48" y="2150.00" width="30.80" height="18.00" fill="#8a8a8a" stroke="#0b0b0b" stroke-width="2.05"/>
<line x1="679.48" y1="2168.00" x2="679.48" y2="2180.30" stroke="#0b0b0b" stroke-width="4.0"/>
<text transform="translate(690.68 2193.50) scale(1.24 1) rotate(-45) scale(1 1.04)" font-size="27.2" text-anchor="end" fill="#141414" stroke="#141414" stroke-width="0.15">TWIK-1</text>
<line x1="726.61" y1="2139.40" x2="726.61" y2="2143.90" stroke="#0b0b0b" stroke-width="3.0"/>
<line x1="717.51" y1="2139.40" x2="735.71" y2="2139.40" stroke="#0b0b0b" stroke-width="3.0"/>
<rect x="711.21" y="2143.90" width="30.80" height="24.10" fill="#dadada" stroke="#0b0b0b" stroke-width="2.05"/>
<line x1="726.21" y1="2168.00" x2="726.21" y2="2180.30" stroke="#0b0b0b" stroke-width="4.0"/>
<text transform="translate(741.41 2193.50) scale(1.24 1) rotate(-45) scale(1 1.04)" font-size="27.2" text-anchor="end" fill="#141414" stroke="#141414" stroke-width="0.15">TWIK-2</text>
<line x1="118.00" y1="2168.00" x2="758.30" y2="2168.00" stroke="#0b0b0b" stroke-width="3.4"/>
<text transform="translate(56.15 1894.00) scale(1.2602 1)" font-size="25.87" fill="#141414" stroke="#141414" stroke-width="0.18">150</text>
<text transform="translate(56.15 1938.70) scale(1.2602 1)" font-size="25.87" fill="#141414" stroke="#141414" stroke-width="0.18">100</text>
<text transform="translate(74.19 1982.90) scale(1.2653 1)" font-size="25.87" fill="#141414" stroke="#141414" stroke-width="0.18">50</text>
<text transform="translate(92.96 2176.90) scale(1.1847 1)" font-size="26.16" fill="#141414" stroke="#141414" stroke-width="0.18">0</text>
<text transform="translate(91.63 2150.90) scale(1.3080 1)" font-size="26.16" fill="#141414" stroke="#141414" stroke-width="0.18">1</text>
<text transform="translate(92.57 2124.90) scale(1.2433 1)" font-size="26.16" fill="#141414" stroke="#141414" stroke-width="0.18">2</text>
<text transform="translate(93.03 2098.90) scale(1.1909 1)" font-size="26.16" fill="#141414" stroke="#141414" stroke-width="0.18">3</text>
<text transform="translate(93.54 2072.90) scale(1.1202 1)" font-size="26.16" fill="#141414" stroke="#141414" stroke-width="0.18">4</text>
<text transform="translate(92.95 2046.90) scale(1.1909 1)" font-size="26.16" fill="#141414" stroke="#141414" stroke-width="0.18">5</text>
<text transform="translate(51.30 2168.40) rotate(-90) scale(1 1.2830)" font-size="26.96" fill="#141414" stroke="#141414" stroke-width="0.18">fold increase at -80 mV</text>
<text transform="translate(376.18 1882.10) scale(1.2050 1)" font-size="28.20" font-weight="bold" fill="#141414">10 µM A2</text>
<text transform="translate(0.63 32.65) scale(0.9622 1)" font-size="43.02" font-weight="bold" fill="#0a0a0a">(A)</text>
<text transform="translate(0.63 645.30) scale(0.9622 1)" font-size="43.02" font-weight="bold" fill="#0a0a0a">(B)</text>
<text transform="translate(0.63 1038.20) scale(0.9622 1)" font-size="43.02" font-weight="bold" fill="#0a0a0a">(C)</text>
<text transform="translate(0.63 1458.65) scale(0.9622 1)" font-size="43.02" font-weight="bold" fill="#0a0a0a">(D)</text>
<text transform="translate(0.62 1858.30) scale(0.9674 1)" font-size="43.02" font-weight="bold" fill="#0a0a0a">(E)</text>
</svg>
</body></html>
